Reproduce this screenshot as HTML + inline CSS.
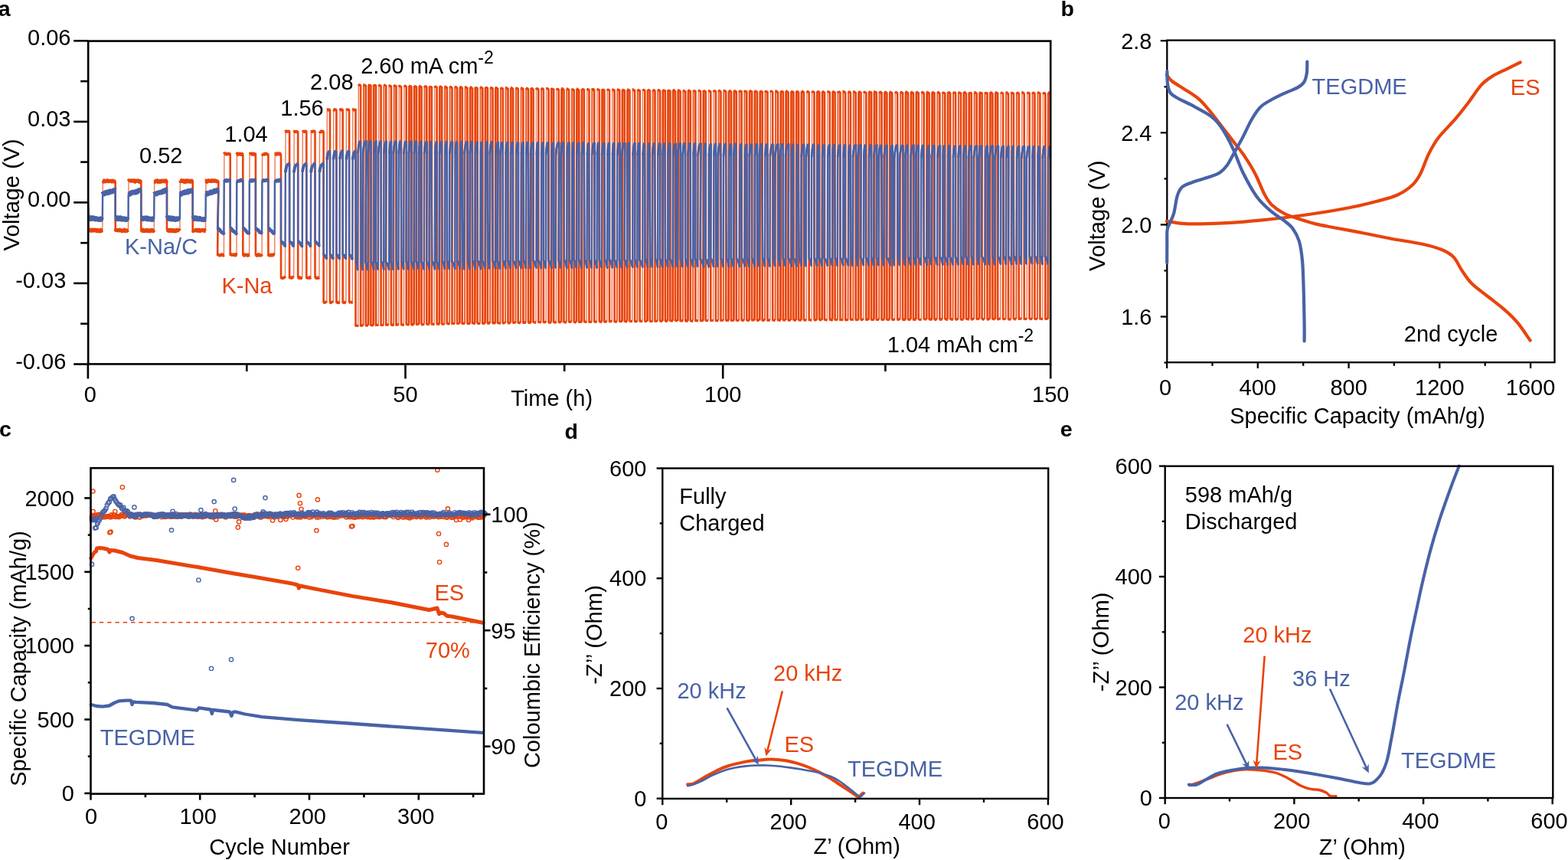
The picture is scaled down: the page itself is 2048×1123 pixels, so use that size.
<!DOCTYPE html>
<html><head><meta charset="utf-8"><title>Figure</title>
<style>html,body{margin:0;padding:0;background:#fff;width:2048px;height:1123px;overflow:hidden}svg{display:block}</style>
</head><body>
<svg width="2048" height="1123" viewBox="0 0 2048 1123" font-family="&quot;Liberation Sans&quot;, Arial, sans-serif">
<rect width="2048" height="1123" fill="#fff"/>
<g clip-path="url(#clipA)">
<path d="M114.9 267.9 L115.7 302.4 L117 300.7 L117.7 300.4 L118.4 301.3 L119.1 300.2 L119.8 301.1 L120.5 300.7 L121.2 300.2 L121.9 301 L122.6 300.2 L123.3 300.9 L124 300.2 L124.7 300.3 L125.4 300.9 L126.1 301.6 L126.8 300.3 L127.5 300.5 L128.2 301.2 L128.9 301.8 L129.6 301.1 L130.3 300.8 L131 301.8 L131.7 300.2 L132.4 301.6 L133.1 300.6 L133.8 300.3 M134 235.9 L134.7 236.3 L135.4 237.2 L136.2 236 L136.9 236.8 L137.6 236.9 L138.3 236.4 L139.1 236.7 L139.8 235.8 L140.5 235.8 L141.2 236.1 L142 236.9 L142.7 236.5 L143.4 236.3 L144.1 236.8 L144.9 236.5 L145.6 236.2 L146.3 237.1 L147 237 L147.8 236.1 L148.5 236.7 L149.2 236.7 L149.9 237.3 L150.7 237 L150.7 301.8 L151.4 300.4 L152.1 300.4 L152.8 300.5 L153.5 300.5 L154.2 301 L154.9 301.1 L155.6 300.6 L156.3 300.1 L157 300.8 L157.7 300.8 L158.4 301.1 L159.1 301.8 L159.8 301.3 L160.5 301 L161.2 301.2 L161.9 301.3 L162.6 300.2 L163.3 301.7 L164 301.5 L164.7 301.7 L165.4 301.5 L166.1 300.8 L166.8 300.8 L167.5 300.3 M167.7 236.8 L168.4 235.8 L169.1 235.8 L169.8 236.1 L170.6 236 L171.3 236.3 L172 235.8 L172.7 235.7 L173.5 236 L174.2 235.9 L174.9 236.4 L175.6 235.8 L176.4 237.3 L177.1 236.8 L177.8 236 L178.5 236.2 L179.3 236.3 L180 236.4 L180.7 235.9 L181.4 237.2 L182.2 237.5 L182.9 236.5 L183.6 236.6 L184.3 235.9 L184.3 301.6 L185 301 L185.7 301.3 L186.4 301.5 L187.1 300.2 L187.8 301.3 L188.5 301.7 L189.2 301.5 L190 301.4 L190.7 300.9 L191.4 300.4 L192.1 301.5 L192.8 300.7 L193.5 301.5 L194.2 301.8 L194.9 300.8 L195.6 300.8 L196.3 301.8 L197 301.4 L197.7 300.4 L198.4 300.3 L199.1 300.4 L199.8 301.7 L200.5 301.5 L201.2 300.4 M201.3 237.2 L202.1 237.5 L202.8 236.9 L203.5 236.3 L204.2 236.7 L205 235.9 L205.7 235.7 L206.4 237.5 L207.1 236.9 L207.9 236.7 L208.6 237.4 L209.3 236.5 L210 237.3 L210.8 237.2 L211.5 236.1 L212.2 236.2 L212.9 236.2 L213.7 236.1 L214.4 236.8 L215.1 236.2 L215.8 236.5 L216.6 235.9 L217.3 237.3 L218 236.3 L218 300.2 L218.7 300.5 L219.4 300.2 L220.1 301.3 L220.8 301.5 L221.5 301.7 L222.2 300.4 L222.9 301.4 L223.6 301.3 L224.3 300.3 L225 301.7 L225.7 301.8 L226.4 300.5 L227.1 301.8 L227.8 300.8 L228.5 301 L229.2 301.9 L229.9 301.6 L230.6 300.4 L231.4 300.9 L232.1 301 L232.8 300.7 L233.5 300.4 L234.2 300.7 L234.9 301.4 M235 235.7 L235.8 236.7 L236.5 236.5 L237.2 235.7 L237.9 236.3 L238.7 236.8 L239.4 236.6 L240.1 235.8 L240.8 237.5 L241.6 237.1 L242.3 237.5 L243 235.9 L243.7 236.2 L244.5 235.8 L245.2 237.1 L245.9 236.2 L246.6 235.9 L247.4 236.5 L248.1 237.3 L248.8 237.2 L249.5 236.2 L250.3 236 L251 237.4 L251.7 236.7 L251.7 300.7 L252.4 301.6 L253.1 301.4 L253.8 301.2 L254.5 300.8 L255.2 300.7 L255.9 300.2 L256.6 300.3 L257.3 300.2 L258 301.4 L258.7 300.5 L259.4 300.4 L260.1 300.2 L260.8 301.6 L261.5 301.7 L262.2 301.3 L262.9 300.6 L263.6 300.5 L264.3 300.6 L265 300.9 L265.7 300.4 L266.4 300.9 L267.1 300.6 L267.8 301.8 L268.5 301.8 M268.7 236.7 L269.4 236.1 L270.2 237.4 L270.9 236.3 L271.6 236.3 L272.3 235.7 L273.1 236.4 L273.8 236.6 L274.5 236.6 L275.2 236.1 L276 236.6 L276.7 235.7 L277.4 236.2 L278.1 235.9 L278.9 236.4 L279.6 235.8 L280.3 235.7 L281 236.3 L281.8 236.1 L282.5 236.8 L283.2 236.7 L283.9 237.1 L284.7 236.9 L285.4 237 L284.1 333 L284.9 332.8 L285.6 333 L286.4 333.3 L287.2 333.4 L287.9 333.2 L288.7 333.2 L289.4 332.3 L290.2 332.4 L290.9 332.6 L291.7 333.4 L292.4 332.7 M292.6 201.2 L293.3 200.3 L294.1 200.4 L294.8 200.7 L295.5 201.4 L296.3 201.4 L297 201.4 L297.8 200.7 L298.5 201.1 L299.2 201 L300 201 L300.7 200.5 L300.7 333 L301.5 332.2 L302.2 332.2 L303 333 L303.7 332.9 L304.5 332.7 L305.2 332.4 L306 332.8 L306.7 332.7 L307.5 333.5 L308.2 332.2 L309 333.4 M309.2 201.6 L309.9 200.5 L310.6 201.8 L311.4 201.4 L312.1 201.7 L312.9 200.7 L313.6 200.9 L314.3 200.9 L315.1 201.9 L315.8 201.2 L316.6 200.9 L317.3 201 L317.3 332.7 L318 332.3 L318.8 333.7 L319.5 332.4 L320.3 333 L321.1 332.8 L321.8 332.7 L322.6 333.4 L323.3 333.8 L324.1 332.6 L324.8 333.3 L325.6 332.7 M325.7 201.2 L326.5 200.9 L327.2 200.5 L328 200.5 L328.7 200.6 L329.4 201.7 L330.2 201.1 L330.9 200.6 L331.6 201.7 L332.4 201.9 L333.1 201 L333.9 200.5 L333.9 332.8 L334.6 332.9 L335.4 333.7 L336.1 333.6 L336.9 333.6 L337.6 332.2 L338.4 332.3 L339.1 333.3 L339.9 333.6 L340.6 333 L341.4 333.1 L342.1 332.2 M342.3 200.9 L343 201.8 L343.8 201.6 L344.5 201.6 L345.2 201.8 L346 200.7 L346.7 200.5 L347.5 200.5 L348.2 201.1 L348.9 201.4 L349.7 201.8 L350.4 201.4 L350.4 333.7 L351.2 333.2 L351.9 333.6 L352.7 333 L353.4 332.6 L354.2 332.6 L354.9 333.7 L355.7 333.3 L356.4 332.7 L357.2 332.2 L357.9 333 L358.7 333.3 M358.9 200.9 L359.6 200.7 L360.3 201.3 L361.1 201.8 L361.8 200.6 L362.5 200.3 L363.3 200.8 L364 200.9 L364.8 201.4 L365.5 200.6 L366.2 201.6 L367 201.5 L367 363.1 L367.8 363.1 L368.6 362.9 L369.4 363.2 L370.2 363.2 L370.9 362.3 L371.7 362.1 L372.5 363.2 M372.7 172.2 L373.5 171.2 L374.2 172.1 L375 171.7 L375.8 171.7 L376.6 171.6 L377.3 171.4 L378.1 171.2 L378.1 363.1 L378.9 361.9 L379.7 362.4 L380.5 363 L381.3 362.9 L382.1 361.9 L382.9 361.9 L383.7 361.9 M383.8 172.5 L384.6 171.5 L385.4 172.2 L386.1 172.4 L386.9 171.7 L387.7 171.6 L388.4 172.5 L389.2 172 L389.2 362.5 L390 362.5 L390.8 363.2 L391.6 362.1 L392.4 363 L393.2 362.9 L394 363 L394.8 362.9 M394.9 172 L395.7 171.6 L396.5 171.6 L397.3 171.7 L398 172.3 L398.8 171.3 L399.6 171.5 L400.3 172.2 L400.3 362.7 L401.1 362.8 L401.9 362.9 L402.7 363 L403.5 362.8 L404.3 362 L405.1 363 L405.9 362.3 M406.1 172 L406.8 171.7 L407.6 172.2 L408.4 171.5 L409.1 171.5 L409.9 171.5 L410.7 171.4 L411.5 172.4 L411.5 362 L412.3 362.1 L413.1 363.2 L413.8 362.7 L414.6 363.2 L415.4 362.4 L416.2 363.1 L417 362.5 M417.2 171.5 L418 172.3 L418.7 172.5 L419.5 171.3 L420.3 172 L421 172 L421.8 171.5 L422.6 171.7 L422.6 394.8 L423.4 395 L424.3 395.1 L425.1 394.4 L425.9 394.5 L426.8 395.2 M426.9 143.3 L427.7 143.1 L428.6 143.1 L429.4 143.9 L430.2 143.2 L431 143.5 L431 394.8 L431.8 395.4 L432.6 394.9 L433.5 394.5 L434.3 394.3 L435.2 395 M435.3 143.5 L436.1 143.9 L436.9 142.9 L437.7 143.5 L438.6 143.2 L439.4 143.4 L439.4 394.9 L440.2 394.4 L441 395.4 L441.9 394.8 L442.7 395.4 L443.6 395.1 M443.7 143.8 L444.5 143 L445.3 143.7 L446.1 143 L446.9 143.3 L447.7 143.8 L447.7 395.2 L448.6 394.4 L449.4 395.3 L450.3 394.5 L451.1 395 L451.9 395 M452.1 143.5 L452.9 143.1 L453.7 143.3 L454.5 143.5 L455.3 143.3 L456.1 143.6 L456.1 394.5 L457 394.8 L457.8 394.4 L458.7 394.8 L459.5 394.9 L460.3 394.4 M460.5 143.5 L461.3 142.9 L462.1 143.7 L462.9 143.7 L463.7 143.4 L464.5 142.8 L464.5 425.6 L465.3 424.8 L466.2 425.5 L467 425.6 L467.8 424.7 M468 110.2 L468.8 110.9 L469.6 110.7 L470.4 111.8 L471.1 111.5 L471.1 425.4 L472 424.7 L472.8 425.3 L473.6 424.6 L474.5 425.1 M474.6 110.6 L475.4 110.7 L476.2 111.6 L477 111.6 L477.8 112 L477.8 425.1 L478.6 424.4 L479.4 425.2 L480.2 424.6 L481.1 425 M481.2 111.1 L482 111.1 L482.8 111.5 L483.6 111.5 L484.4 111.6 L484.4 424.8 L485.2 424.8 L486 424.4 L486.9 424.9 L487.7 424.7 M487.9 110.5 L488.6 111.6 L489.4 111.3 L490.2 111.5 L491 111.8 L491 425 L491.8 424.1 L492.7 424.6 L493.5 424.5 L494.3 424.3 M494.5 110.6 L495.3 111.6 L496.1 111.2 L496.8 112.1 L497.6 112.9 L497.6 424.8 L498.5 424.7 L499.3 424.4 L500.1 424.7 L500.9 424.4 M501.1 110.9 L501.9 111.1 L502.7 111.6 L503.5 111.8 L504.2 112.4 L504.2 424.7 L505.1 423.8 L505.9 424.1 L506.7 424.1 L507.6 424.6 M507.7 111.8 L508.5 111.9 L509.3 111.9 L510.1 112.8 L510.9 112.6 L510.9 423.9 L511.7 424.3 L512.5 423.8 L513.3 424.6 L514.2 423.8 M514.3 111 L515.1 111.5 L515.9 112.6 L516.7 112.4 L517.5 112.6 L517.5 424.5 L518.3 424.5 L519.1 423.7 L520 423.8 L520.8 423.7 M521 111.2 L521.7 112.4 L522.5 112.7 L523.3 112.9 L524.1 113.4 L524.1 424.1 L524.9 423.8 L525.8 423.7 L526.6 424.4 L527.4 423.9 M527.6 112.2 L528.4 112.3 L529.2 112.1 L529.9 112.8 L530.7 113.2 L530.7 423.3 L531.6 423.8 L532.4 423.8 L533.2 424.1 L534 423.5 M534.2 112 L535 112.2 L535.8 113 L536.6 112.8 L537.4 113.8 L537.4 424.1 L538.2 423.3 L539 424.1 L539.9 423.2 L540.7 423.4 M540.9 111.9 L541.6 112.9 L542.4 112.8 L543.2 113.1 L544 113.9 L544 423.8 L544.8 423.6 L545.7 423.2 L546.5 423.5 L547.3 423.9 M547.5 112 L548.3 112.3 L549.1 112.8 L549.9 113.5 L550.6 114 L550.6 423.3 L551.5 423.9 L552.3 423.7 L553.1 423.7 L554 423.4 M554.1 112.1 L554.9 112.9 L555.7 112.7 L556.5 113.2 L557.3 113.7 L557.3 423.2 L558.1 423 L558.9 423.5 L559.8 423.7 L560.6 423.6 M560.8 112.8 L561.5 113.3 L562.3 113.5 L563.1 113.8 L563.9 113.9 L563.9 423.6 L564.7 422.9 L565.6 423.3 L566.4 423.5 L567.2 423.1 M567.4 112.7 L568.2 113.5 L569 113 L569.8 113.8 L570.6 113.8 L570.6 422.8 L571.4 423.2 L572.2 422.9 L573 423.3 L573.9 422.7 M574 113.3 L574.8 113.1 L575.6 113.1 L576.4 113.7 L577.2 114.2 L577.2 422.6 L578 423.2 L578.8 423.3 L579.7 423.1 L580.5 422.9 M580.7 113.1 L581.5 113.1 L582.2 114.2 L583 113.9 L583.8 114.6 L583.8 422.8 L584.7 422.5 L585.5 422.3 L586.3 423 L587.1 422.6 M587.3 112.9 L588.1 113.3 L588.9 113.8 L589.7 114.1 L590.5 114.7 L590.5 422.9 L591.3 422.5 L592.1 422.3 L592.9 422.4 L593.8 422.4 M593.9 113.6 L594.7 113.5 L595.5 113.6 L596.3 114.7 L597.1 115 L597.1 422.7 L597.9 422.4 L598.8 422.3 L599.6 422.2 L600.4 422.6 M600.6 113 L601.4 113.7 L602.2 113.8 L602.9 114.5 L603.7 114.8 L603.7 422.6 L604.6 422.6 L605.4 422 L606.2 422.6 L607.1 422.7 M607.2 114 L608 113.7 L608.8 114.7 L609.6 114.6 L610.4 114.9 L610.4 422.4 L611.2 422.7 L612 422.2 L612.9 422.7 L613.7 422.3 M613.9 113.7 L614.6 113.8 L615.4 114.4 L616.2 115.2 L617 115.2 L617 422.1 L617.8 421.8 L618.7 422 L619.5 422.7 L620.3 422.4 M620.5 114 L621.3 114.4 L622.1 114.9 L622.9 115 L623.6 115.3 L623.6 422.3 L624.5 422 L625.3 422.5 L626.1 422.5 L627 422.2 M627.1 113.7 L627.9 114.1 L628.7 114.6 L629.5 114.8 L630.3 115.3 L630.3 422.2 L631.1 422.5 L631.9 422.5 L632.8 422 L633.6 422 M633.8 113.7 L634.6 114.6 L635.3 114.5 L636.1 114.8 L636.9 115 L636.9 422.2 L637.7 422.3 L638.6 422.2 L639.4 421.5 L640.2 422.1 M640.4 114.4 L641.2 114.5 L642 115.3 L642.8 115 L643.6 116.1 L643.6 421.7 L644.4 421.9 L645.2 421.8 L646 422 L646.9 421.5 M647 114.6 L647.8 114.5 L648.6 115.2 L649.4 115.5 L650.2 115.6 L650.2 421.9 L651 421.6 L651.8 421.7 L652.7 422.2 L653.5 421.6 M653.7 114.6 L654.5 114.9 L655.2 115.5 L656 115.8 L656.8 115.6 L656.8 421.9 L657.7 422.1 L658.5 421.5 L659.3 421.3 L660.1 421.7 M660.3 114.8 L661.1 114.6 L661.9 115.5 L662.7 116 L663.5 115.7 L663.5 421.6 L664.3 422 L665.1 422 L666 421.6 L666.8 421.5 M666.9 114.7 L667.7 114.7 L668.5 115.1 L669.3 115.4 L670.1 116.3 L670.1 421.3 L670.9 421.5 L671.8 421 L672.6 421 L673.4 422 M673.6 115.1 L674.4 115.1 L675.2 115.5 L675.9 115.6 L676.7 116.5 L676.7 421.3 L677.6 421.8 L678.4 421.8 L679.2 420.9 L680.1 421.5 M680.2 114.8 L681 114.9 L681.8 116.1 L682.6 115.7 L683.4 116.4 L683.4 421.7 L684.2 421.6 L685 420.8 L685.9 421.6 L686.7 421.5 M686.9 115.1 L687.6 115.8 L688.4 115.3 L689.2 115.7 L690 116.7 L690 420.8 L690.8 421.4 L691.7 420.7 L692.5 421.4 L693.3 420.9 M693.5 114.6 L694.3 115.9 L695.1 115.5 L695.9 116.6 L696.6 116.9 L696.6 420.7 L697.5 420.8 L698.3 420.7 L699.1 421.3 L700 421.2 M700.1 114.9 L700.9 115.9 L701.7 115.7 L702.5 116.2 L703.3 116.3 L703.3 420.8 L704.1 420.8 L704.9 420.7 L705.8 420.9 L706.6 421.5 M706.8 115.8 L707.6 116.1 L708.3 115.6 L709.1 116.2 L709.9 117.1 L709.9 420.6 L710.7 421 L711.6 420.6 L712.4 420.6 L713.2 421.2 M713.4 115.6 L714.2 115.5 L715 115.7 L715.8 116.1 L716.6 116.9 L716.6 421.2 L717.4 420.7 L718.2 421.2 L719 421.2 L719.9 420.8 M720 115 L720.8 116.3 L721.6 116.2 L722.4 117 L723.2 116.7 L723.2 420.6 L724 421 L724.9 420.6 L725.7 421 L726.5 420.3 M726.7 116 L727.5 116.4 L728.3 116.3 L729 116.7 L729.8 117.1 L729.8 420.8 L730.7 420.7 L731.5 420.9 L732.3 420.3 L733.1 421 M733.3 116 L734.1 115.6 L734.9 116.1 L735.7 116.8 L736.5 117.1 L736.5 420.9 L737.3 420.6 L738.1 420.5 L738.9 421 L739.8 420.9 M739.9 115.7 L740.7 115.9 L741.5 116.4 L742.3 116.8 L743.1 117.7 L743.1 420.1 L743.9 420.4 L744.7 420.5 L745.6 420 L746.4 420.2 M746.6 116.4 L747.3 116.6 L748.1 117.1 L748.9 117.1 L749.7 117.7 L749.7 420.5 L750.5 420.4 L751.3 420.9 L752.2 420.2 L753 420.2 M753.2 116.2 L754 116 L754.7 116.8 L755.5 117.5 L756.3 117.5 L756.3 420.4 L757.1 420.5 L758 420.1 L758.8 420.6 L759.6 420.3 M759.8 116.2 L760.6 116.6 L761.4 116.8 L762.1 117 L762.9 117.3 L762.9 419.9 L763.7 419.8 L764.6 420.6 L765.4 420.2 L766.2 419.8 M766.4 116.1 L767.2 116.5 L768 117.2 L768.8 116.9 L769.5 117.4 L769.5 420.4 L770.4 420.5 L771.2 420.2 L772 420.5 L772.8 420.4 M773 116.7 L773.8 116.3 L774.6 117.4 L775.4 116.9 L776.2 118 L776.2 420.2 L777 420 L777.8 419.9 L778.6 420.4 L779.5 420.5 M779.6 116.4 L780.4 116.7 L781.2 116.8 L782 117.3 L782.8 117.5 L782.8 419.6 L783.6 420.1 L784.4 420 L785.2 420.5 L786.1 420.3 M786.2 116.5 L787 117.3 L787.8 117.2 L788.6 117.6 L789.4 118.1 L789.4 420.4 L790.2 420 L791 419.9 L791.9 420.1 L792.7 420.5 M792.9 116.4 L793.6 117 L794.4 117.6 L795.2 117.3 L796 117.8 L796 419.9 L796.8 419.9 L797.6 419.6 L798.5 419.6 L799.3 420 M799.5 116.8 L800.3 116.9 L801 117.9 L801.8 117.9 L802.6 117.6 L802.6 420 L803.4 419.9 L804.3 420.3 L805.1 419.9 L805.9 419.7 M806.1 116.4 L806.9 116.8 L807.7 117.7 L808.4 117.4 L809.2 117.8 L809.2 419.8 L810 419.6 L810.9 419.7 L811.7 419.7 L812.5 419.3 M812.7 117.2 L813.5 117.3 L814.3 118 L815.1 117.8 L815.8 118.4 L815.8 419.4 L816.7 419.5 L817.5 420.1 L818.3 419.7 L819.1 420 M819.3 116.7 L820.1 116.9 L820.9 117.5 L821.7 117.7 L822.5 118.8 L822.5 419.4 L823.3 419.2 L824.1 419.8 L824.9 419.5 L825.8 419.3 M825.9 117.2 L826.7 116.9 L827.5 117.5 L828.3 118.4 L829.1 118 L829.1 419.8 L829.9 419.3 L830.7 420 L831.5 419.6 L832.4 419.4 M832.5 116.8 L833.3 117.5 L834.1 117.5 L834.9 118.5 L835.7 118.1 L835.7 419.3 L836.5 419.7 L837.3 419.1 L838.2 419.6 L839 419.4 M839.2 117.2 L839.9 117.3 L840.7 117.4 L841.5 118 L842.3 118.3 L842.3 419.3 L843.1 419.6 L843.9 419.6 L844.8 419.2 L845.6 419.8 M845.8 117.1 L846.6 117.7 L847.3 117.6 L848.1 117.9 L848.9 119.1 L848.9 419 L849.7 419.7 L850.6 419.4 L851.4 419.6 L852.2 419.1 M852.4 117.3 L853.2 117.9 L854 117.9 L854.7 117.9 L855.5 119.1 L855.5 419.6 L856.3 418.9 L857.2 419.5 L858 419.2 L858.8 419.5 M859 117.7 L859.8 117.5 L860.6 117.7 L861.4 118.9 L862.1 118.7 L862.1 418.8 L863 419.4 L863.8 419.5 L864.6 419 L865.4 419.3 M865.6 117.9 L866.4 118 L867.2 118.2 L868 118.3 L868.8 118.4 L868.8 419 L869.6 419 L870.4 419.6 L871.2 418.8 L872.1 419.2 M872.2 117.4 L873 118.2 L873.8 118.3 L874.6 118.9 L875.4 118.6 L875.4 419.1 L876.2 418.7 L877 418.9 L877.8 419.1 L878.7 419 M878.8 117.3 L879.6 117.5 L880.4 117.8 L881.2 119.2 L882 119.3 L882 418.8 L882.8 418.8 L883.6 418.7 L884.5 418.6 L885.3 419.3 M885.5 118 L886.2 117.8 L887 118.1 L887.8 118.9 L888.6 119.4 L888.6 419.3 L889.4 418.7 L890.2 418.5 L891.1 419.1 L891.9 419.1 M892.1 118.1 L892.9 118.3 L893.6 118.9 L894.4 119.3 L895.2 119.2 L895.2 418.6 L896 419.2 L896.9 418.4 L897.7 419.3 L898.5 419.3 M898.7 118.1 L899.5 118.1 L900.3 118.3 L901 119.1 L901.8 119.3 L901.8 418.7 L902.6 418.8 L903.5 419.4 L904.3 419.3 L905.1 419.2 M905.3 118.4 L906.1 118.7 L906.9 118.7 L907.6 119.3 L908.4 118.9 L908.4 419 L909.3 418.8 L910.1 418.4 L910.9 419 L911.7 418.7 M911.9 118.1 L912.7 118.2 L913.5 118.7 L914.3 119.1 L915 119.3 L915 418.8 L915.9 418.9 L916.7 418.4 L917.5 418.7 L918.4 418.3 M918.5 118 L919.3 118.8 L920.1 118.8 L920.9 119.3 L921.7 119.7 L921.7 418.6 L922.5 418.2 L923.3 418.8 L924.1 418.4 L925 418.5 M925.1 118.3 L925.9 118.4 L926.7 119.2 L927.5 119.3 L928.3 119.9 L928.3 418.2 L929.1 418.8 L929.9 418.3 L930.8 418.7 L931.6 419 M931.8 117.8 L932.5 118.9 L933.3 119 L934.1 119 L934.9 119.3 L934.9 419 L935.7 418.6 L936.5 418.8 L937.4 418.9 L938.2 419.1 M938.4 117.7 L939.2 118.4 L939.9 118.6 L940.7 119.3 L941.5 120 L941.5 418.7 L942.3 418.1 L943.2 418.4 L944 418.3 L944.8 418.9 M945 118.4 L945.8 118.2 L946.6 118.7 L947.4 119.2 L948.2 119.7 L948.2 418.3 L949.1 418.5 L949.9 418.3 L950.8 418.6 L951.6 418.5 M951.8 118.8 L952.6 119.2 L953.4 118.6 L954.2 119.5 L955 120 L955 418.5 L955.8 418.6 L956.7 418.3 L957.5 418.5 L958.4 418.4 M958.6 118 L959.4 118.6 L960.2 118.9 L961 120 L961.8 119.8 L961.8 418.2 L962.6 418.2 L963.5 418.6 L964.3 418.5 L965.2 418.8 M965.3 118.3 L966.1 119.3 L966.9 119.3 L967.8 119.1 L968.6 119.6 L968.6 418 L969.4 418.1 L970.3 418.6 L971.1 418.1 L972 418.3 M972.1 118.2 L972.9 119 L973.7 119.6 L974.5 119.7 L975.3 119.6 L975.3 418 L976.2 418.1 L977 418.6 L977.9 418.5 L978.7 418.2 M978.9 118.8 L979.7 118.8 L980.5 118.9 L981.3 119.6 L982.1 119.6 L982.1 418.1 L983 417.9 L983.8 417.9 L984.7 417.9 L985.5 418.5 M985.7 118.2 L986.5 119.3 L987.3 119.3 L988.1 119.8 L988.9 120.2 L988.9 418.2 L989.7 418.7 L990.6 417.8 L991.4 417.7 L992.3 418.2 M992.5 118.9 L993.3 119.3 L994.1 119.3 L994.9 120.3 L995.7 119.9 L995.7 418.4 L996.5 418.6 L997.4 417.8 L998.2 417.7 L999.1 418.4 M999.2 118.5 L1000 119.6 L1000.9 119.5 L1001.7 120 L1002.5 120 L1002.5 418.5 L1003.3 418.6 L1004.2 418.2 L1005 417.8 L1005.9 417.9 M1006 118.6 L1006.8 119.1 L1007.6 119.3 L1008.4 119.6 L1009.2 120.5 L1009.2 417.7 L1010.1 418.3 L1010.9 418.2 L1011.8 418 L1012.6 418.2 M1012.8 119.3 L1013.6 118.9 L1014.4 120 L1015.2 119.8 L1016 120.6 L1016 418.2 L1016.9 417.6 L1017.7 417.9 L1018.6 418.4 L1019.4 418.2 M1019.6 119.3 L1020.4 119.8 L1021.2 119.2 L1022 119.7 L1022.8 120.6 L1022.8 417.9 L1023.7 417.7 L1024.5 418.2 L1025.3 417.6 L1026.2 418.2 M1026.4 119 L1027.2 119 L1028 119.5 L1028.8 120 L1029.6 120.8 L1029.6 418.1 L1030.4 418.1 L1031.3 418 L1032.1 418 L1033 418.1 M1033.1 119.5 L1033.9 119.8 L1034.8 120 L1035.6 120 L1036.4 120.3 L1036.4 417.6 L1037.2 417.5 L1038.1 418.2 L1038.9 418.2 L1039.8 418.3 M1039.9 118.6 L1040.7 119.6 L1041.5 119.6 L1042.3 120.3 L1043.1 120.5 L1043.1 417.7 L1044 417.9 L1044.8 418 L1045.7 418 L1046.5 417.7 M1046.7 119.3 L1047.5 119.5 L1048.3 119.6 L1049.1 120.3 L1049.9 120.3 L1049.9 417.5 L1050.8 418.1 L1051.6 417.8 L1052.5 418 L1053.3 418.1 M1053.5 119.6 L1054.3 119.9 L1055.1 119.4 L1055.9 120.1 L1056.7 120.9 L1056.7 418 L1057.6 417.7 L1058.4 417.7 L1059.2 418.1 L1060.1 418 M1060.3 118.9 L1061.1 119.8 L1061.9 119.8 L1062.7 120.3 L1063.5 120.4 L1063.5 417.3 L1064.3 417.9 L1065.2 418.1 L1066 417.4 L1066.9 417.7 M1067 119.6 L1067.8 119.8 L1068.7 119.9 L1069.5 119.9 L1070.3 120.6 L1070.3 417.6 L1071.1 417.9 L1072 417.5 L1072.8 417.3 L1073.7 417.9 M1073.8 119.2 L1074.6 119.7 L1075.4 120 L1076.2 120.8 L1077 121 L1077 417.2 L1077.9 417.8 L1078.7 417.7 L1079.6 417.9 L1080.4 417.9 M1080.6 119 L1081.4 119.5 L1082.2 119.7 L1083 120.8 L1083.8 120.4 L1083.8 417.4 L1084.7 417.6 L1085.5 417.1 L1086.4 418.1 L1087.2 417.4 M1087.4 119.2 L1088.2 119.6 L1089 119.9 L1089.8 120.8 L1090.6 120.9 L1090.6 417.5 L1091.5 417.6 L1092.3 417.7 L1093.1 417.4 L1094 417.9 M1094.2 119.2 L1095 120.3 L1095.8 120.2 L1096.6 120.1 L1097.4 120.7 L1097.4 417.9 L1098.2 417.1 L1099.1 417.5 L1099.9 417.7 L1100.8 417.1 M1100.9 119.9 L1101.8 119.4 L1102.6 120.3 L1103.4 120.3 L1104.2 121.4 L1104.2 417.8 L1105 418 L1105.9 417.4 L1106.7 417.7 L1107.6 417.3 M1107.7 120 L1108.5 120.1 L1109.3 119.9 L1110.1 120.2 L1110.9 121.2 L1110.9 417.4 L1111.8 417 L1112.6 417.3 L1113.5 417.6 L1114.3 417.2 M1114.5 119.7 L1115.3 119.6 L1116.1 120.3 L1116.9 120.9 L1117.7 121 L1117.7 417.4 L1118.6 417.8 L1119.4 417.5 L1120.3 417.5 L1121.1 417 M1121.3 119.3 L1122.1 119.8 L1122.9 120.8 L1123.7 121.1 L1124.5 120.8 L1124.5 417.1 L1125.4 417.7 L1126.2 417.2 L1127.1 417 L1127.9 417.5 M1128.1 119.3 L1128.9 120.1 L1129.7 120.7 L1130.5 120.9 L1131.3 121.1 L1131.3 417.7 L1132.1 417.3 L1133 417 L1133.8 417 L1134.7 417.7 M1134.8 119.4 L1135.7 120.1 L1136.5 120.5 L1137.3 120.4 L1138.1 121.1 L1138.1 417.3 L1138.9 417.6 L1139.8 417.4 L1140.6 417.5 L1141.5 417.1 M1141.6 120 L1142.4 119.8 L1143.2 120.3 L1144 120.4 L1144.8 121.1 L1144.8 417.4 L1145.7 417.5 L1146.5 417.6 L1147.4 417.1 L1148.2 417.6 M1148.4 119.8 L1149.2 120.6 L1150 120 L1150.8 121.3 L1151.6 121.1 L1151.6 417.5 L1152.5 417.2 L1153.3 417.3 L1154.2 417.5 L1155 417.7 M1155.2 120.1 L1156 120.4 L1156.8 120.3 L1157.6 121 L1158.4 121.6 L1158.4 417.5 L1159.3 417.3 L1160.2 417.2 L1161 417.5 L1161.9 417.5 M1162.1 120.3 L1162.9 120.1 L1163.7 121.1 L1164.5 121 L1165.3 121.8 L1165.3 417.4 L1166.2 417.6 L1167.1 417.5 L1167.9 417.1 L1168.8 416.8 M1169 120.1 L1169.8 120.6 L1170.6 120.5 L1171.4 121.1 L1172.2 121.7 L1172.2 417.5 L1173.1 417.3 L1174 417 L1174.8 416.7 L1175.7 416.9 M1175.9 120.2 L1176.7 120.3 L1177.5 120.8 L1178.3 121.3 L1179.1 121 L1179.1 417.1 L1180 417.6 L1180.9 416.8 L1181.7 417.5 L1182.6 416.8 M1182.7 120 L1183.6 119.9 L1184.4 120.4 L1185.2 121.5 L1186 121.4 L1186 417.2 L1186.9 417 L1187.7 417.6 L1188.6 417 L1189.5 417.3 M1189.6 120.2 L1190.5 120.3 L1191.3 120.8 L1192.1 121.3 L1192.9 121.9 L1192.9 417.5 L1193.8 417.5 L1194.6 416.7 L1195.5 417.2 L1196.4 417.1 M1196.5 119.6 L1197.4 120.3 L1198.2 121 L1199 121.3 L1199.8 121.3 L1199.8 416.7 L1200.7 417.1 L1201.5 417.4 L1202.4 417.3 L1203.3 416.9 M1203.4 119.8 L1204.3 120.5 L1205.1 121.2 L1205.9 120.9 L1206.7 121.8 L1206.7 416.6 L1207.6 416.8 L1208.4 416.9 L1209.3 416.9 L1210.2 417.5 M1210.3 119.9 L1211.2 120.2 L1212 121.3 L1212.8 121.2 L1213.6 121.9 L1213.6 416.8 L1214.5 417.1 L1215.3 416.7 L1216.2 417.2 L1217.1 416.5 M1217.2 120.5 L1218 120.6 L1218.9 120.8 L1219.7 121.7 L1220.5 121.4 L1220.5 416.8 L1221.4 417.4 L1222.2 417.2 L1223.1 416.8 L1223.9 416.8 M1224.1 120.5 L1224.9 120.4 L1225.8 120.6 L1226.6 121.7 L1227.4 121.7 L1227.4 417.2 L1228.3 417.3 L1229.1 416.6 L1230 417.1 L1230.8 417.2 M1231 120.3 L1231.8 121 L1232.7 121.4 L1233.5 121.6 L1234.3 122 L1234.3 416.6 L1235.2 416.5 L1236 417.1 L1236.9 417.4 L1237.7 417.2 M1237.9 120.2 L1238.7 120.9 L1239.6 120.6 L1240.4 121.7 L1241.2 121.5 L1241.2 416.7 L1242 416.9 L1242.9 416.6 L1243.8 417.2 L1244.6 416.6 M1244.8 120.7 L1245.6 121 L1246.4 121.1 L1247.3 120.9 L1248.1 122 L1248.1 416.7 L1248.9 417.3 L1249.8 416.4 L1250.7 416.8 L1251.5 416.5 M1251.7 120.3 L1252.5 120.9 L1253.3 121.3 L1254.2 121.4 L1255 121.6 L1255 417.1 L1255.8 417.3 L1256.7 417.2 L1257.6 417 L1258.4 417 M1258.6 120 L1259.4 120.5 L1260.2 120.6 L1261.1 121.8 L1261.9 122 L1261.9 416.4 L1262.7 416.4 L1263.6 416.4 L1264.5 417.1 L1265.3 416.8 M1265.5 120.9 L1266.3 121.2 L1267.1 121.4 L1268 121.5 L1268.8 122.2 L1268.8 417.1 L1269.6 417.1 L1270.5 416.4 L1271.4 416.3 L1272.2 416.5 M1272.4 120.6 L1273.2 120.7 L1274 120.7 L1274.8 121.9 L1275.7 122.2 L1275.7 416.3 L1276.5 416.8 L1277.4 416.4 L1278.3 416.4 L1279.1 416.7 M1279.3 120.6 L1280.1 121 L1280.9 121.4 L1281.7 121.5 L1282.6 121.5 L1282.6 416.3 L1283.4 416.4 L1284.3 417.2 L1285.1 416.4 L1286 416.6 M1286.2 120.8 L1287 121.2 L1287.8 121.4 L1288.6 121.8 L1289.5 121.5 L1289.5 416.3 L1290.3 417.2 L1291.2 416.9 L1292 416.4 L1292.9 417 M1293.1 120.2 L1293.9 120.9 L1294.7 120.9 L1295.5 121.9 L1296.4 122.4 L1296.4 416.6 L1297.2 416.2 L1298.1 416.9 L1298.9 416.2 L1299.8 417 M1300 120.9 L1300.8 120.9 L1301.6 120.9 L1302.4 121.8 L1303.2 121.7 L1303.2 417.1 L1304.1 416.9 L1305 416.1 L1305.8 416.2 L1306.7 416.2 M1306.9 120.8 L1307.7 121.1 L1308.5 121.3 L1309.3 121.6 L1310.1 121.9 L1310.1 416.5 L1311 416.8 L1311.9 416.4 L1312.7 416.4 L1313.6 416.5 M1313.8 120.5 L1314.6 120.6 L1315.4 121.3 L1316.2 122.2 L1317 122.2 L1317 416.9 L1317.9 416.9 L1318.8 417 L1319.6 416.9 L1320.5 416.6 M1320.7 120.3 L1321.5 121.4 L1322.3 121.2 L1323.1 121.9 L1323.9 122 L1323.9 416.3 L1324.8 416.3 L1325.7 417 L1326.5 416.1 L1327.4 416.3 M1327.6 120.9 L1328.4 121.5 L1329.2 121.1 L1330 121.7 L1330.8 122.3 L1330.8 416.7 L1331.7 416.3 L1332.6 416.1 L1333.4 416.1 L1334.3 416.1 M1334.4 120.6 L1335.3 120.7 L1336.1 121.1 L1336.9 121.8 L1337.7 122.6 L1337.7 416.8 L1338.6 416 L1339.4 416.8 L1340.3 416.2 L1341.2 416.9 M1341.3 121.1 L1342.2 121.3 L1343 121.2 L1343.8 121.3 L1344.6 121.9 L1344.6 416.1 L1345.5 416 L1346.3 416.8 L1347.2 416.1 L1348.1 417 M1348.2 120.7 L1349.1 121.4 L1349.9 121.1 L1350.7 122.1 L1351.5 121.9 L1351.5 416.6 L1352.4 416.4 L1353.2 416.8 L1354.1 416 L1355 416.6 M1355.1 121.2 L1356 120.9 L1356.8 121 L1357.6 121.8 L1358.4 121.8 L1358.4 416.5 L1359.3 416 L1360.1 416.2 L1361 416.7 L1361.9 416.5 M1362 121.2 L1362.8 121.7 L1363.7 121.9 L1364.5 121.5 L1365.3 122.7 L1365.3 416.1 L1366.2 416.6 L1367 416.3 L1367.9 416 L1368.8 416.9 M1368.9 120.8 L1369.7 120.9 L1370.6 121.1 L1371.4 122.1 L1372.2 122.3" fill="none" stroke="#E8440C" stroke-width="2.6" stroke-linejoin="round"/><path d="M117 300.7 L117.7 300.4 L118.4 301.3 L119.1 300.2 L119.8 301.1 L120.5 300.7 L121.2 300.2 L121.9 301 L122.6 300.2 L123.3 300.9 L124 300.2 L124.7 300.3 L125.4 300.9 L126.1 301.6 L126.8 300.3 L127.5 300.5 L128.2 301.2 L128.9 301.8 L129.6 301.1 L130.3 300.8 L131 301.8 L131.7 300.2 L132.4 301.6 L133.1 300.6 L133.8 300.3 M134 235.9 L134.7 236.3 L135.4 237.2 L136.2 236 L136.9 236.8 L137.6 236.9 L138.3 236.4 L139.1 236.7 L139.8 235.8 L140.5 235.8 L141.2 236.1 L142 236.9 L142.7 236.5 L143.4 236.3 L144.1 236.8 L144.9 236.5 L145.6 236.2 L146.3 237.1 L147 237 L147.8 236.1 L148.5 236.7 L149.2 236.7 L149.9 237.3 L150.7 237 M150.7 301.8 L151.4 300.4 L152.1 300.4 L152.8 300.5 L153.5 300.5 L154.2 301 L154.9 301.1 L155.6 300.6 L156.3 300.1 L157 300.8 L157.7 300.8 L158.4 301.1 L159.1 301.8 L159.8 301.3 L160.5 301 L161.2 301.2 L161.9 301.3 L162.6 300.2 L163.3 301.7 L164 301.5 L164.7 301.7 L165.4 301.5 L166.1 300.8 L166.8 300.8 L167.5 300.3 M167.7 236.8 L168.4 235.8 L169.1 235.8 L169.8 236.1 L170.6 236 L171.3 236.3 L172 235.8 L172.7 235.7 L173.5 236 L174.2 235.9 L174.9 236.4 L175.6 235.8 L176.4 237.3 L177.1 236.8 L177.8 236 L178.5 236.2 L179.3 236.3 L180 236.4 L180.7 235.9 L181.4 237.2 L182.2 237.5 L182.9 236.5 L183.6 236.6 L184.3 235.9 M184.3 301.6 L185 301 L185.7 301.3 L186.4 301.5 L187.1 300.2 L187.8 301.3 L188.5 301.7 L189.2 301.5 L190 301.4 L190.7 300.9 L191.4 300.4 L192.1 301.5 L192.8 300.7 L193.5 301.5 L194.2 301.8 L194.9 300.8 L195.6 300.8 L196.3 301.8 L197 301.4 L197.7 300.4 L198.4 300.3 L199.1 300.4 L199.8 301.7 L200.5 301.5 L201.2 300.4 M201.3 237.2 L202.1 237.5 L202.8 236.9 L203.5 236.3 L204.2 236.7 L205 235.9 L205.7 235.7 L206.4 237.5 L207.1 236.9 L207.9 236.7 L208.6 237.4 L209.3 236.5 L210 237.3 L210.8 237.2 L211.5 236.1 L212.2 236.2 L212.9 236.2 L213.7 236.1 L214.4 236.8 L215.1 236.2 L215.8 236.5 L216.6 235.9 L217.3 237.3 L218 236.3 M218 300.2 L218.7 300.5 L219.4 300.2 L220.1 301.3 L220.8 301.5 L221.5 301.7 L222.2 300.4 L222.9 301.4 L223.6 301.3 L224.3 300.3 L225 301.7 L225.7 301.8 L226.4 300.5 L227.1 301.8 L227.8 300.8 L228.5 301 L229.2 301.9 L229.9 301.6 L230.6 300.4 L231.4 300.9 L232.1 301 L232.8 300.7 L233.5 300.4 L234.2 300.7 L234.9 301.4 M235 235.7 L235.8 236.7 L236.5 236.5 L237.2 235.7 L237.9 236.3 L238.7 236.8 L239.4 236.6 L240.1 235.8 L240.8 237.5 L241.6 237.1 L242.3 237.5 L243 235.9 L243.7 236.2 L244.5 235.8 L245.2 237.1 L245.9 236.2 L246.6 235.9 L247.4 236.5 L248.1 237.3 L248.8 237.2 L249.5 236.2 L250.3 236 L251 237.4 L251.7 236.7 M251.7 300.7 L252.4 301.6 L253.1 301.4 L253.8 301.2 L254.5 300.8 L255.2 300.7 L255.9 300.2 L256.6 300.3 L257.3 300.2 L258 301.4 L258.7 300.5 L259.4 300.4 L260.1 300.2 L260.8 301.6 L261.5 301.7 L262.2 301.3 L262.9 300.6 L263.6 300.5 L264.3 300.6 L265 300.9 L265.7 300.4 L266.4 300.9 L267.1 300.6 L267.8 301.8 L268.5 301.8 M268.7 236.7 L269.4 236.1 L270.2 237.4 L270.9 236.3 L271.6 236.3 L272.3 235.7 L273.1 236.4 L273.8 236.6 L274.5 236.6 L275.2 236.1 L276 236.6 L276.7 235.7 L277.4 236.2 L278.1 235.9 L278.9 236.4 L279.6 235.8 L280.3 235.7 L281 236.3 L281.8 236.1 L282.5 236.8 L283.2 236.7 L283.9 237.1 L284.7 236.9 L285.4 237" fill="none" stroke="#E8440C" stroke-width="5.0" stroke-linejoin="round"/><path d="M284.1 333 L284.9 332.8 L285.6 333 L286.4 333.3 L287.2 333.4 L287.9 333.2 L288.7 333.2 L289.4 332.3 L290.2 332.4 L290.9 332.6 L291.7 333.4 L292.4 332.7 M292.6 201.2 L293.3 200.3 L294.1 200.4 L294.8 200.7 L295.5 201.4 L296.3 201.4 L297 201.4 L297.8 200.7 L298.5 201.1 L299.2 201 L300 201 L300.7 200.5 M300.7 333 L301.5 332.2 L302.2 332.2 L303 333 L303.7 332.9 L304.5 332.7 L305.2 332.4 L306 332.8 L306.7 332.7 L307.5 333.5 L308.2 332.2 L309 333.4 M309.2 201.6 L309.9 200.5 L310.6 201.8 L311.4 201.4 L312.1 201.7 L312.9 200.7 L313.6 200.9 L314.3 200.9 L315.1 201.9 L315.8 201.2 L316.6 200.9 L317.3 201 M317.3 332.7 L318 332.3 L318.8 333.7 L319.5 332.4 L320.3 333 L321.1 332.8 L321.8 332.7 L322.6 333.4 L323.3 333.8 L324.1 332.6 L324.8 333.3 L325.6 332.7 M325.7 201.2 L326.5 200.9 L327.2 200.5 L328 200.5 L328.7 200.6 L329.4 201.7 L330.2 201.1 L330.9 200.6 L331.6 201.7 L332.4 201.9 L333.1 201 L333.9 200.5 M333.9 332.8 L334.6 332.9 L335.4 333.7 L336.1 333.6 L336.9 333.6 L337.6 332.2 L338.4 332.3 L339.1 333.3 L339.9 333.6 L340.6 333 L341.4 333.1 L342.1 332.2 M342.3 200.9 L343 201.8 L343.8 201.6 L344.5 201.6 L345.2 201.8 L346 200.7 L346.7 200.5 L347.5 200.5 L348.2 201.1 L348.9 201.4 L349.7 201.8 L350.4 201.4 M350.4 333.7 L351.2 333.2 L351.9 333.6 L352.7 333 L353.4 332.6 L354.2 332.6 L354.9 333.7 L355.7 333.3 L356.4 332.7 L357.2 332.2 L357.9 333 L358.7 333.3 M358.9 200.9 L359.6 200.7 L360.3 201.3 L361.1 201.8 L361.8 200.6 L362.5 200.3 L363.3 200.8 L364 200.9 L364.8 201.4 L365.5 200.6 L366.2 201.6 L367 201.5" fill="none" stroke="#E8440C" stroke-width="4.2" stroke-linejoin="round"/><path d="M367 363.1 L367.8 363.1 L368.6 362.9 L369.4 363.2 L370.2 363.2 L370.9 362.3 L371.7 362.1 L372.5 363.2 M372.7 172.2 L373.5 171.2 L374.2 172.1 L375 171.7 L375.8 171.7 L376.6 171.6 L377.3 171.4 L378.1 171.2 M378.1 363.1 L378.9 361.9 L379.7 362.4 L380.5 363 L381.3 362.9 L382.1 361.9 L382.9 361.9 L383.7 361.9 M383.8 172.5 L384.6 171.5 L385.4 172.2 L386.1 172.4 L386.9 171.7 L387.7 171.6 L388.4 172.5 L389.2 172 M389.2 362.5 L390 362.5 L390.8 363.2 L391.6 362.1 L392.4 363 L393.2 362.9 L394 363 L394.8 362.9 M394.9 172 L395.7 171.6 L396.5 171.6 L397.3 171.7 L398 172.3 L398.8 171.3 L399.6 171.5 L400.3 172.2 M400.3 362.7 L401.1 362.8 L401.9 362.9 L402.7 363 L403.5 362.8 L404.3 362 L405.1 363 L405.9 362.3 M406.1 172 L406.8 171.7 L407.6 172.2 L408.4 171.5 L409.1 171.5 L409.9 171.5 L410.7 171.4 L411.5 172.4 M411.5 362 L412.3 362.1 L413.1 363.2 L413.8 362.7 L414.6 363.2 L415.4 362.4 L416.2 363.1 L417 362.5 M417.2 171.5 L418 172.3 L418.7 172.5 L419.5 171.3 L420.3 172 L421 172 L421.8 171.5 L422.6 171.7" fill="none" stroke="#E8440C" stroke-width="3.8" stroke-linejoin="round"/><path d="M422.6 394.8 L423.4 395 L424.3 395.1 L425.1 394.4 L425.9 394.5 L426.8 395.2 M426.9 143.3 L427.7 143.1 L428.6 143.1 L429.4 143.9 L430.2 143.2 L431 143.5 M431 394.8 L431.8 395.4 L432.6 394.9 L433.5 394.5 L434.3 394.3 L435.2 395 M435.3 143.5 L436.1 143.9 L436.9 142.9 L437.7 143.5 L438.6 143.2 L439.4 143.4 M439.4 394.9 L440.2 394.4 L441 395.4 L441.9 394.8 L442.7 395.4 L443.6 395.1 M443.7 143.8 L444.5 143 L445.3 143.7 L446.1 143 L446.9 143.3 L447.7 143.8 M447.7 395.2 L448.6 394.4 L449.4 395.3 L450.3 394.5 L451.1 395 L451.9 395 M452.1 143.5 L452.9 143.1 L453.7 143.3 L454.5 143.5 L455.3 143.3 L456.1 143.6 M456.1 394.5 L457 394.8 L457.8 394.4 L458.7 394.8 L459.5 394.9 L460.3 394.4 M460.5 143.5 L461.3 142.9 L462.1 143.7 L462.9 143.7 L463.7 143.4 L464.5 142.8" fill="none" stroke="#E8440C" stroke-width="3.6" stroke-linejoin="round"/><path d="M464.5 425.6 L465.3 424.8 L466.2 425.5 L467 425.6 L467.8 424.7 M468 110.2 L468.8 110.9 L469.6 110.7 L470.4 111.8 L471.1 111.5 M471.1 425.4 L472 424.7 L472.8 425.3 L473.6 424.6 L474.5 425.1 M474.6 110.6 L475.4 110.7 L476.2 111.6 L477 111.6 L477.8 112 M477.8 425.1 L478.6 424.4 L479.4 425.2 L480.2 424.6 L481.1 425 M481.2 111.1 L482 111.1 L482.8 111.5 L483.6 111.5 L484.4 111.6 M484.4 424.8 L485.2 424.8 L486 424.4 L486.9 424.9 L487.7 424.7 M487.9 110.5 L488.6 111.6 L489.4 111.3 L490.2 111.5 L491 111.8 M491 425 L491.8 424.1 L492.7 424.6 L493.5 424.5 L494.3 424.3 M494.5 110.6 L495.3 111.6 L496.1 111.2 L496.8 112.1 L497.6 112.9 M497.6 424.8 L498.5 424.7 L499.3 424.4 L500.1 424.7 L500.9 424.4 M501.1 110.9 L501.9 111.1 L502.7 111.6 L503.5 111.8 L504.2 112.4 M504.2 424.7 L505.1 423.8 L505.9 424.1 L506.7 424.1 L507.6 424.6 M507.7 111.8 L508.5 111.9 L509.3 111.9 L510.1 112.8 L510.9 112.6 M510.9 423.9 L511.7 424.3 L512.5 423.8 L513.3 424.6 L514.2 423.8 M514.3 111 L515.1 111.5 L515.9 112.6 L516.7 112.4 L517.5 112.6 M517.5 424.5 L518.3 424.5 L519.1 423.7 L520 423.8 L520.8 423.7 M521 111.2 L521.7 112.4 L522.5 112.7 L523.3 112.9 L524.1 113.4 M524.1 424.1 L524.9 423.8 L525.8 423.7 L526.6 424.4 L527.4 423.9 M527.6 112.2 L528.4 112.3 L529.2 112.1 L529.9 112.8 L530.7 113.2 M530.7 423.3 L531.6 423.8 L532.4 423.8 L533.2 424.1 L534 423.5 M534.2 112 L535 112.2 L535.8 113 L536.6 112.8 L537.4 113.8 M537.4 424.1 L538.2 423.3 L539 424.1 L539.9 423.2 L540.7 423.4 M540.9 111.9 L541.6 112.9 L542.4 112.8 L543.2 113.1 L544 113.9 M544 423.8 L544.8 423.6 L545.7 423.2 L546.5 423.5 L547.3 423.9 M547.5 112 L548.3 112.3 L549.1 112.8 L549.9 113.5 L550.6 114 M550.6 423.3 L551.5 423.9 L552.3 423.7 L553.1 423.7 L554 423.4 M554.1 112.1 L554.9 112.9 L555.7 112.7 L556.5 113.2 L557.3 113.7 M557.3 423.2 L558.1 423 L558.9 423.5 L559.8 423.7 L560.6 423.6 M560.8 112.8 L561.5 113.3 L562.3 113.5 L563.1 113.8 L563.9 113.9 M563.9 423.6 L564.7 422.9 L565.6 423.3 L566.4 423.5 L567.2 423.1 M567.4 112.7 L568.2 113.5 L569 113 L569.8 113.8 L570.6 113.8 M570.6 422.8 L571.4 423.2 L572.2 422.9 L573 423.3 L573.9 422.7 M574 113.3 L574.8 113.1 L575.6 113.1 L576.4 113.7 L577.2 114.2 M577.2 422.6 L578 423.2 L578.8 423.3 L579.7 423.1 L580.5 422.9 M580.7 113.1 L581.5 113.1 L582.2 114.2 L583 113.9 L583.8 114.6 M583.8 422.8 L584.7 422.5 L585.5 422.3 L586.3 423 L587.1 422.6 M587.3 112.9 L588.1 113.3 L588.9 113.8 L589.7 114.1 L590.5 114.7 M590.5 422.9 L591.3 422.5 L592.1 422.3 L592.9 422.4 L593.8 422.4 M593.9 113.6 L594.7 113.5 L595.5 113.6 L596.3 114.7 L597.1 115 M597.1 422.7 L597.9 422.4 L598.8 422.3 L599.6 422.2 L600.4 422.6 M600.6 113 L601.4 113.7 L602.2 113.8 L602.9 114.5 L603.7 114.8 M603.7 422.6 L604.6 422.6 L605.4 422 L606.2 422.6 L607.1 422.7 M607.2 114 L608 113.7 L608.8 114.7 L609.6 114.6 L610.4 114.9 M610.4 422.4 L611.2 422.7 L612 422.2 L612.9 422.7 L613.7 422.3 M613.9 113.7 L614.6 113.8 L615.4 114.4 L616.2 115.2 L617 115.2 M617 422.1 L617.8 421.8 L618.7 422 L619.5 422.7 L620.3 422.4 M620.5 114 L621.3 114.4 L622.1 114.9 L622.9 115 L623.6 115.3 M623.6 422.3 L624.5 422 L625.3 422.5 L626.1 422.5 L627 422.2 M627.1 113.7 L627.9 114.1 L628.7 114.6 L629.5 114.8 L630.3 115.3 M630.3 422.2 L631.1 422.5 L631.9 422.5 L632.8 422 L633.6 422 M633.8 113.7 L634.6 114.6 L635.3 114.5 L636.1 114.8 L636.9 115 M636.9 422.2 L637.7 422.3 L638.6 422.2 L639.4 421.5 L640.2 422.1 M640.4 114.4 L641.2 114.5 L642 115.3 L642.8 115 L643.6 116.1 M643.6 421.7 L644.4 421.9 L645.2 421.8 L646 422 L646.9 421.5 M647 114.6 L647.8 114.5 L648.6 115.2 L649.4 115.5 L650.2 115.6 M650.2 421.9 L651 421.6 L651.8 421.7 L652.7 422.2 L653.5 421.6 M653.7 114.6 L654.5 114.9 L655.2 115.5 L656 115.8 L656.8 115.6 M656.8 421.9 L657.7 422.1 L658.5 421.5 L659.3 421.3 L660.1 421.7 M660.3 114.8 L661.1 114.6 L661.9 115.5 L662.7 116 L663.5 115.7 M663.5 421.6 L664.3 422 L665.1 422 L666 421.6 L666.8 421.5 M666.9 114.7 L667.7 114.7 L668.5 115.1 L669.3 115.4 L670.1 116.3 M670.1 421.3 L670.9 421.5 L671.8 421 L672.6 421 L673.4 422 M673.6 115.1 L674.4 115.1 L675.2 115.5 L675.9 115.6 L676.7 116.5 M676.7 421.3 L677.6 421.8 L678.4 421.8 L679.2 420.9 L680.1 421.5 M680.2 114.8 L681 114.9 L681.8 116.1 L682.6 115.7 L683.4 116.4 M683.4 421.7 L684.2 421.6 L685 420.8 L685.9 421.6 L686.7 421.5 M686.9 115.1 L687.6 115.8 L688.4 115.3 L689.2 115.7 L690 116.7 M690 420.8 L690.8 421.4 L691.7 420.7 L692.5 421.4 L693.3 420.9 M693.5 114.6 L694.3 115.9 L695.1 115.5 L695.9 116.6 L696.6 116.9 M696.6 420.7 L697.5 420.8 L698.3 420.7 L699.1 421.3 L700 421.2 M700.1 114.9 L700.9 115.9 L701.7 115.7 L702.5 116.2 L703.3 116.3 M703.3 420.8 L704.1 420.8 L704.9 420.7 L705.8 420.9 L706.6 421.5 M706.8 115.8 L707.6 116.1 L708.3 115.6 L709.1 116.2 L709.9 117.1 M709.9 420.6 L710.7 421 L711.6 420.6 L712.4 420.6 L713.2 421.2 M713.4 115.6 L714.2 115.5 L715 115.7 L715.8 116.1 L716.6 116.9 M716.6 421.2 L717.4 420.7 L718.2 421.2 L719 421.2 L719.9 420.8 M720 115 L720.8 116.3 L721.6 116.2 L722.4 117 L723.2 116.7 M723.2 420.6 L724 421 L724.9 420.6 L725.7 421 L726.5 420.3 M726.7 116 L727.5 116.4 L728.3 116.3 L729 116.7 L729.8 117.1 M729.8 420.8 L730.7 420.7 L731.5 420.9 L732.3 420.3 L733.1 421 M733.3 116 L734.1 115.6 L734.9 116.1 L735.7 116.8 L736.5 117.1 M736.5 420.9 L737.3 420.6 L738.1 420.5 L738.9 421 L739.8 420.9 M739.9 115.7 L740.7 115.9 L741.5 116.4 L742.3 116.8 L743.1 117.7 M743.1 420.1 L743.9 420.4 L744.7 420.5 L745.6 420 L746.4 420.2 M746.6 116.4 L747.3 116.6 L748.1 117.1 L748.9 117.1 L749.7 117.7 M749.7 420.5 L750.5 420.4 L751.3 420.9 L752.2 420.2 L753 420.2 M753.2 116.2 L754 116 L754.7 116.8 L755.5 117.5 L756.3 117.5 M756.3 420.4 L757.1 420.5 L758 420.1 L758.8 420.6 L759.6 420.3 M759.8 116.2 L760.6 116.6 L761.4 116.8 L762.1 117 L762.9 117.3 M762.9 419.9 L763.7 419.8 L764.6 420.6 L765.4 420.2 L766.2 419.8 M766.4 116.1 L767.2 116.5 L768 117.2 L768.8 116.9 L769.5 117.4 M769.5 420.4 L770.4 420.5 L771.2 420.2 L772 420.5 L772.8 420.4 M773 116.7 L773.8 116.3 L774.6 117.4 L775.4 116.9 L776.2 118 M776.2 420.2 L777 420 L777.8 419.9 L778.6 420.4 L779.5 420.5 M779.6 116.4 L780.4 116.7 L781.2 116.8 L782 117.3 L782.8 117.5 M782.8 419.6 L783.6 420.1 L784.4 420 L785.2 420.5 L786.1 420.3 M786.2 116.5 L787 117.3 L787.8 117.2 L788.6 117.6 L789.4 118.1 M789.4 420.4 L790.2 420 L791 419.9 L791.9 420.1 L792.7 420.5 M792.9 116.4 L793.6 117 L794.4 117.6 L795.2 117.3 L796 117.8 M796 419.9 L796.8 419.9 L797.6 419.6 L798.5 419.6 L799.3 420 M799.5 116.8 L800.3 116.9 L801 117.9 L801.8 117.9 L802.6 117.6 M802.6 420 L803.4 419.9 L804.3 420.3 L805.1 419.9 L805.9 419.7 M806.1 116.4 L806.9 116.8 L807.7 117.7 L808.4 117.4 L809.2 117.8 M809.2 419.8 L810 419.6 L810.9 419.7 L811.7 419.7 L812.5 419.3 M812.7 117.2 L813.5 117.3 L814.3 118 L815.1 117.8 L815.8 118.4 M815.8 419.4 L816.7 419.5 L817.5 420.1 L818.3 419.7 L819.1 420 M819.3 116.7 L820.1 116.9 L820.9 117.5 L821.7 117.7 L822.5 118.8 M822.5 419.4 L823.3 419.2 L824.1 419.8 L824.9 419.5 L825.8 419.3 M825.9 117.2 L826.7 116.9 L827.5 117.5 L828.3 118.4 L829.1 118 M829.1 419.8 L829.9 419.3 L830.7 420 L831.5 419.6 L832.4 419.4 M832.5 116.8 L833.3 117.5 L834.1 117.5 L834.9 118.5 L835.7 118.1 M835.7 419.3 L836.5 419.7 L837.3 419.1 L838.2 419.6 L839 419.4 M839.2 117.2 L839.9 117.3 L840.7 117.4 L841.5 118 L842.3 118.3 M842.3 419.3 L843.1 419.6 L843.9 419.6 L844.8 419.2 L845.6 419.8 M845.8 117.1 L846.6 117.7 L847.3 117.6 L848.1 117.9 L848.9 119.1 M848.9 419 L849.7 419.7 L850.6 419.4 L851.4 419.6 L852.2 419.1 M852.4 117.3 L853.2 117.9 L854 117.9 L854.7 117.9 L855.5 119.1 M855.5 419.6 L856.3 418.9 L857.2 419.5 L858 419.2 L858.8 419.5 M859 117.7 L859.8 117.5 L860.6 117.7 L861.4 118.9 L862.1 118.7 M862.1 418.8 L863 419.4 L863.8 419.5 L864.6 419 L865.4 419.3 M865.6 117.9 L866.4 118 L867.2 118.2 L868 118.3 L868.8 118.4 M868.8 419 L869.6 419 L870.4 419.6 L871.2 418.8 L872.1 419.2 M872.2 117.4 L873 118.2 L873.8 118.3 L874.6 118.9 L875.4 118.6 M875.4 419.1 L876.2 418.7 L877 418.9 L877.8 419.1 L878.7 419 M878.8 117.3 L879.6 117.5 L880.4 117.8 L881.2 119.2 L882 119.3 M882 418.8 L882.8 418.8 L883.6 418.7 L884.5 418.6 L885.3 419.3 M885.5 118 L886.2 117.8 L887 118.1 L887.8 118.9 L888.6 119.4 M888.6 419.3 L889.4 418.7 L890.2 418.5 L891.1 419.1 L891.9 419.1 M892.1 118.1 L892.9 118.3 L893.6 118.9 L894.4 119.3 L895.2 119.2 M895.2 418.6 L896 419.2 L896.9 418.4 L897.7 419.3 L898.5 419.3 M898.7 118.1 L899.5 118.1 L900.3 118.3 L901 119.1 L901.8 119.3 M901.8 418.7 L902.6 418.8 L903.5 419.4 L904.3 419.3 L905.1 419.2 M905.3 118.4 L906.1 118.7 L906.9 118.7 L907.6 119.3 L908.4 118.9 M908.4 419 L909.3 418.8 L910.1 418.4 L910.9 419 L911.7 418.7 M911.9 118.1 L912.7 118.2 L913.5 118.7 L914.3 119.1 L915 119.3 M915 418.8 L915.9 418.9 L916.7 418.4 L917.5 418.7 L918.4 418.3 M918.5 118 L919.3 118.8 L920.1 118.8 L920.9 119.3 L921.7 119.7 M921.7 418.6 L922.5 418.2 L923.3 418.8 L924.1 418.4 L925 418.5 M925.1 118.3 L925.9 118.4 L926.7 119.2 L927.5 119.3 L928.3 119.9 M928.3 418.2 L929.1 418.8 L929.9 418.3 L930.8 418.7 L931.6 419 M931.8 117.8 L932.5 118.9 L933.3 119 L934.1 119 L934.9 119.3 M934.9 419 L935.7 418.6 L936.5 418.8 L937.4 418.9 L938.2 419.1 M938.4 117.7 L939.2 118.4 L939.9 118.6 L940.7 119.3 L941.5 120 M941.5 418.7 L942.3 418.1 L943.2 418.4 L944 418.3 L944.8 418.9 M945 118.4 L945.8 118.2 L946.6 118.7 L947.4 119.2 L948.2 119.7 M948.2 418.3 L949.1 418.5 L949.9 418.3 L950.8 418.6 L951.6 418.5 M951.8 118.8 L952.6 119.2 L953.4 118.6 L954.2 119.5 L955 120 M955 418.5 L955.8 418.6 L956.7 418.3 L957.5 418.5 L958.4 418.4 M958.6 118 L959.4 118.6 L960.2 118.9 L961 120 L961.8 119.8 M961.8 418.2 L962.6 418.2 L963.5 418.6 L964.3 418.5 L965.2 418.8 M965.3 118.3 L966.1 119.3 L966.9 119.3 L967.8 119.1 L968.6 119.6 M968.6 418 L969.4 418.1 L970.3 418.6 L971.1 418.1 L972 418.3 M972.1 118.2 L972.9 119 L973.7 119.6 L974.5 119.7 L975.3 119.6 M975.3 418 L976.2 418.1 L977 418.6 L977.9 418.5 L978.7 418.2 M978.9 118.8 L979.7 118.8 L980.5 118.9 L981.3 119.6 L982.1 119.6 M982.1 418.1 L983 417.9 L983.8 417.9 L984.7 417.9 L985.5 418.5 M985.7 118.2 L986.5 119.3 L987.3 119.3 L988.1 119.8 L988.9 120.2 M988.9 418.2 L989.7 418.7 L990.6 417.8 L991.4 417.7 L992.3 418.2 M992.5 118.9 L993.3 119.3 L994.1 119.3 L994.9 120.3 L995.7 119.9 M995.7 418.4 L996.5 418.6 L997.4 417.8 L998.2 417.7 L999.1 418.4 M999.2 118.5 L1000 119.6 L1000.9 119.5 L1001.7 120 L1002.5 120 M1002.5 418.5 L1003.3 418.6 L1004.2 418.2 L1005 417.8 L1005.9 417.9 M1006 118.6 L1006.8 119.1 L1007.6 119.3 L1008.4 119.6 L1009.2 120.5 M1009.2 417.7 L1010.1 418.3 L1010.9 418.2 L1011.8 418 L1012.6 418.2 M1012.8 119.3 L1013.6 118.9 L1014.4 120 L1015.2 119.8 L1016 120.6 M1016 418.2 L1016.9 417.6 L1017.7 417.9 L1018.6 418.4 L1019.4 418.2 M1019.6 119.3 L1020.4 119.8 L1021.2 119.2 L1022 119.7 L1022.8 120.6 M1022.8 417.9 L1023.7 417.7 L1024.5 418.2 L1025.3 417.6 L1026.2 418.2 M1026.4 119 L1027.2 119 L1028 119.5 L1028.8 120 L1029.6 120.8 M1029.6 418.1 L1030.4 418.1 L1031.3 418 L1032.1 418 L1033 418.1 M1033.1 119.5 L1033.9 119.8 L1034.8 120 L1035.6 120 L1036.4 120.3 M1036.4 417.6 L1037.2 417.5 L1038.1 418.2 L1038.9 418.2 L1039.8 418.3 M1039.9 118.6 L1040.7 119.6 L1041.5 119.6 L1042.3 120.3 L1043.1 120.5 M1043.1 417.7 L1044 417.9 L1044.8 418 L1045.7 418 L1046.5 417.7 M1046.7 119.3 L1047.5 119.5 L1048.3 119.6 L1049.1 120.3 L1049.9 120.3 M1049.9 417.5 L1050.8 418.1 L1051.6 417.8 L1052.5 418 L1053.3 418.1 M1053.5 119.6 L1054.3 119.9 L1055.1 119.4 L1055.9 120.1 L1056.7 120.9 M1056.7 418 L1057.6 417.7 L1058.4 417.7 L1059.2 418.1 L1060.1 418 M1060.3 118.9 L1061.1 119.8 L1061.9 119.8 L1062.7 120.3 L1063.5 120.4 M1063.5 417.3 L1064.3 417.9 L1065.2 418.1 L1066 417.4 L1066.9 417.7 M1067 119.6 L1067.8 119.8 L1068.7 119.9 L1069.5 119.9 L1070.3 120.6 M1070.3 417.6 L1071.1 417.9 L1072 417.5 L1072.8 417.3 L1073.7 417.9 M1073.8 119.2 L1074.6 119.7 L1075.4 120 L1076.2 120.8 L1077 121 M1077 417.2 L1077.9 417.8 L1078.7 417.7 L1079.6 417.9 L1080.4 417.9 M1080.6 119 L1081.4 119.5 L1082.2 119.7 L1083 120.8 L1083.8 120.4 M1083.8 417.4 L1084.7 417.6 L1085.5 417.1 L1086.4 418.1 L1087.2 417.4 M1087.4 119.2 L1088.2 119.6 L1089 119.9 L1089.8 120.8 L1090.6 120.9 M1090.6 417.5 L1091.5 417.6 L1092.3 417.7 L1093.1 417.4 L1094 417.9 M1094.2 119.2 L1095 120.3 L1095.8 120.2 L1096.6 120.1 L1097.4 120.7 M1097.4 417.9 L1098.2 417.1 L1099.1 417.5 L1099.9 417.7 L1100.8 417.1 M1100.9 119.9 L1101.8 119.4 L1102.6 120.3 L1103.4 120.3 L1104.2 121.4 M1104.2 417.8 L1105 418 L1105.9 417.4 L1106.7 417.7 L1107.6 417.3 M1107.7 120 L1108.5 120.1 L1109.3 119.9 L1110.1 120.2 L1110.9 121.2 M1110.9 417.4 L1111.8 417 L1112.6 417.3 L1113.5 417.6 L1114.3 417.2 M1114.5 119.7 L1115.3 119.6 L1116.1 120.3 L1116.9 120.9 L1117.7 121 M1117.7 417.4 L1118.6 417.8 L1119.4 417.5 L1120.3 417.5 L1121.1 417 M1121.3 119.3 L1122.1 119.8 L1122.9 120.8 L1123.7 121.1 L1124.5 120.8 M1124.5 417.1 L1125.4 417.7 L1126.2 417.2 L1127.1 417 L1127.9 417.5 M1128.1 119.3 L1128.9 120.1 L1129.7 120.7 L1130.5 120.9 L1131.3 121.1 M1131.3 417.7 L1132.1 417.3 L1133 417 L1133.8 417 L1134.7 417.7 M1134.8 119.4 L1135.7 120.1 L1136.5 120.5 L1137.3 120.4 L1138.1 121.1 M1138.1 417.3 L1138.9 417.6 L1139.8 417.4 L1140.6 417.5 L1141.5 417.1 M1141.6 120 L1142.4 119.8 L1143.2 120.3 L1144 120.4 L1144.8 121.1 M1144.8 417.4 L1145.7 417.5 L1146.5 417.6 L1147.4 417.1 L1148.2 417.6 M1148.4 119.8 L1149.2 120.6 L1150 120 L1150.8 121.3 L1151.6 121.1 M1151.6 417.5 L1152.5 417.2 L1153.3 417.3 L1154.2 417.5 L1155 417.7 M1155.2 120.1 L1156 120.4 L1156.8 120.3 L1157.6 121 L1158.4 121.6 M1158.4 417.5 L1159.3 417.3 L1160.2 417.2 L1161 417.5 L1161.9 417.5 M1162.1 120.3 L1162.9 120.1 L1163.7 121.1 L1164.5 121 L1165.3 121.8 M1165.3 417.4 L1166.2 417.6 L1167.1 417.5 L1167.9 417.1 L1168.8 416.8 M1169 120.1 L1169.8 120.6 L1170.6 120.5 L1171.4 121.1 L1172.2 121.7 M1172.2 417.5 L1173.1 417.3 L1174 417 L1174.8 416.7 L1175.7 416.9 M1175.9 120.2 L1176.7 120.3 L1177.5 120.8 L1178.3 121.3 L1179.1 121 M1179.1 417.1 L1180 417.6 L1180.9 416.8 L1181.7 417.5 L1182.6 416.8 M1182.7 120 L1183.6 119.9 L1184.4 120.4 L1185.2 121.5 L1186 121.4 M1186 417.2 L1186.9 417 L1187.7 417.6 L1188.6 417 L1189.5 417.3 M1189.6 120.2 L1190.5 120.3 L1191.3 120.8 L1192.1 121.3 L1192.9 121.9 M1192.9 417.5 L1193.8 417.5 L1194.6 416.7 L1195.5 417.2 L1196.4 417.1 M1196.5 119.6 L1197.4 120.3 L1198.2 121 L1199 121.3 L1199.8 121.3 M1199.8 416.7 L1200.7 417.1 L1201.5 417.4 L1202.4 417.3 L1203.3 416.9 M1203.4 119.8 L1204.3 120.5 L1205.1 121.2 L1205.9 120.9 L1206.7 121.8 M1206.7 416.6 L1207.6 416.8 L1208.4 416.9 L1209.3 416.9 L1210.2 417.5 M1210.3 119.9 L1211.2 120.2 L1212 121.3 L1212.8 121.2 L1213.6 121.9 M1213.6 416.8 L1214.5 417.1 L1215.3 416.7 L1216.2 417.2 L1217.1 416.5 M1217.2 120.5 L1218 120.6 L1218.9 120.8 L1219.7 121.7 L1220.5 121.4 M1220.5 416.8 L1221.4 417.4 L1222.2 417.2 L1223.1 416.8 L1223.9 416.8 M1224.1 120.5 L1224.9 120.4 L1225.8 120.6 L1226.6 121.7 L1227.4 121.7 M1227.4 417.2 L1228.3 417.3 L1229.1 416.6 L1230 417.1 L1230.8 417.2 M1231 120.3 L1231.8 121 L1232.7 121.4 L1233.5 121.6 L1234.3 122 M1234.3 416.6 L1235.2 416.5 L1236 417.1 L1236.9 417.4 L1237.7 417.2 M1237.9 120.2 L1238.7 120.9 L1239.6 120.6 L1240.4 121.7 L1241.2 121.5 M1241.2 416.7 L1242 416.9 L1242.9 416.6 L1243.8 417.2 L1244.6 416.6 M1244.8 120.7 L1245.6 121 L1246.4 121.1 L1247.3 120.9 L1248.1 122 M1248.1 416.7 L1248.9 417.3 L1249.8 416.4 L1250.7 416.8 L1251.5 416.5 M1251.7 120.3 L1252.5 120.9 L1253.3 121.3 L1254.2 121.4 L1255 121.6 M1255 417.1 L1255.8 417.3 L1256.7 417.2 L1257.6 417 L1258.4 417 M1258.6 120 L1259.4 120.5 L1260.2 120.6 L1261.1 121.8 L1261.9 122 M1261.9 416.4 L1262.7 416.4 L1263.6 416.4 L1264.5 417.1 L1265.3 416.8 M1265.5 120.9 L1266.3 121.2 L1267.1 121.4 L1268 121.5 L1268.8 122.2 M1268.8 417.1 L1269.6 417.1 L1270.5 416.4 L1271.4 416.3 L1272.2 416.5 M1272.4 120.6 L1273.2 120.7 L1274 120.7 L1274.8 121.9 L1275.7 122.2 M1275.7 416.3 L1276.5 416.8 L1277.4 416.4 L1278.3 416.4 L1279.1 416.7 M1279.3 120.6 L1280.1 121 L1280.9 121.4 L1281.7 121.5 L1282.6 121.5 M1282.6 416.3 L1283.4 416.4 L1284.3 417.2 L1285.1 416.4 L1286 416.6 M1286.2 120.8 L1287 121.2 L1287.8 121.4 L1288.6 121.8 L1289.5 121.5 M1289.5 416.3 L1290.3 417.2 L1291.2 416.9 L1292 416.4 L1292.9 417 M1293.1 120.2 L1293.9 120.9 L1294.7 120.9 L1295.5 121.9 L1296.4 122.4 M1296.4 416.6 L1297.2 416.2 L1298.1 416.9 L1298.9 416.2 L1299.8 417 M1300 120.9 L1300.8 120.9 L1301.6 120.9 L1302.4 121.8 L1303.2 121.7 M1303.2 417.1 L1304.1 416.9 L1305 416.1 L1305.8 416.2 L1306.7 416.2 M1306.9 120.8 L1307.7 121.1 L1308.5 121.3 L1309.3 121.6 L1310.1 121.9 M1310.1 416.5 L1311 416.8 L1311.9 416.4 L1312.7 416.4 L1313.6 416.5 M1313.8 120.5 L1314.6 120.6 L1315.4 121.3 L1316.2 122.2 L1317 122.2 M1317 416.9 L1317.9 416.9 L1318.8 417 L1319.6 416.9 L1320.5 416.6 M1320.7 120.3 L1321.5 121.4 L1322.3 121.2 L1323.1 121.9 L1323.9 122 M1323.9 416.3 L1324.8 416.3 L1325.7 417 L1326.5 416.1 L1327.4 416.3 M1327.6 120.9 L1328.4 121.5 L1329.2 121.1 L1330 121.7 L1330.8 122.3 M1330.8 416.7 L1331.7 416.3 L1332.6 416.1 L1333.4 416.1 L1334.3 416.1 M1334.4 120.6 L1335.3 120.7 L1336.1 121.1 L1336.9 121.8 L1337.7 122.6 M1337.7 416.8 L1338.6 416 L1339.4 416.8 L1340.3 416.2 L1341.2 416.9 M1341.3 121.1 L1342.2 121.3 L1343 121.2 L1343.8 121.3 L1344.6 121.9 M1344.6 416.1 L1345.5 416 L1346.3 416.8 L1347.2 416.1 L1348.1 417 M1348.2 120.7 L1349.1 121.4 L1349.9 121.1 L1350.7 122.1 L1351.5 121.9 M1351.5 416.6 L1352.4 416.4 L1353.2 416.8 L1354.1 416 L1355 416.6 M1355.1 121.2 L1356 120.9 L1356.8 121 L1357.6 121.8 L1358.4 121.8 M1358.4 416.5 L1359.3 416 L1360.1 416.2 L1361 416.7 L1361.9 416.5 M1362 121.2 L1362.8 121.7 L1363.7 121.9 L1364.5 121.5 L1365.3 122.7 M1365.3 416.1 L1366.2 416.6 L1367 416.3 L1367.9 416 L1368.8 416.9 M1368.9 120.8 L1369.7 120.9 L1370.6 121.1 L1371.4 122.1 L1372.2 122.3" fill="none" stroke="#E8440C" stroke-width="3.0" stroke-linejoin="round"/>
<path d="M133.8 301 L134.3 236.6 M167.5 301 L168 236.6 M201.2 301 L201.7 236.6 M234.9 301 L235.4 236.6 M268.5 301 L269 236.6 M292.4 333 L292.9 201.1 M309 333 L309.5 201.1 M325.6 333 L326.1 201.1 M342.1 333 L342.6 201.1 M358.7 333 L359.2 201.1 M372.5 362.6 L373 171.9 M383.7 362.6 L384.2 171.9 M394.8 362.6 L395.3 171.9 M405.9 362.6 L406.4 171.9 M417 362.6 L417.5 171.9 M426.8 394.9 L427.3 143.4 M435.2 394.9 L435.7 143.4 M443.6 394.9 L444.1 143.4 M451.9 394.9 L452.4 143.4 M460.3 394.9 L460.8 143.4 M467.8 425.2 L468.3 110.3 M494.3 424.6 L494.8 111 M507.6 424.3 L508.1 111.3 M520.8 424.1 L521.3 111.7 M527.4 423.9 L527.9 111.8 M567.2 423.2 L567.7 112.7 M700 421.1 L700.5 115.2 M713.2 420.9 L713.7 115.4 M726.5 420.8 L727 115.6 M766.2 420.3 L766.7 116.2 M779.5 420.1 L780 116.4 M792.7 420 L793.2 116.6 M799.3 419.9 L799.8 116.7 M825.8 419.6 L826.3 117 M839 419.5 L839.5 117.2 M911.7 418.8 L912.2 118 M925 418.7 L925.5 118.1 M931.6 418.7 L932.1 118.2 M1005.9 418.1 L1006.4 118.8 M1053.3 417.8 L1053.8 119.2 M1060.1 417.8 L1060.6 119.2 M1080.4 417.7 L1080.9 119.4 M1127.9 417.4 L1128.4 119.7 M1168.8 417.2 L1169.3 119.9 M1203.3 417 L1203.8 120.1 M1306.7 416.6 L1307.2 120.6 M1334.3 416.5 L1334.8 120.7 M1341.2 416.5 L1341.7 120.8 M1361.9 416.4 L1362.4 120.8" fill="none" stroke="#E8440C" stroke-width="1.4" stroke-opacity="0.7"/><path d="M474.5 425 L475 110.5 M500.9 424.5 L501.4 111.2 M514.2 424.2 L514.7 111.5 M554 423.4 L554.5 112.4 M580.5 422.9 L581 113 M587.1 422.8 L587.6 113.1 M593.8 422.7 L594.3 113.3 M607.1 422.5 L607.6 113.5 M627 422.2 L627.5 113.9 M640.2 422 L640.7 114.2 M653.5 421.8 L654 114.4 M660.1 421.7 L660.6 114.5 M673.4 421.5 L673.9 114.8 M680.1 421.4 L680.6 114.9 M686.7 421.3 L687.2 115 M706.6 421 L707.1 115.3 M739.8 420.6 L740.3 115.8 M746.4 420.5 L746.9 115.9 M772.8 420.2 L773.3 116.3 M805.9 419.8 L806.4 116.8 M832.4 419.6 L832.9 117.1 M852.2 419.4 L852.7 117.3 M858.8 419.3 L859.3 117.4 M891.9 419 L892.4 117.8 M905.1 418.9 L905.6 117.9 M938.2 418.6 L938.7 118.2 M944.8 418.6 L945.3 118.3 M965.2 418.4 L965.7 118.5 M972 418.4 L972.5 118.5 M999.1 418.2 L999.6 118.8 M1012.6 418.1 L1013.1 118.9 M1094 417.6 L1094.5 119.5 M1100.8 417.5 L1101.3 119.5 M1107.6 417.5 L1108.1 119.6 M1114.3 417.5 L1114.8 119.6 M1148.2 417.3 L1148.7 119.8 M1175.7 417.2 L1176.2 120 M1223.9 416.9 L1224.4 120.2 M1230.8 416.9 L1231.3 120.3 M1244.6 416.9 L1245.1 120.3 M1251.5 416.8 L1252 120.4 M1272.2 416.8 L1272.7 120.5 M1286 416.7 L1286.5 120.5 M1313.6 416.6 L1314.1 120.6 M1320.5 416.6 L1321 120.7 M1327.4 416.6 L1327.9 120.7 M1348.1 416.5 L1348.6 120.8 M1355 416.5 L1355.5 120.8" fill="none" stroke="#E8440C" stroke-width="2.1" stroke-opacity="0.85"/><path d="M481.1 424.9 L481.6 110.7 M487.7 424.7 L488.2 110.8 M534 423.8 L534.5 112 M540.7 423.7 L541.2 112.1 M547.3 423.5 L547.8 112.3 M560.6 423.3 L561.1 112.6 M573.9 423.1 L574.4 112.9 M600.4 422.6 L600.9 113.4 M613.7 422.4 L614.2 113.7 M620.3 422.3 L620.8 113.8 M633.6 422.1 L634.1 114.1 M646.9 421.9 L647.4 114.3 M666.8 421.6 L667.3 114.7 M693.3 421.2 L693.8 115.1 M719.9 420.8 L720.4 115.5 M733.1 420.7 L733.6 115.7 M753 420.4 L753.5 116 M759.6 420.4 L760.1 116.1 M786.1 420.1 L786.6 116.5 M812.5 419.8 L813 116.8 M819.1 419.7 L819.6 116.9 M845.6 419.4 L846.1 117.2 M865.4 419.2 L865.9 117.5 M872.1 419.2 L872.6 117.5 M878.7 419.1 L879.2 117.6 M885.3 419.1 L885.8 117.7 M898.5 418.9 L899 117.8 M918.4 418.8 L918.9 118 M951.6 418.5 L952.1 118.4 M958.4 418.5 L958.9 118.4 M978.7 418.3 L979.2 118.6 M985.5 418.3 L986 118.7 M992.3 418.2 L992.8 118.7 M1019.4 418 L1019.9 118.9 M1026.2 418 L1026.7 119 M1033 417.9 L1033.5 119 M1039.8 417.9 L1040.3 119.1 M1046.5 417.9 L1047 119.1 M1066.9 417.7 L1067.4 119.3 M1073.7 417.7 L1074.2 119.3 M1087.2 417.6 L1087.7 119.4 M1121.1 417.4 L1121.6 119.7 M1134.7 417.4 L1135.2 119.7 M1141.5 417.3 L1142 119.8 M1155 417.3 L1155.5 119.9 M1161.9 417.2 L1162.4 119.9 M1182.6 417.1 L1183.1 120 M1189.5 417.1 L1190 120.1 M1196.4 417.1 L1196.9 120.1 M1210.2 417 L1210.7 120.2 M1217.1 417 L1217.6 120.2 M1237.7 416.9 L1238.2 120.3 M1258.4 416.8 L1258.9 120.4 M1265.3 416.8 L1265.8 120.4 M1279.1 416.7 L1279.6 120.5 M1292.9 416.7 L1293.4 120.6 M1299.8 416.7 L1300.3 120.6 M1368.8 416.4 L1369.3 120.9" fill="none" stroke="#E8440C" stroke-width="2.8" stroke-opacity="1.0"/>
<path d="M114.9 263.7 L115.9 283.7 L117 284.5 L117.7 285.7 L118.4 284.3 L119.1 284.9 L119.8 285.5 L120.5 284.6 L121.2 285.2 L121.9 284.6 L122.6 285.7 L123.3 285.9 L124 285.7 L124.7 286.2 L125.4 285.4 L126.1 286.1 L126.8 286 L127.5 286 L128.2 285.9 L128.9 286.6 L129.6 286.8 L130.3 286.2 L131 286.5 L131.7 285.6 L132.4 286.7 L133.1 286.7 L133.8 287.4 L134.1 254 L134.8 252.9 L135.5 252.9 L136.2 253.1 L136.9 251.8 L137.7 252.3 L138.4 251.6 L139.1 251.3 L139.8 250.9 L140.6 251.9 L141.3 250.6 L142 250.6 L142.7 250.6 L143.4 251.1 L144.2 249.6 L144.9 250 L145.6 249.9 L146.3 250.2 L147 249.9 L147.8 249.7 L148.5 248.5 L149.2 248.5 L149.9 248.2 L150.7 248.8 L150.7 284.2 L151.4 284.6 L152.1 284.6 L152.8 285.6 L153.5 284.5 L154.2 284.4 L154.9 286 L155.6 285.4 L156.3 284.8 L157 285.5 L157.7 284.8 L158.4 285.7 L159.1 286.5 L159.8 286.3 L160.5 286.1 L161.2 285.5 L161.9 285.8 L162.6 285.5 L163.3 286.6 L164 286.2 L164.7 286.7 L165.4 286.1 L166.1 286 L166.8 287 L167.5 287.3 L167.7 254.1 L168.5 253.8 L169.2 253.6 L169.9 253.2 L170.6 252.1 L171.4 252.4 L172.1 251.9 L172.8 251.1 L173.5 250.9 L174.2 251.1 L175 250.8 L175.7 251.3 L176.4 251.5 L177.1 250.4 L177.8 251 L178.6 250.8 L179.3 250.6 L180 249.4 L180.7 248.9 L181.5 248.7 L182.2 248.4 L182.9 248.2 L183.6 248.6 L184.3 248.9 L184.3 284.7 L185 285 L185.7 285.6 L186.4 284.9 L187.1 285.8 L187.8 285.2 L188.5 285.3 L189.2 285.4 L190 284.6 L190.7 285.4 L191.4 285 L192.1 284.8 L192.8 286.2 L193.5 285.2 L194.2 285.8 L194.9 286.3 L195.6 286.1 L196.3 285.8 L197 286.2 L197.7 286.3 L198.4 286.7 L199.1 285.7 L199.8 286.5 L200.5 286.1 L201.2 286.2 L201.4 253.9 L202.1 253.3 L202.9 253.1 L203.6 253.2 L204.3 253.2 L205 252.3 L205.8 252.3 L206.5 251.9 L207.2 251.7 L207.9 251.7 L208.6 251.1 L209.4 251 L210.1 250.7 L210.8 251.2 L211.5 250.6 L212.2 250.7 L213 250.5 L213.7 249.2 L214.4 249.5 L215.1 249.9 L215.9 249.5 L216.6 248.1 L217.3 247.8 L218 248.1 L218 285.1 L218.7 284.2 L219.4 284.2 L220.1 285.3 L220.8 285 L221.5 284.5 L222.2 286 L222.9 285.5 L223.6 285.9 L224.3 284.8 L225 286.1 L225.7 284.9 L226.4 286.3 L227.1 285.7 L227.8 285.6 L228.5 286 L229.2 286.7 L229.9 285.7 L230.6 285.5 L231.4 286.2 L232.1 285.8 L232.8 285.7 L233.5 285.9 L234.2 285.8 L234.9 286.1 L235.1 253.2 L235.8 252.9 L236.6 253.5 L237.3 252.5 L238 252.6 L238.7 251.8 L239.4 251.9 L240.2 251.1 L240.9 251.3 L241.6 250.6 L242.3 251.6 L243 251.1 L243.8 250.2 L244.5 250.5 L245.2 251 L245.9 249.4 L246.7 250.3 L247.4 249.5 L248.1 249.4 L248.8 249.7 L249.5 248.7 L250.3 248.7 L251 248.8 L251.7 249 L251.7 285.4 L252.4 284.7 L253.1 284.7 L253.8 285.8 L254.5 284.5 L255.2 285.5 L255.9 285.5 L256.6 284.6 L257.3 285.9 L258 286.1 L258.7 285.7 L259.4 286 L260.1 286.2 L260.8 285.2 L261.5 285.9 L262.2 285.9 L262.9 286.5 L263.6 286.5 L264.3 286.7 L265 286.3 L265.7 286.9 L266.4 286.6 L267.1 286.7 L267.8 286.1 L268.5 285.8 L268.8 252.9 L269.5 253 L270.2 252.4 L271 253.3 L271.7 252.7 L272.4 252.6 L273.1 252.3 L273.8 252.2 L274.6 251.6 L275.3 250.6 L276 251.7 L276.7 251.4 L277.4 250.7 L278.2 250.6 L278.9 250.5 L279.6 249.3 L280.3 250.2 L281.1 249.2 L281.8 248.7 L282.5 248.8 L283.2 249.3 L283.9 248.2 L284.7 248.8 L285.4 249 L284.1 298.4 L284.9 298.1 L285.6 299.9 L286.4 300.6 L287.2 299.9 L287.9 301.3 L288.7 302.5 L289.4 303.4 L290.2 303.4 L290.9 303.8 L291.7 304.4 L292.4 306.2 L292.7 235.8 L293.4 236.3 L294.1 235.5 L294.9 236 L295.6 236.5 L296.3 235.2 L297.1 236.1 L297.8 235.6 L298.5 236 L299.3 235.7 L300 234.9 L300.7 235.8 L300.7 297.5 L301.5 297.9 L302.2 298.7 L303 300.4 L303.7 300.3 L304.5 302 L305.2 301.7 L306 302.4 L306.7 303.5 L307.5 303.7 L308.2 304.7 L309 306.2 L309.3 236.8 L310 236.6 L310.7 236.3 L311.4 236.6 L312.2 236.5 L312.9 235.8 L313.6 236 L314.4 234.9 L315.1 235.8 L315.8 235.3 L316.6 235.7 L317.3 235.4 L317.3 297.4 L318 297.9 L318.8 299 L319.5 299.3 L320.3 300.3 L321.1 301 L321.8 302.1 L322.6 303.3 L323.3 303.8 L324.1 304 L324.8 304.7 L325.6 305.6 L325.8 236.1 L326.6 235.9 L327.3 235.4 L328 235.6 L328.7 236.5 L329.5 235.2 L330.2 235.7 L330.9 235.8 L331.7 236 L332.4 235 L333.1 235 L333.9 234.8 L333.9 298 L334.6 298.9 L335.4 299.2 L336.1 300 L336.9 300 L337.6 301.7 L338.4 301.7 L339.1 303.4 L339.9 303.7 L340.6 303.9 L341.4 304.3 L342.1 305.2 L342.4 236.5 L343.1 236.4 L343.8 235.5 L344.6 235.3 L345.3 235.9 L346 235.9 L346.8 235.5 L347.5 235.2 L348.2 235.6 L349 234.7 L349.7 235 L350.4 235.1 L350.4 297.8 L351.2 298.1 L351.9 299.9 L352.7 299.7 L353.4 301.1 L354.2 301 L354.9 301.6 L355.7 303.1 L356.4 303.2 L357.2 304.8 L357.9 304.9 L358.7 305.1 L358.9 235.9 L359.7 236 L360.4 236.3 L361.1 236.6 L361.9 235.4 L362.6 235.6 L363.3 235.3 L364.1 236.3 L364.8 235 L365.5 234.7 L366.2 234.7 L367 235 L367 315.8 L367.8 316 L368.6 317.1 L369.4 316.7 L370.2 318.5 L370.9 318.6 L371.7 320.1 L372.5 322.1 L372.8 225.1 L373.5 220.7 L374.3 217.4 L375.1 216 L375.8 214.8 L376.6 214.9 L377.3 213.7 L378.1 213.9 L378.1 315.8 L378.9 316.5 L379.7 316.3 L380.5 316.9 L381.3 317.3 L382.1 319.3 L382.9 320.8 L383.7 321.9 L383.9 225.2 L384.7 220.1 L385.4 217.6 L386.2 216 L386.9 215.5 L387.7 214.9 L388.5 214 L389.2 213.8 L389.2 315.8 L390 315.7 L390.8 316 L391.6 317.2 L392.4 317.7 L393.2 319.6 L394 320.7 L394.8 322.4 L395 224.4 L395.8 220.2 L396.5 217.4 L397.3 216.1 L398.1 215.2 L398.8 214.3 L399.6 213.8 L400.3 214 L400.3 316.2 L401.1 316 L401.9 316.4 L402.7 317.8 L403.5 318 L404.3 318.6 L405.1 320.6 L405.9 321.9 L406.1 225.3 L406.9 220.2 L407.7 217.9 L408.4 216.5 L409.2 215.4 L409.9 214.9 L410.7 213.5 L411.5 213.8 L411.5 315.7 L412.3 315.9 L413.1 316.3 L413.8 317.3 L414.6 318.1 L415.4 318.6 L416.2 319.6 L417 321.5 L417.3 224.9 L418 220.3 L418.8 217.7 L419.5 215.7 L420.3 215.3 L421.1 214.4 L421.8 213.6 L422.6 213.6 L422.6 332.8 L423.4 333.1 L424.3 334.2 L425.1 335.4 L425.9 336.2 L426.8 338 L427 208.4 L427.8 202.6 L428.6 199.3 L429.4 198.7 L430.2 197.6 L431 197.9 L431 332.6 L431.8 333 L432.6 333.9 L433.5 335.4 L434.3 336 L435.2 338.3 L435.4 208.4 L436.2 203.5 L437 199.5 L437.8 197.8 L438.6 198.1 L439.4 198.1 L439.4 333.4 L440.2 332.9 L441 333.5 L441.9 334.8 L442.7 336.4 L443.6 338.2 L443.8 207.7 L444.6 202.7 L445.4 200.1 L446.2 198.7 L447 197.1 L447.7 197.6 L447.7 332.9 L448.6 333.1 L449.4 333.3 L450.3 335 L451.1 336.4 L451.9 338 L452.2 208.4 L453 203.3 L453.8 199.8 L454.6 197.9 L455.3 197.6 L456.1 197.1 L456.1 333 L457 333.1 L457.8 334.3 L458.7 334.5 L459.5 336.8 L460.3 338.8 L460.6 208.4 L461.4 203.3 L462.2 199.5 L462.9 198.8 L463.7 197.6 L464.5 198.1 L465 342.9 L465.8 343.3 L466.5 346.7 L467.2 352.4 L467.5 199.9 L468.2 191.9 L469 187.3 L469.7 184.9 L470.4 184.7 L471.1 184.4 L471.8 342.6 L472.8 344.8 L473.8 352.6 L474 199.9 L474.8 193.8 L475.6 189 L476.3 186.1 L477.1 185.1 L477.8 184.3 L478.6 184 L477 342.3 L477.7 342.8 L478.4 344.3 L479.1 345.6 L479.8 348.4 L480.5 352.4 L480.7 199.7 L481.5 192 L482.3 187.6 L483 185 L483.8 184.3 L484.6 184 L484.6 342.2 L485.4 342.5 L486.1 343.5 L486.8 346 L487.6 348.7 L488.3 352 L488.6 200.3 L489.3 191 L490 186.7 L490.7 184.8 L491.5 184.1 L490.4 342.3 L491.3 343 L492.1 345 L493 347.5 L493.8 351.9 L494.1 200 L494.8 192.1 L495.6 188.2 L496.3 185.7 L497.1 184.7 L497.8 184 L498 342.4 L498.8 342.6 L499.6 344.7 L500.5 347.7 L501.3 352.3 L501.5 200.3 L502.3 190.9 L503.2 186.6 L504 185.1 L504.8 184.2 L503.8 342.3 L504.5 342.6 L505.3 343.7 L506 344.6 L506.8 346.8 L507.5 349.2 L508.2 352.3 L508.5 200.3 L509.3 189.4 L510.2 185.2 L511.1 184.3 L510.1 342.2 L510.9 342.9 L511.8 344.8 L512.6 347.2 L513.4 352 L513.7 200.3 L514.5 192.9 L515.3 188.3 L516.1 185.9 L517 184.3 L517.8 184.9 L517.7 341.7 L518.6 343.4 L519.5 346.2 L520.4 351.7 L520.7 200.4 L521.6 188.9 L522.5 185 L523.4 184.4 L524.6 342 L525.4 342.8 L526.3 346.7 L527.2 351.5 L527.4 200.8 L528.1 192.5 L528.9 187.6 L529.6 185.4 L530.3 185 L531.1 185.1 L530.4 341.9 L531.2 342.2 L532 344.5 L532.8 347.1 L533.6 352 L533.8 200.7 L534.6 193.1 L535.4 188.2 L536.1 185.6 L536.9 184.7 L537.7 184.6 L536.9 342.1 L537.7 342.5 L538.4 343.6 L539.1 345.3 L539.9 348 L540.6 351.4 L540.9 200.9 L541.7 191.6 L542.5 187 L543.3 184.7 L544.1 184.7 L543.4 341.7 L544.3 342.4 L545.1 344 L545.9 347.2 L546.8 351.4 L547 201.1 L547.8 191.7 L548.6 186.4 L549.4 185.5 L550.2 184.5 L549.9 341.9 L550.7 342.1 L551.4 343.4 L552.2 345.3 L553 347.7 L553.8 351.7 L554 200.6 L554.8 193.2 L555.5 188.7 L556.3 185.8 L557 185.1 L557.8 185.1 L557 341.6 L557.7 342.3 L558.5 343.5 L559.3 345.4 L560 347.8 L560.8 351.5 L561.1 200.7 L561.8 189.7 L562.5 185.4 L563.2 185.1 L564.4 341.3 L565.1 342.1 L565.8 343.3 L566.5 345.4 L567.2 348 L568 351.6 L568.2 201.1 L569 189.7 L569.8 185.5 L570.6 185.4 L569.7 341.8 L570.5 341.8 L571.3 342.9 L572.1 344.9 L572.9 348.1 L573.7 351.8 L574 200.9 L574.8 191.4 L575.5 187.3 L576.3 185.2 L577.1 184.8 L577.7 341.3 L578.5 342.2 L579.4 343.7 L580.2 347.4 L581 351.2 L581.3 201.2 L582.1 189.6 L582.9 185.6 L583.8 184.9 L584.1 341.8 L584.8 341.7 L585.5 344.2 L586.2 347.4 L586.9 351.6 L587.2 200.6 L588 193.5 L588.8 188.7 L589.6 185.7 L590.4 184.8 L591.2 185.5 L589.9 341.7 L590.7 341.8 L591.4 342.9 L592.2 344.1 L592.9 346.1 L593.7 348 L594.4 351.4 L594.7 201 L595.5 190.1 L596.4 185.7 L597.3 185.5 L597.2 341.7 L597.9 341.7 L598.7 343 L599.5 345 L600.2 348 L601 351.1 L601.3 201 L602.1 187.6 L602.9 184.8 L604.4 341.4 L605.3 343.6 L606.3 351.5 L606.5 201 L607.2 194.4 L607.9 190 L608.6 187.5 L609.3 185.6 L610 185.3 L610.7 185.2 L610.9 341.1 L611.7 342.4 L612.6 345.7 L613.4 351.3 L613.7 200.8 L614.4 192.2 L615.2 187.7 L615.9 185.6 L616.7 184.9 L617.2 341.3 L618.1 341.5 L618.9 343.8 L619.8 346.7 L620.7 351.3 L620.9 200.9 L621.6 191.8 L622.4 187 L623.1 185.9 L623.8 185.8 L623.9 341.2 L624.6 341.1 L625.4 342.4 L626.2 344.9 L626.9 347.5 L627.7 351.4 L627.9 201.2 L628.7 187 L629.5 185.3 L629.5 341.5 L630.2 341 L630.9 342.5 L631.7 343.2 L632.4 345 L633.2 348.1 L633.9 350.7 L634.2 201.5 L634.9 189.9 L635.6 185.7 L636.3 185.7 L637.3 341.1 L638 342.4 L638.7 345 L639.4 350.7 L639.7 201.6 L640.4 191.9 L641.2 187.8 L642 185.8 L642.7 185.1 L643.4 341.2 L644.2 341.4 L645 342.3 L645.8 344.1 L646.5 347.7 L647.3 351 L647.6 201.7 L648.4 192.1 L649.3 187.7 L650.1 186.3 L650.9 185.9 L649.4 341 L650.1 341.6 L650.9 342.8 L651.6 344 L652.4 347.5 L653.1 351 L653.4 201.8 L654.2 192.4 L655 187.4 L655.9 186.2 L656.7 185.9 L657 340.6 L657.9 341.2 L658.7 343.5 L659.6 346.6 L660.4 350.7 L660.7 201.2 L661.6 190.7 L662.5 186.5 L663.4 185.5 L663.2 340.8 L664 340.9 L664.7 341.9 L665.4 344.8 L666.2 347 L666.9 350.3 L667.1 201.7 L668.1 190.7 L669 186 L669.9 185.8 L670 341 L670.8 341.5 L671.6 342.1 L672.5 343.9 L673.3 346.8 L674.2 350.3 L674.4 201.3 L675.3 190.1 L676.3 186.4 L677.2 186.1 L677 340.6 L677.7 341 L678.5 341.9 L679.3 344.6 L680 347.4 L680.8 350.3 L681.1 201.3 L681.9 190.3 L682.8 186.3 L683.7 186.2 L684.1 340.7 L684.8 341.5 L685.5 342.7 L686.3 346 L687 350.2 L687.2 201.4 L688 190.6 L688.9 186.2 L689.7 185.7 L690.7 340.2 L691.7 343.4 L692.7 350.7 L693 201.9 L693.7 194 L694.4 189.2 L695.1 187.3 L695.8 186.1 L696.6 186.1 L696.3 340.2 L697 340.8 L697.7 341.4 L698.4 343.3 L699.1 344.5 L699.8 347.8 L700.5 349.9 L700.8 202.2 L701.5 190.9 L702.3 186.3 L703 186 L702.5 340.9 L703.3 340.3 L704 341.8 L704.8 342.8 L705.5 344.5 L706.2 346.8 L707 350.6 L707.2 201.9 L708 190.5 L708.8 186.6 L709.6 186.4 L709.9 340.5 L710.6 341.2 L711.4 343.1 L712.1 346 L712.9 350 L713.1 201.6 L713.8 193 L714.6 188 L715.3 186.6 L716.1 185.7 L716 340 L716.8 340.5 L717.5 341.5 L718.2 342.3 L719 344.7 L719.7 347.1 L720.4 350.2 L720.7 201.7 L721.4 191.1 L722.2 187 L723 186.5 L723.3 340 L724.1 341.1 L724.9 344.3 L725.7 349.9 L726 202.3 L726.7 195 L727.5 190.5 L728.3 188.4 L729.1 186.5 L729.8 185.9 L730.6 186.3 L729.5 339.9 L730.2 340.9 L731 343 L731.8 345.4 L732.5 350.1 L732.8 202.3 L733.5 194.1 L734.2 190 L734.9 187.7 L735.6 186.3 L736.3 186.2 L737 340.5 L737.8 340.4 L738.7 342.6 L739.6 346.1 L740.5 350.4 L740.7 201.9 L741.4 192.9 L742.2 188.4 L742.9 186.5 L743.6 186.4 L743.7 340.2 L744.5 340.5 L745.4 342.7 L746.2 345.4 L747 350 L747.3 202.6 L748.1 188.5 L748.9 186.2 L749.3 339.7 L750 340.1 L750.8 341.3 L751.5 343.4 L752.2 346.3 L752.9 349.7 L753.2 202 L754 192.7 L754.8 188.5 L755.6 187 L756.4 186.5 L755.8 340.1 L756.6 339.9 L757.4 341.4 L758.1 343.8 L758.9 346 L759.6 349.9 L759.9 202.3 L760.6 193 L761.3 188.9 L762 186.5 L762.7 186.7 L763.7 339.8 L764.4 340.4 L765.2 342.5 L765.9 345.6 L766.6 350.1 L766.9 202.7 L767.9 188.5 L769 186.7 L769.7 339.9 L770.5 340.4 L771.3 342.6 L772.1 345.7 L772.8 349.8 L773.1 202.3 L773.9 194.6 L774.6 190 L775.4 187.8 L776.2 186.5 L776.9 186.5 L776.3 340.2 L777.1 340.3 L777.9 342.6 L778.8 345.7 L779.6 350.1 L779.8 202.2 L780.6 191.3 L781.3 187.6 L782.1 186.2 L782.6 339.6 L783.4 340.8 L784.2 342.4 L785 345.3 L785.8 349.2 L786.1 202.4 L786.9 193.3 L787.8 188.7 L788.7 187 L789.5 187 L790.2 339.3 L790.9 340.7 L791.7 342.3 L792.5 345.5 L793.2 350 L793.5 202.9 L794.3 191.4 L795.2 187 L796 186.6 L795.8 339.8 L796.6 339.6 L797.4 341 L798.2 343.5 L799 346 L799.8 349.6 L800 202.4 L800.8 191.5 L801.5 187.4 L802.3 186.6 L802.1 339.7 L802.8 340.2 L803.6 340.8 L804.4 342.7 L805.2 346.1 L806 349.3 L806.2 202.9 L806.9 194.8 L807.6 190 L808.3 187.7 L809 186.6 L809.8 187.2 L808.8 339.8 L809.5 340 L810.3 342.3 L811 345.3 L811.8 349.2 L812 202.8 L812.8 196.5 L813.5 191.6 L814.3 189.3 L815 187.3 L815.8 186.9 L816.6 187.1 L815.5 339.5 L816.2 339.8 L817 341 L817.7 342.6 L818.5 345.4 L819.2 349.6 L819.5 202.6 L820.3 191.4 L821 187.3 L821.8 186.8 L822.4 339.1 L823.1 339.7 L823.9 341.2 L824.7 342.8 L825.5 346.1 L826.3 349 L826.6 203.2 L827.3 193.7 L828.1 188.7 L828.8 187.2 L829.6 186.7 L829.1 339.6 L829.9 339.9 L830.8 342 L831.6 344.9 L832.4 349 L832.7 202.8 L833.6 191.4 L834.4 187.4 L835.3 187.4 L835.1 339.2 L835.8 339.9 L836.5 340.6 L837.2 342.1 L837.9 344 L838.6 345.8 L839.3 348.9 L839.6 202.5 L840.4 192 L841.2 187.8 L841.9 187 L842.7 338.8 L843.5 339.5 L844.3 341.4 L845.1 344.6 L846 349 L846.2 202.6 L847.2 189 L848.1 187.3 L849.4 339.5 L850.2 340.4 L851 343.1 L851.9 348.8 L852.1 202.7 L853 192.2 L853.9 187.5 L854.8 187.6 L856.2 339.4 L857 339.8 L857.7 341.5 L858.4 344.3 L859.1 349.1 L859.4 203 L860.2 194 L861 189.6 L861.7 187.2 L862.5 187.5 L861.9 338.9 L862.7 339.3 L863.6 341.7 L864.4 344.8 L865.3 348.7 L865.5 202.9 L866.4 192 L867.4 187.9 L868.3 187.7 L869 339.2 L869.8 339.9 L870.6 341.1 L871.4 344.4 L872.2 348.7 L872.5 202.9 L873.2 193.7 L873.9 189.2 L874.6 187.3 L875.3 187.6 L874.7 339 L875.4 338.9 L876.1 340 L876.9 341.3 L877.6 343 L878.3 345.8 L879 348.4 L879.3 203.6 L880.2 194.2 L881 189.5 L881.9 188.1 L882.8 187.6 L882.7 339.2 L883.7 341.6 L884.7 348.6 L885 203 L885.8 195.9 L886.6 190.7 L887.4 188.4 L888.2 187.6 L889.1 187.4 L888.6 338.9 L889.5 339.5 L890.4 343.4 L891.3 348.4 L891.6 203.3 L892.4 194.6 L893.2 189.1 L894.1 187.4 L894.9 187.5 L895.1 338.9 L895.9 339.7 L896.7 341.6 L897.5 344 L898.2 348.4 L898.5 203.4 L899.3 194.3 L900.1 189.4 L900.9 187.6 L901.7 187.2 L902.1 338.8 L902.9 339.7 L903.7 341.2 L904.5 344.4 L905.3 348.4 L905.6 203.3 L906.4 192.7 L907.3 187.8 L908.1 187.3 L907.8 338.7 L908.7 338.9 L909.5 341.4 L910.4 344 L911.2 348.1 L911.5 203.5 L912.2 196.6 L912.9 192.4 L913.6 189.7 L914.3 188 L915 187.8 L915.7 187.3 L914.4 338.2 L915.2 339.2 L916 339.6 L916.8 340.8 L917.6 343.4 L918.4 345.5 L919.2 348.7 L919.4 203.2 L920.3 192.7 L921.2 187.9 L922 187.5 L921.8 338.2 L922.5 339.2 L923.3 340 L924.1 342.3 L924.9 345 L925.7 348.7 L925.9 203.3 L926.7 194.4 L927.4 190 L928.1 188.4 L928.9 188 L928.2 338.1 L929 338.4 L929.8 339.7 L930.6 342.3 L931.4 344.5 L932.1 348.4 L932.4 203.5 L933.3 192.7 L934.1 188.3 L935 187.5 L935.4 338.7 L936.4 341.1 L937.4 348.2 L937.7 203.7 L938.5 194.3 L939.3 190.2 L940.2 188 L941 188.2 L941.6 337.9 L942.4 339.1 L943.1 340.7 L943.9 343.5 L944.6 348.2 L944.9 204.2 L945.7 194.2 L946.4 189.6 L947.2 188.3 L948 187.7 L948.9 338.4 L949.7 338.8 L950.5 340.6 L951.3 344.1 L952.1 348.5 L952.3 204.2 L953.1 194.8 L953.8 189.8 L954.5 188.5 L955.2 188.2 L954.8 338.1 L955.6 338.5 L956.4 340.3 L957.2 344.1 L958 348.1 L958.2 203.8 L959 194.8 L959.8 189.8 L960.5 188 L961.3 187.7 L961.9 338.4 L962.7 338.5 L963.5 340.1 L964.4 341.4 L965.2 344.5 L966 348.4 L966.3 203.7 L967.3 189.9 L968.3 187.7 L969 337.8 L969.7 338.8 L970.5 340.1 L971.2 341.5 L972 344.1 L972.7 347.7 L973 204 L973.8 193.2 L974.7 188.9 L975.5 188.5 L975.6 338.2 L976.3 338.5 L977 340.5 L977.7 343.2 L978.4 348.3 L978.7 204.1 L979.6 195.3 L980.4 189.8 L981.3 188.6 L982.1 188.4 L982.2 337.9 L982.9 338.6 L983.6 339.4 L984.4 341.8 L985.1 344.6 L985.8 348.1 L986 203.9 L986.8 195.2 L987.6 190.7 L988.3 188.5 L989.1 188.1 L989.3 337.6 L990.1 338.7 L990.8 342.4 L991.6 347.9 L991.8 203.9 L992.6 195.4 L993.4 190.2 L994.1 188.2 L994.9 188 L996.2 338.3 L996.9 338.2 L997.6 340.6 L998.3 343.1 L999 347.9 L999.3 204.1 L1000 195.4 L1000.7 189.9 L1001.4 188.7 L1002.2 188.3 L1002.7 337.6 L1003.4 338.5 L1004.1 340 L1004.8 343.7 L1005.5 348 L1005.8 204 L1006.5 197.8 L1007.2 193.4 L1007.9 190.2 L1008.6 188.8 L1009.4 188.5 L1010.1 188.8 L1009.9 338.2 L1010.6 338.7 L1011.3 341.7 L1012.1 347.3 L1012.3 204.7 L1013.1 197.2 L1013.8 193.5 L1014.5 190.1 L1015.2 189.3 L1015.9 188.2 L1016.6 188.2 L1016.3 337.5 L1017.1 338.8 L1017.9 341.8 L1018.6 347.2 L1018.9 204.8 L1019.7 196.5 L1020.5 192.3 L1021.2 189.2 L1022 188.6 L1022.8 188.2 L1022.5 338 L1023.3 338.5 L1024.1 339.9 L1024.9 342.9 L1025.7 347.3 L1026 204 L1026.7 197.3 L1027.4 193.3 L1028.2 190.5 L1028.9 189.2 L1029.6 188.5 L1030.4 188.1 L1029.4 337.5 L1030.2 337.8 L1030.9 338.4 L1031.6 340.5 L1032.3 341.6 L1033.1 344.6 L1033.8 347.9 L1034 204.2 L1034.7 193.4 L1035.5 189.1 L1036.2 188.4 L1036.1 337.8 L1036.8 338.2 L1037.6 338.7 L1038.3 340.1 L1039.1 342.4 L1039.8 344.2 L1040.6 347.5 L1040.8 204.7 L1041.6 190.5 L1042.3 188.9 L1043.8 337.5 L1044.7 338.6 L1045.6 341.6 L1046.5 347 L1046.7 204.9 L1047.5 196.9 L1048.2 192.2 L1048.9 189.8 L1049.6 189.1 L1050.3 188.5 L1050.5 337.2 L1051.2 338.2 L1051.9 341.7 L1052.7 347.6 L1052.9 204.6 L1053.7 195.4 L1054.5 190.4 L1055.3 188.9 L1056.1 189.2 L1056.5 337 L1057.3 337.7 L1058.2 339.9 L1059 342.5 L1059.8 347 L1060.1 204.9 L1060.9 195.3 L1061.7 190.6 L1062.5 188.8 L1063.3 189.1 L1063.3 337.3 L1064.1 337.9 L1064.8 339.2 L1065.6 340.8 L1066.4 343.5 L1067.2 347.3 L1067.5 205.1 L1068.3 193.3 L1069.1 189.9 L1069.9 189.1 L1069.5 337.2 L1070.2 337.9 L1070.9 338.3 L1071.6 339.7 L1072.4 342 L1073.1 344.1 L1073.8 347.1 L1074.1 204.8 L1074.8 195.9 L1075.5 191.1 L1076.3 189.4 L1077 188.8 L1076.3 336.8 L1077.1 337.7 L1077.9 338.5 L1078.6 339.7 L1079.4 341.2 L1080.1 344.2 L1080.9 347 L1081.1 204.9 L1081.8 196.1 L1082.5 191.2 L1083.2 189.6 L1083.9 188.7 L1083.8 337 L1084.7 338.1 L1085.5 339.9 L1086.3 343 L1087.1 346.8 L1087.3 204.6 L1088.2 193.3 L1089 189.7 L1089.8 188.9 L1090.7 337 L1091.5 337.5 L1092.3 339.8 L1093 342.5 L1093.8 347.2 L1094.1 205.2 L1094.9 195.9 L1095.8 191 L1096.6 189.7 L1097.5 189 L1097.5 337.2 L1098.2 337.6 L1099 338.4 L1099.8 340.3 L1100.5 343.7 L1101.3 346.6 L1101.5 205.3 L1102.4 193.6 L1103.3 189.4 L1104.2 188.8 L1103.4 336.8 L1104.2 337.3 L1105 337.9 L1105.8 339.5 L1106.5 341.1 L1107.3 344.2 L1108.1 346.7 L1108.4 205.3 L1109.1 193.6 L1109.9 190 L1110.6 189.6 L1111.3 336.6 L1112.1 338.4 L1112.9 341.8 L1113.7 347.2 L1113.9 205.1 L1114.7 198.2 L1115.4 193.8 L1116.1 191.4 L1116.8 189.8 L1117.6 189.7 L1118.3 188.9 L1118.4 337.3 L1119.4 339.2 L1120.3 347.1 L1120.6 205.3 L1121.4 197 L1122.2 192.6 L1123 190.3 L1123.9 189.2 L1124.7 189.5 L1123.7 337 L1124.4 336.8 L1125.1 338 L1125.8 339.2 L1126.5 341.1 L1127.2 343.8 L1127.9 346.4 L1128.2 204.9 L1129 194.4 L1129.8 189.8 L1130.6 189.7 L1130.7 336.6 L1131.5 336.9 L1132.3 338.3 L1133.1 340 L1133.9 342.7 L1134.7 346.4 L1135 205.6 L1135.8 196.1 L1136.5 191.7 L1137.3 189.2 L1138.1 189.8 L1138.1 336.3 L1138.9 337.4 L1139.6 338.9 L1140.4 342.3 L1141.1 346.8 L1141.4 205.5 L1142.2 197.2 L1143 192.6 L1143.9 190.6 L1144.7 190 L1145.5 189 L1144.7 336.9 L1145.4 337.4 L1146.1 338.8 L1146.8 342.1 L1147.5 346.2 L1147.8 205.1 L1148.6 195.9 L1149.5 191.3 L1150.3 190.2 L1151.2 190 L1152.1 336.5 L1152.9 337.4 L1153.6 341.4 L1154.3 346.6 L1154.6 205.6 L1155.3 198.4 L1156 194.5 L1156.7 191.9 L1157.4 190.5 L1158.1 189.9 L1158.8 189.9 L1157.8 336.3 L1158.5 337 L1159.2 337.1 L1159.9 338.1 L1160.6 339.7 L1161.3 341.3 L1162 343.8 L1162.7 346.8 L1163 205.6 L1163.7 196.5 L1164.4 191.5 L1165.1 190.1 L1165.8 189.9 L1165.8 336 L1166.9 338.6 L1167.9 346.6 L1168.2 205.4 L1169 197.9 L1169.8 193 L1170.6 190.5 L1171.4 189.5 L1172.2 189.5 L1172.6 336.1 L1173.3 337.3 L1174.1 341.2 L1174.9 346.1 L1175.1 205.3 L1175.9 199.2 L1176.7 194.5 L1177.4 192 L1178.2 190.2 L1178.9 189.8 L1179.7 190.1 L1179.7 336 L1180.5 337.5 L1181.3 341.1 L1182.1 346.2 L1182.4 205.5 L1183.2 196.8 L1184.1 192.1 L1184.9 190.2 L1185.8 189.4 L1186 335.9 L1186.8 337.2 L1187.6 338.9 L1188.4 341.9 L1189.2 346.1 L1189.5 205.9 L1190.2 199.3 L1190.9 194.7 L1191.6 192 L1192.3 190 L1193 189.7 L1193.7 189.5 L1193.4 336.2 L1194.3 337.8 L1195.1 340.8 L1196 346.4 L1196.3 205.9 L1197 197.9 L1197.7 193.7 L1198.4 191.1 L1199.2 190.2 L1199.9 189.7 L1199.2 336 L1200 336.5 L1200.7 338.2 L1201.5 340.2 L1202.2 342.2 L1202.9 345.9 L1203.2 206.2 L1204.1 194.3 L1205 190.3 L1205.9 189.9 L1206.9 335.8 L1207.7 336.8 L1208.4 337.7 L1209.2 339.7 L1209.9 342.6 L1210.6 346.2 L1210.9 205.6 L1211.7 194.5 L1212.5 190.9 L1213.3 190 L1213.2 336.3 L1214 336.9 L1214.7 338.5 L1215.5 341.9 L1216.3 345.6 L1216.6 205.7 L1217.4 198.3 L1218.2 193.9 L1219 191.2 L1219.8 190.3 L1220.6 190.3 L1220.5 335.7 L1221.3 336.3 L1222 337.2 L1222.8 339.5 L1223.5 342.3 L1224.2 346.2 L1224.5 206.1 L1225.2 198.3 L1225.9 193.4 L1226.7 191.2 L1227.4 190 L1228.1 190.4 L1227.7 336.1 L1228.4 336.5 L1229.2 337.6 L1230 339.3 L1230.7 341.9 L1231.5 345.9 L1231.8 206.3 L1232.7 191.9 L1233.7 189.9 L1233.4 335.7 L1234.2 335.8 L1234.9 337 L1235.7 338.4 L1236.5 340.6 L1237.2 342.3 L1238 346.1 L1238.2 205.7 L1239 194.6 L1239.8 190.9 L1240.6 190 L1240.4 335.5 L1241.1 336.2 L1241.8 337.1 L1242.5 338.4 L1243.2 340.1 L1243.9 342.7 L1244.6 345.8 L1244.9 205.8 L1245.7 197.2 L1246.4 192.7 L1247.2 190.8 L1248 190.7 L1247.5 335.5 L1248.3 336.4 L1249.1 337.4 L1249.8 339.3 L1250.6 341.8 L1251.4 345.8 L1251.6 205.8 L1252.4 196.8 L1253.1 192.3 L1253.9 190.7 L1254.6 190.7 L1255.2 335.4 L1255.9 336.5 L1256.6 338.6 L1257.3 341.1 L1258 345.2 L1258.3 205.9 L1259.1 196.9 L1260 192.7 L1260.8 190.9 L1261.6 190.3 L1261.2 335.7 L1262.1 336 L1262.9 337.9 L1263.8 340.8 L1264.6 345.9 L1264.9 206.4 L1265.7 198.9 L1266.5 194.2 L1267.3 191.3 L1268.1 190.7 L1268.9 190.3 L1268.7 335.7 L1269.6 336.3 L1270.5 339.8 L1271.4 345.6 L1271.7 206.6 L1272.5 199.6 L1273.2 195.3 L1274 192.2 L1274.8 190.8 L1275.6 190.9 L1276.3 190.3 L1276.1 335.5 L1276.8 336.8 L1277.6 340.1 L1278.3 345.2 L1278.6 206.5 L1279.4 198.8 L1280.2 193.9 L1280.9 191.2 L1281.7 191 L1282.5 190.6 L1281.9 335.1 L1282.6 335.3 L1283.3 336.1 L1284 337.7 L1284.7 338.5 L1285.4 340.7 L1286.1 343.1 L1286.8 345.5 L1287.1 206.8 L1287.8 197 L1288.5 192.2 L1289.3 190.4 L1290 190.8 L1290.2 335.5 L1291.1 338.2 L1292 345.3 L1292.3 206.5 L1293.1 199.8 L1293.9 195.6 L1294.6 192.2 L1295.4 190.8 L1296.2 190.7 L1297 190.4 L1296.2 335.4 L1297 335.9 L1297.7 337.5 L1298.4 341.1 L1299.1 345.6 L1299.4 206.8 L1300.2 199.5 L1300.9 195.2 L1301.7 192.5 L1302.5 191.5 L1303.3 190.4 L1304.1 190.7 L1303.4 335.5 L1304.1 336 L1304.8 337.3 L1305.5 339.2 L1306.2 341.8 L1307 344.8 L1307.2 206.7 L1307.9 199.1 L1308.7 194.1 L1309.4 192.1 L1310.1 190.5 L1310.9 191.1 L1310.9 335.7 L1311.7 336.1 L1312.5 337.5 L1313.3 340.6 L1314 345 L1314.3 206.2 L1315.1 197.2 L1316 193.1 L1316.8 191.4 L1317.6 190.6 L1317.1 335.2 L1317.9 335.7 L1318.8 336.8 L1319.6 339.2 L1320.5 341.4 L1321.3 345.4 L1321.5 206.8 L1322.4 193.2 L1323.3 190.4 L1324.3 334.9 L1325 335.3 L1325.7 336.3 L1326.4 338.9 L1327.1 341.2 L1327.8 344.8 L1328.1 207.1 L1328.9 197.7 L1329.7 192.9 L1330.5 191.2 L1331.3 190.9 L1331.2 334.8 L1332.1 335.8 L1333 339.3 L1333.9 344.9 L1334.1 206.9 L1335 199 L1335.8 194.5 L1336.6 191.6 L1337.4 191.4 L1338.2 190.8 L1338.4 335.1 L1339.1 336.3 L1339.9 339.1 L1340.6 344.6 L1340.8 206.4 L1341.7 199.5 L1342.5 194.3 L1343.3 192.1 L1344.1 191.2 L1344.9 190.7 L1344.4 334.8 L1345.1 335.6 L1345.9 336.4 L1346.6 338.4 L1347.4 341.5 L1348.1 344.6 L1348.4 206.6 L1349.2 195.5 L1350 191.5 L1350.8 190.9 L1351.4 334.6 L1352.2 335.3 L1353 336.2 L1353.8 338.2 L1354.6 341.2 L1355.3 344.4 L1355.6 206.5 L1356.3 195.6 L1357 191.6 L1357.7 191.5 L1358.5 335.2 L1359.2 335.2 L1359.9 337 L1360.7 340.2 L1361.4 345.1 L1361.7 206.9 L1362.4 198 L1363.2 192.7 L1364 191.3 L1364.7 191 L1364.5 334.9 L1365.2 334.9 L1365.9 335.9 L1366.6 337.4 L1367.3 339.3 L1368 341.3 L1368.7 344.9 L1369 207.4 L1369.8 198.1 L1370.6 193.5 L1371.4 191.3 L1372.2 191.5" fill="none" stroke="#4862A6" stroke-width="2.4" stroke-linejoin="round"/><path d="M117 284.5 L117.7 285.7 L118.4 284.3 L119.1 284.9 L119.8 285.5 L120.5 284.6 L121.2 285.2 L121.9 284.6 L122.6 285.7 L123.3 285.9 L124 285.7 L124.7 286.2 L125.4 285.4 L126.1 286.1 L126.8 286 L127.5 286 L128.2 285.9 L128.9 286.6 L129.6 286.8 L130.3 286.2 L131 286.5 L131.7 285.6 L132.4 286.7 L133.1 286.7 L133.8 287.4 M134.1 254 L134.8 252.9 L135.5 252.9 L136.2 253.1 L136.9 251.8 L137.7 252.3 L138.4 251.6 L139.1 251.3 L139.8 250.9 L140.6 251.9 L141.3 250.6 L142 250.6 L142.7 250.6 L143.4 251.1 L144.2 249.6 L144.9 250 L145.6 249.9 L146.3 250.2 L147 249.9 L147.8 249.7 L148.5 248.5 L149.2 248.5 L149.9 248.2 L150.7 248.8 M150.7 284.2 L151.4 284.6 L152.1 284.6 L152.8 285.6 L153.5 284.5 L154.2 284.4 L154.9 286 L155.6 285.4 L156.3 284.8 L157 285.5 L157.7 284.8 L158.4 285.7 L159.1 286.5 L159.8 286.3 L160.5 286.1 L161.2 285.5 L161.9 285.8 L162.6 285.5 L163.3 286.6 L164 286.2 L164.7 286.7 L165.4 286.1 L166.1 286 L166.8 287 L167.5 287.3 M167.7 254.1 L168.5 253.8 L169.2 253.6 L169.9 253.2 L170.6 252.1 L171.4 252.4 L172.1 251.9 L172.8 251.1 L173.5 250.9 L174.2 251.1 L175 250.8 L175.7 251.3 L176.4 251.5 L177.1 250.4 L177.8 251 L178.6 250.8 L179.3 250.6 L180 249.4 L180.7 248.9 L181.5 248.7 L182.2 248.4 L182.9 248.2 L183.6 248.6 L184.3 248.9 M184.3 284.7 L185 285 L185.7 285.6 L186.4 284.9 L187.1 285.8 L187.8 285.2 L188.5 285.3 L189.2 285.4 L190 284.6 L190.7 285.4 L191.4 285 L192.1 284.8 L192.8 286.2 L193.5 285.2 L194.2 285.8 L194.9 286.3 L195.6 286.1 L196.3 285.8 L197 286.2 L197.7 286.3 L198.4 286.7 L199.1 285.7 L199.8 286.5 L200.5 286.1 L201.2 286.2 M201.4 253.9 L202.1 253.3 L202.9 253.1 L203.6 253.2 L204.3 253.2 L205 252.3 L205.8 252.3 L206.5 251.9 L207.2 251.7 L207.9 251.7 L208.6 251.1 L209.4 251 L210.1 250.7 L210.8 251.2 L211.5 250.6 L212.2 250.7 L213 250.5 L213.7 249.2 L214.4 249.5 L215.1 249.9 L215.9 249.5 L216.6 248.1 L217.3 247.8 L218 248.1 M218 285.1 L218.7 284.2 L219.4 284.2 L220.1 285.3 L220.8 285 L221.5 284.5 L222.2 286 L222.9 285.5 L223.6 285.9 L224.3 284.8 L225 286.1 L225.7 284.9 L226.4 286.3 L227.1 285.7 L227.8 285.6 L228.5 286 L229.2 286.7 L229.9 285.7 L230.6 285.5 L231.4 286.2 L232.1 285.8 L232.8 285.7 L233.5 285.9 L234.2 285.8 L234.9 286.1 M235.1 253.2 L235.8 252.9 L236.6 253.5 L237.3 252.5 L238 252.6 L238.7 251.8 L239.4 251.9 L240.2 251.1 L240.9 251.3 L241.6 250.6 L242.3 251.6 L243 251.1 L243.8 250.2 L244.5 250.5 L245.2 251 L245.9 249.4 L246.7 250.3 L247.4 249.5 L248.1 249.4 L248.8 249.7 L249.5 248.7 L250.3 248.7 L251 248.8 L251.7 249 M251.7 285.4 L252.4 284.7 L253.1 284.7 L253.8 285.8 L254.5 284.5 L255.2 285.5 L255.9 285.5 L256.6 284.6 L257.3 285.9 L258 286.1 L258.7 285.7 L259.4 286 L260.1 286.2 L260.8 285.2 L261.5 285.9 L262.2 285.9 L262.9 286.5 L263.6 286.5 L264.3 286.7 L265 286.3 L265.7 286.9 L266.4 286.6 L267.1 286.7 L267.8 286.1 L268.5 285.8 M268.8 252.9 L269.5 253 L270.2 252.4 L271 253.3 L271.7 252.7 L272.4 252.6 L273.1 252.3 L273.8 252.2 L274.6 251.6 L275.3 250.6 L276 251.7 L276.7 251.4 L277.4 250.7 L278.2 250.6 L278.9 250.5 L279.6 249.3 L280.3 250.2 L281.1 249.2 L281.8 248.7 L282.5 248.8 L283.2 249.3 L283.9 248.2 L284.7 248.8 L285.4 249" fill="none" stroke="#4862A6" stroke-width="6.5" stroke-linejoin="round"/><path d="M284.1 298.4 L284.9 298.1 L285.6 299.9 L286.4 300.6 L287.2 299.9 L287.9 301.3 L288.7 302.5 L289.4 303.4 L290.2 303.4 L290.9 303.8 L291.7 304.4 L292.4 306.2 M292.7 235.8 L293.4 236.3 L294.1 235.5 L294.9 236 L295.6 236.5 L296.3 235.2 L297.1 236.1 L297.8 235.6 L298.5 236 L299.3 235.7 L300 234.9 L300.7 235.8 M300.7 297.5 L301.5 297.9 L302.2 298.7 L303 300.4 L303.7 300.3 L304.5 302 L305.2 301.7 L306 302.4 L306.7 303.5 L307.5 303.7 L308.2 304.7 L309 306.2 M309.3 236.8 L310 236.6 L310.7 236.3 L311.4 236.6 L312.2 236.5 L312.9 235.8 L313.6 236 L314.4 234.9 L315.1 235.8 L315.8 235.3 L316.6 235.7 L317.3 235.4 M317.3 297.4 L318 297.9 L318.8 299 L319.5 299.3 L320.3 300.3 L321.1 301 L321.8 302.1 L322.6 303.3 L323.3 303.8 L324.1 304 L324.8 304.7 L325.6 305.6 M325.8 236.1 L326.6 235.9 L327.3 235.4 L328 235.6 L328.7 236.5 L329.5 235.2 L330.2 235.7 L330.9 235.8 L331.7 236 L332.4 235 L333.1 235 L333.9 234.8 M333.9 298 L334.6 298.9 L335.4 299.2 L336.1 300 L336.9 300 L337.6 301.7 L338.4 301.7 L339.1 303.4 L339.9 303.7 L340.6 303.9 L341.4 304.3 L342.1 305.2 M342.4 236.5 L343.1 236.4 L343.8 235.5 L344.6 235.3 L345.3 235.9 L346 235.9 L346.8 235.5 L347.5 235.2 L348.2 235.6 L349 234.7 L349.7 235 L350.4 235.1 M350.4 297.8 L351.2 298.1 L351.9 299.9 L352.7 299.7 L353.4 301.1 L354.2 301 L354.9 301.6 L355.7 303.1 L356.4 303.2 L357.2 304.8 L357.9 304.9 L358.7 305.1 M358.9 235.9 L359.7 236 L360.4 236.3 L361.1 236.6 L361.9 235.4 L362.6 235.6 L363.3 235.3 L364.1 236.3 L364.8 235 L365.5 234.7 L366.2 234.7 L367 235" fill="none" stroke="#4862A6" stroke-width="4.5" stroke-linejoin="round"/><path d="M367 315.8 L367.8 316 L368.6 317.1 L369.4 316.7 L370.2 318.5 L370.9 318.6 L371.7 320.1 L372.5 322.1 M372.8 225.1 L373.5 220.7 L374.3 217.4 L375.1 216 L375.8 214.8 L376.6 214.9 L377.3 213.7 L378.1 213.9 M378.1 315.8 L378.9 316.5 L379.7 316.3 L380.5 316.9 L381.3 317.3 L382.1 319.3 L382.9 320.8 L383.7 321.9 M383.9 225.2 L384.7 220.1 L385.4 217.6 L386.2 216 L386.9 215.5 L387.7 214.9 L388.5 214 L389.2 213.8 M389.2 315.8 L390 315.7 L390.8 316 L391.6 317.2 L392.4 317.7 L393.2 319.6 L394 320.7 L394.8 322.4 M395 224.4 L395.8 220.2 L396.5 217.4 L397.3 216.1 L398.1 215.2 L398.8 214.3 L399.6 213.8 L400.3 214 M400.3 316.2 L401.1 316 L401.9 316.4 L402.7 317.8 L403.5 318 L404.3 318.6 L405.1 320.6 L405.9 321.9 M406.1 225.3 L406.9 220.2 L407.7 217.9 L408.4 216.5 L409.2 215.4 L409.9 214.9 L410.7 213.5 L411.5 213.8 M411.5 315.7 L412.3 315.9 L413.1 316.3 L413.8 317.3 L414.6 318.1 L415.4 318.6 L416.2 319.6 L417 321.5 M417.3 224.9 L418 220.3 L418.8 217.7 L419.5 215.7 L420.3 215.3 L421.1 214.4 L421.8 213.6 L422.6 213.6" fill="none" stroke="#4862A6" stroke-width="4.0" stroke-linejoin="round"/><path d="M422.6 332.8 L423.4 333.1 L424.3 334.2 L425.1 335.4 L425.9 336.2 L426.8 338 M427 208.4 L427.8 202.6 L428.6 199.3 L429.4 198.7 L430.2 197.6 L431 197.9 M431 332.6 L431.8 333 L432.6 333.9 L433.5 335.4 L434.3 336 L435.2 338.3 M435.4 208.4 L436.2 203.5 L437 199.5 L437.8 197.8 L438.6 198.1 L439.4 198.1 M439.4 333.4 L440.2 332.9 L441 333.5 L441.9 334.8 L442.7 336.4 L443.6 338.2 M443.8 207.7 L444.6 202.7 L445.4 200.1 L446.2 198.7 L447 197.1 L447.7 197.6 M447.7 332.9 L448.6 333.1 L449.4 333.3 L450.3 335 L451.1 336.4 L451.9 338 M452.2 208.4 L453 203.3 L453.8 199.8 L454.6 197.9 L455.3 197.6 L456.1 197.1 M456.1 333 L457 333.1 L457.8 334.3 L458.7 334.5 L459.5 336.8 L460.3 338.8 M460.6 208.4 L461.4 203.3 L462.2 199.5 L462.9 198.8 L463.7 197.6 L464.5 198.1" fill="none" stroke="#4862A6" stroke-width="3.8" stroke-linejoin="round"/><path d="M465 342.9 L465.8 343.3 L466.5 346.7 L467.2 352.4 M467.5 199.9 L468.2 191.9 L469 187.3 L469.7 184.9 L470.4 184.7 L471.1 184.4 M471.8 342.6 L472.8 344.8 L473.8 352.6 M474 199.9 L474.8 193.8 L475.6 189 L476.3 186.1 L477.1 185.1 L477.8 184.3 L478.6 184 M477 342.3 L477.7 342.8 L478.4 344.3 L479.1 345.6 L479.8 348.4 L480.5 352.4 M480.7 199.7 L481.5 192 L482.3 187.6 L483 185 L483.8 184.3 L484.6 184 M484.6 342.2 L485.4 342.5 L486.1 343.5 L486.8 346 L487.6 348.7 L488.3 352 M488.6 200.3 L489.3 191 L490 186.7 L490.7 184.8 L491.5 184.1 M490.4 342.3 L491.3 343 L492.1 345 L493 347.5 L493.8 351.9 M494.1 200 L494.8 192.1 L495.6 188.2 L496.3 185.7 L497.1 184.7 L497.8 184 M498 342.4 L498.8 342.6 L499.6 344.7 L500.5 347.7 L501.3 352.3 M501.5 200.3 L502.3 190.9 L503.2 186.6 L504 185.1 L504.8 184.2 M503.8 342.3 L504.5 342.6 L505.3 343.7 L506 344.6 L506.8 346.8 L507.5 349.2 L508.2 352.3 M508.5 200.3 L509.3 189.4 L510.2 185.2 L511.1 184.3 M510.1 342.2 L510.9 342.9 L511.8 344.8 L512.6 347.2 L513.4 352 M513.7 200.3 L514.5 192.9 L515.3 188.3 L516.1 185.9 L517 184.3 L517.8 184.9 M517.7 341.7 L518.6 343.4 L519.5 346.2 L520.4 351.7 M520.7 200.4 L521.6 188.9 L522.5 185 L523.4 184.4 M524.6 342 L525.4 342.8 L526.3 346.7 L527.2 351.5 M527.4 200.8 L528.1 192.5 L528.9 187.6 L529.6 185.4 L530.3 185 L531.1 185.1 M530.4 341.9 L531.2 342.2 L532 344.5 L532.8 347.1 L533.6 352 M533.8 200.7 L534.6 193.1 L535.4 188.2 L536.1 185.6 L536.9 184.7 L537.7 184.6 M536.9 342.1 L537.7 342.5 L538.4 343.6 L539.1 345.3 L539.9 348 L540.6 351.4 M540.9 200.9 L541.7 191.6 L542.5 187 L543.3 184.7 L544.1 184.7 M543.4 341.7 L544.3 342.4 L545.1 344 L545.9 347.2 L546.8 351.4 M547 201.1 L547.8 191.7 L548.6 186.4 L549.4 185.5 L550.2 184.5 M549.9 341.9 L550.7 342.1 L551.4 343.4 L552.2 345.3 L553 347.7 L553.8 351.7 M554 200.6 L554.8 193.2 L555.5 188.7 L556.3 185.8 L557 185.1 L557.8 185.1 M557 341.6 L557.7 342.3 L558.5 343.5 L559.3 345.4 L560 347.8 L560.8 351.5 M561.1 200.7 L561.8 189.7 L562.5 185.4 L563.2 185.1 M564.4 341.3 L565.1 342.1 L565.8 343.3 L566.5 345.4 L567.2 348 L568 351.6 M568.2 201.1 L569 189.7 L569.8 185.5 L570.6 185.4 M569.7 341.8 L570.5 341.8 L571.3 342.9 L572.1 344.9 L572.9 348.1 L573.7 351.8 M574 200.9 L574.8 191.4 L575.5 187.3 L576.3 185.2 L577.1 184.8 M577.7 341.3 L578.5 342.2 L579.4 343.7 L580.2 347.4 L581 351.2 M581.3 201.2 L582.1 189.6 L582.9 185.6 L583.8 184.9 M584.1 341.8 L584.8 341.7 L585.5 344.2 L586.2 347.4 L586.9 351.6 M587.2 200.6 L588 193.5 L588.8 188.7 L589.6 185.7 L590.4 184.8 L591.2 185.5 M589.9 341.7 L590.7 341.8 L591.4 342.9 L592.2 344.1 L592.9 346.1 L593.7 348 L594.4 351.4 M594.7 201 L595.5 190.1 L596.4 185.7 L597.3 185.5 M597.2 341.7 L597.9 341.7 L598.7 343 L599.5 345 L600.2 348 L601 351.1 M601.3 201 L602.1 187.6 L602.9 184.8 M604.4 341.4 L605.3 343.6 L606.3 351.5 M606.5 201 L607.2 194.4 L607.9 190 L608.6 187.5 L609.3 185.6 L610 185.3 L610.7 185.2 M610.9 341.1 L611.7 342.4 L612.6 345.7 L613.4 351.3 M613.7 200.8 L614.4 192.2 L615.2 187.7 L615.9 185.6 L616.7 184.9 M617.2 341.3 L618.1 341.5 L618.9 343.8 L619.8 346.7 L620.7 351.3 M620.9 200.9 L621.6 191.8 L622.4 187 L623.1 185.9 L623.8 185.8 M623.9 341.2 L624.6 341.1 L625.4 342.4 L626.2 344.9 L626.9 347.5 L627.7 351.4 M627.9 201.2 L628.7 187 L629.5 185.3 M629.5 341.5 L630.2 341 L630.9 342.5 L631.7 343.2 L632.4 345 L633.2 348.1 L633.9 350.7 M634.2 201.5 L634.9 189.9 L635.6 185.7 L636.3 185.7 M637.3 341.1 L638 342.4 L638.7 345 L639.4 350.7 M639.7 201.6 L640.4 191.9 L641.2 187.8 L642 185.8 L642.7 185.1 M643.4 341.2 L644.2 341.4 L645 342.3 L645.8 344.1 L646.5 347.7 L647.3 351 M647.6 201.7 L648.4 192.1 L649.3 187.7 L650.1 186.3 L650.9 185.9 M649.4 341 L650.1 341.6 L650.9 342.8 L651.6 344 L652.4 347.5 L653.1 351 M653.4 201.8 L654.2 192.4 L655 187.4 L655.9 186.2 L656.7 185.9 M657 340.6 L657.9 341.2 L658.7 343.5 L659.6 346.6 L660.4 350.7 M660.7 201.2 L661.6 190.7 L662.5 186.5 L663.4 185.5 M663.2 340.8 L664 340.9 L664.7 341.9 L665.4 344.8 L666.2 347 L666.9 350.3 M667.1 201.7 L668.1 190.7 L669 186 L669.9 185.8 M670 341 L670.8 341.5 L671.6 342.1 L672.5 343.9 L673.3 346.8 L674.2 350.3 M674.4 201.3 L675.3 190.1 L676.3 186.4 L677.2 186.1 M677 340.6 L677.7 341 L678.5 341.9 L679.3 344.6 L680 347.4 L680.8 350.3 M681.1 201.3 L681.9 190.3 L682.8 186.3 L683.7 186.2 M684.1 340.7 L684.8 341.5 L685.5 342.7 L686.3 346 L687 350.2 M687.2 201.4 L688 190.6 L688.9 186.2 L689.7 185.7 M690.7 340.2 L691.7 343.4 L692.7 350.7 M693 201.9 L693.7 194 L694.4 189.2 L695.1 187.3 L695.8 186.1 L696.6 186.1 M696.3 340.2 L697 340.8 L697.7 341.4 L698.4 343.3 L699.1 344.5 L699.8 347.8 L700.5 349.9 M700.8 202.2 L701.5 190.9 L702.3 186.3 L703 186 M702.5 340.9 L703.3 340.3 L704 341.8 L704.8 342.8 L705.5 344.5 L706.2 346.8 L707 350.6 M707.2 201.9 L708 190.5 L708.8 186.6 L709.6 186.4 M709.9 340.5 L710.6 341.2 L711.4 343.1 L712.1 346 L712.9 350 M713.1 201.6 L713.8 193 L714.6 188 L715.3 186.6 L716.1 185.7 M716 340 L716.8 340.5 L717.5 341.5 L718.2 342.3 L719 344.7 L719.7 347.1 L720.4 350.2 M720.7 201.7 L721.4 191.1 L722.2 187 L723 186.5 M723.3 340 L724.1 341.1 L724.9 344.3 L725.7 349.9 M726 202.3 L726.7 195 L727.5 190.5 L728.3 188.4 L729.1 186.5 L729.8 185.9 L730.6 186.3 M729.5 339.9 L730.2 340.9 L731 343 L731.8 345.4 L732.5 350.1 M732.8 202.3 L733.5 194.1 L734.2 190 L734.9 187.7 L735.6 186.3 L736.3 186.2 M737 340.5 L737.8 340.4 L738.7 342.6 L739.6 346.1 L740.5 350.4 M740.7 201.9 L741.4 192.9 L742.2 188.4 L742.9 186.5 L743.6 186.4 M743.7 340.2 L744.5 340.5 L745.4 342.7 L746.2 345.4 L747 350 M747.3 202.6 L748.1 188.5 L748.9 186.2 M749.3 339.7 L750 340.1 L750.8 341.3 L751.5 343.4 L752.2 346.3 L752.9 349.7 M753.2 202 L754 192.7 L754.8 188.5 L755.6 187 L756.4 186.5 M755.8 340.1 L756.6 339.9 L757.4 341.4 L758.1 343.8 L758.9 346 L759.6 349.9 M759.9 202.3 L760.6 193 L761.3 188.9 L762 186.5 L762.7 186.7 M763.7 339.8 L764.4 340.4 L765.2 342.5 L765.9 345.6 L766.6 350.1 M766.9 202.7 L767.9 188.5 L769 186.7 M769.7 339.9 L770.5 340.4 L771.3 342.6 L772.1 345.7 L772.8 349.8 M773.1 202.3 L773.9 194.6 L774.6 190 L775.4 187.8 L776.2 186.5 L776.9 186.5 M776.3 340.2 L777.1 340.3 L777.9 342.6 L778.8 345.7 L779.6 350.1 M779.8 202.2 L780.6 191.3 L781.3 187.6 L782.1 186.2 M782.6 339.6 L783.4 340.8 L784.2 342.4 L785 345.3 L785.8 349.2 M786.1 202.4 L786.9 193.3 L787.8 188.7 L788.7 187 L789.5 187 M790.2 339.3 L790.9 340.7 L791.7 342.3 L792.5 345.5 L793.2 350 M793.5 202.9 L794.3 191.4 L795.2 187 L796 186.6 M795.8 339.8 L796.6 339.6 L797.4 341 L798.2 343.5 L799 346 L799.8 349.6 M800 202.4 L800.8 191.5 L801.5 187.4 L802.3 186.6 M802.1 339.7 L802.8 340.2 L803.6 340.8 L804.4 342.7 L805.2 346.1 L806 349.3 M806.2 202.9 L806.9 194.8 L807.6 190 L808.3 187.7 L809 186.6 L809.8 187.2 M808.8 339.8 L809.5 340 L810.3 342.3 L811 345.3 L811.8 349.2 M812 202.8 L812.8 196.5 L813.5 191.6 L814.3 189.3 L815 187.3 L815.8 186.9 L816.6 187.1 M815.5 339.5 L816.2 339.8 L817 341 L817.7 342.6 L818.5 345.4 L819.2 349.6 M819.5 202.6 L820.3 191.4 L821 187.3 L821.8 186.8 M822.4 339.1 L823.1 339.7 L823.9 341.2 L824.7 342.8 L825.5 346.1 L826.3 349 M826.6 203.2 L827.3 193.7 L828.1 188.7 L828.8 187.2 L829.6 186.7 M829.1 339.6 L829.9 339.9 L830.8 342 L831.6 344.9 L832.4 349 M832.7 202.8 L833.6 191.4 L834.4 187.4 L835.3 187.4 M835.1 339.2 L835.8 339.9 L836.5 340.6 L837.2 342.1 L837.9 344 L838.6 345.8 L839.3 348.9 M839.6 202.5 L840.4 192 L841.2 187.8 L841.9 187 M842.7 338.8 L843.5 339.5 L844.3 341.4 L845.1 344.6 L846 349 M846.2 202.6 L847.2 189 L848.1 187.3 M849.4 339.5 L850.2 340.4 L851 343.1 L851.9 348.8 M852.1 202.7 L853 192.2 L853.9 187.5 L854.8 187.6 M856.2 339.4 L857 339.8 L857.7 341.5 L858.4 344.3 L859.1 349.1 M859.4 203 L860.2 194 L861 189.6 L861.7 187.2 L862.5 187.5 M861.9 338.9 L862.7 339.3 L863.6 341.7 L864.4 344.8 L865.3 348.7 M865.5 202.9 L866.4 192 L867.4 187.9 L868.3 187.7 M869 339.2 L869.8 339.9 L870.6 341.1 L871.4 344.4 L872.2 348.7 M872.5 202.9 L873.2 193.7 L873.9 189.2 L874.6 187.3 L875.3 187.6 M874.7 339 L875.4 338.9 L876.1 340 L876.9 341.3 L877.6 343 L878.3 345.8 L879 348.4 M879.3 203.6 L880.2 194.2 L881 189.5 L881.9 188.1 L882.8 187.6 M882.7 339.2 L883.7 341.6 L884.7 348.6 M885 203 L885.8 195.9 L886.6 190.7 L887.4 188.4 L888.2 187.6 L889.1 187.4 M888.6 338.9 L889.5 339.5 L890.4 343.4 L891.3 348.4 M891.6 203.3 L892.4 194.6 L893.2 189.1 L894.1 187.4 L894.9 187.5 M895.1 338.9 L895.9 339.7 L896.7 341.6 L897.5 344 L898.2 348.4 M898.5 203.4 L899.3 194.3 L900.1 189.4 L900.9 187.6 L901.7 187.2 M902.1 338.8 L902.9 339.7 L903.7 341.2 L904.5 344.4 L905.3 348.4 M905.6 203.3 L906.4 192.7 L907.3 187.8 L908.1 187.3 M907.8 338.7 L908.7 338.9 L909.5 341.4 L910.4 344 L911.2 348.1 M911.5 203.5 L912.2 196.6 L912.9 192.4 L913.6 189.7 L914.3 188 L915 187.8 L915.7 187.3 M914.4 338.2 L915.2 339.2 L916 339.6 L916.8 340.8 L917.6 343.4 L918.4 345.5 L919.2 348.7 M919.4 203.2 L920.3 192.7 L921.2 187.9 L922 187.5 M921.8 338.2 L922.5 339.2 L923.3 340 L924.1 342.3 L924.9 345 L925.7 348.7 M925.9 203.3 L926.7 194.4 L927.4 190 L928.1 188.4 L928.9 188 M928.2 338.1 L929 338.4 L929.8 339.7 L930.6 342.3 L931.4 344.5 L932.1 348.4 M932.4 203.5 L933.3 192.7 L934.1 188.3 L935 187.5 M935.4 338.7 L936.4 341.1 L937.4 348.2 M937.7 203.7 L938.5 194.3 L939.3 190.2 L940.2 188 L941 188.2 M941.6 337.9 L942.4 339.1 L943.1 340.7 L943.9 343.5 L944.6 348.2 M944.9 204.2 L945.7 194.2 L946.4 189.6 L947.2 188.3 L948 187.7 M948.9 338.4 L949.7 338.8 L950.5 340.6 L951.3 344.1 L952.1 348.5 M952.3 204.2 L953.1 194.8 L953.8 189.8 L954.5 188.5 L955.2 188.2 M954.8 338.1 L955.6 338.5 L956.4 340.3 L957.2 344.1 L958 348.1 M958.2 203.8 L959 194.8 L959.8 189.8 L960.5 188 L961.3 187.7 M961.9 338.4 L962.7 338.5 L963.5 340.1 L964.4 341.4 L965.2 344.5 L966 348.4 M966.3 203.7 L967.3 189.9 L968.3 187.7 M969 337.8 L969.7 338.8 L970.5 340.1 L971.2 341.5 L972 344.1 L972.7 347.7 M973 204 L973.8 193.2 L974.7 188.9 L975.5 188.5 M975.6 338.2 L976.3 338.5 L977 340.5 L977.7 343.2 L978.4 348.3 M978.7 204.1 L979.6 195.3 L980.4 189.8 L981.3 188.6 L982.1 188.4 M982.2 337.9 L982.9 338.6 L983.6 339.4 L984.4 341.8 L985.1 344.6 L985.8 348.1 M986 203.9 L986.8 195.2 L987.6 190.7 L988.3 188.5 L989.1 188.1 M989.3 337.6 L990.1 338.7 L990.8 342.4 L991.6 347.9 M991.8 203.9 L992.6 195.4 L993.4 190.2 L994.1 188.2 L994.9 188 M996.2 338.3 L996.9 338.2 L997.6 340.6 L998.3 343.1 L999 347.9 M999.3 204.1 L1000 195.4 L1000.7 189.9 L1001.4 188.7 L1002.2 188.3 M1002.7 337.6 L1003.4 338.5 L1004.1 340 L1004.8 343.7 L1005.5 348 M1005.8 204 L1006.5 197.8 L1007.2 193.4 L1007.9 190.2 L1008.6 188.8 L1009.4 188.5 L1010.1 188.8 M1009.9 338.2 L1010.6 338.7 L1011.3 341.7 L1012.1 347.3 M1012.3 204.7 L1013.1 197.2 L1013.8 193.5 L1014.5 190.1 L1015.2 189.3 L1015.9 188.2 L1016.6 188.2 M1016.3 337.5 L1017.1 338.8 L1017.9 341.8 L1018.6 347.2 M1018.9 204.8 L1019.7 196.5 L1020.5 192.3 L1021.2 189.2 L1022 188.6 L1022.8 188.2 M1022.5 338 L1023.3 338.5 L1024.1 339.9 L1024.9 342.9 L1025.7 347.3 M1026 204 L1026.7 197.3 L1027.4 193.3 L1028.2 190.5 L1028.9 189.2 L1029.6 188.5 L1030.4 188.1 M1029.4 337.5 L1030.2 337.8 L1030.9 338.4 L1031.6 340.5 L1032.3 341.6 L1033.1 344.6 L1033.8 347.9 M1034 204.2 L1034.7 193.4 L1035.5 189.1 L1036.2 188.4 M1036.1 337.8 L1036.8 338.2 L1037.6 338.7 L1038.3 340.1 L1039.1 342.4 L1039.8 344.2 L1040.6 347.5 M1040.8 204.7 L1041.6 190.5 L1042.3 188.9 M1043.8 337.5 L1044.7 338.6 L1045.6 341.6 L1046.5 347 M1046.7 204.9 L1047.5 196.9 L1048.2 192.2 L1048.9 189.8 L1049.6 189.1 L1050.3 188.5 M1050.5 337.2 L1051.2 338.2 L1051.9 341.7 L1052.7 347.6 M1052.9 204.6 L1053.7 195.4 L1054.5 190.4 L1055.3 188.9 L1056.1 189.2 M1056.5 337 L1057.3 337.7 L1058.2 339.9 L1059 342.5 L1059.8 347 M1060.1 204.9 L1060.9 195.3 L1061.7 190.6 L1062.5 188.8 L1063.3 189.1 M1063.3 337.3 L1064.1 337.9 L1064.8 339.2 L1065.6 340.8 L1066.4 343.5 L1067.2 347.3 M1067.5 205.1 L1068.3 193.3 L1069.1 189.9 L1069.9 189.1 M1069.5 337.2 L1070.2 337.9 L1070.9 338.3 L1071.6 339.7 L1072.4 342 L1073.1 344.1 L1073.8 347.1 M1074.1 204.8 L1074.8 195.9 L1075.5 191.1 L1076.3 189.4 L1077 188.8 M1076.3 336.8 L1077.1 337.7 L1077.9 338.5 L1078.6 339.7 L1079.4 341.2 L1080.1 344.2 L1080.9 347 M1081.1 204.9 L1081.8 196.1 L1082.5 191.2 L1083.2 189.6 L1083.9 188.7 M1083.8 337 L1084.7 338.1 L1085.5 339.9 L1086.3 343 L1087.1 346.8 M1087.3 204.6 L1088.2 193.3 L1089 189.7 L1089.8 188.9 M1090.7 337 L1091.5 337.5 L1092.3 339.8 L1093 342.5 L1093.8 347.2 M1094.1 205.2 L1094.9 195.9 L1095.8 191 L1096.6 189.7 L1097.5 189 M1097.5 337.2 L1098.2 337.6 L1099 338.4 L1099.8 340.3 L1100.5 343.7 L1101.3 346.6 M1101.5 205.3 L1102.4 193.6 L1103.3 189.4 L1104.2 188.8 M1103.4 336.8 L1104.2 337.3 L1105 337.9 L1105.8 339.5 L1106.5 341.1 L1107.3 344.2 L1108.1 346.7 M1108.4 205.3 L1109.1 193.6 L1109.9 190 L1110.6 189.6 M1111.3 336.6 L1112.1 338.4 L1112.9 341.8 L1113.7 347.2 M1113.9 205.1 L1114.7 198.2 L1115.4 193.8 L1116.1 191.4 L1116.8 189.8 L1117.6 189.7 L1118.3 188.9 M1118.4 337.3 L1119.4 339.2 L1120.3 347.1 M1120.6 205.3 L1121.4 197 L1122.2 192.6 L1123 190.3 L1123.9 189.2 L1124.7 189.5 M1123.7 337 L1124.4 336.8 L1125.1 338 L1125.8 339.2 L1126.5 341.1 L1127.2 343.8 L1127.9 346.4 M1128.2 204.9 L1129 194.4 L1129.8 189.8 L1130.6 189.7 M1130.7 336.6 L1131.5 336.9 L1132.3 338.3 L1133.1 340 L1133.9 342.7 L1134.7 346.4 M1135 205.6 L1135.8 196.1 L1136.5 191.7 L1137.3 189.2 L1138.1 189.8 M1138.1 336.3 L1138.9 337.4 L1139.6 338.9 L1140.4 342.3 L1141.1 346.8 M1141.4 205.5 L1142.2 197.2 L1143 192.6 L1143.9 190.6 L1144.7 190 L1145.5 189 M1144.7 336.9 L1145.4 337.4 L1146.1 338.8 L1146.8 342.1 L1147.5 346.2 M1147.8 205.1 L1148.6 195.9 L1149.5 191.3 L1150.3 190.2 L1151.2 190 M1152.1 336.5 L1152.9 337.4 L1153.6 341.4 L1154.3 346.6 M1154.6 205.6 L1155.3 198.4 L1156 194.5 L1156.7 191.9 L1157.4 190.5 L1158.1 189.9 L1158.8 189.9 M1157.8 336.3 L1158.5 337 L1159.2 337.1 L1159.9 338.1 L1160.6 339.7 L1161.3 341.3 L1162 343.8 L1162.7 346.8 M1163 205.6 L1163.7 196.5 L1164.4 191.5 L1165.1 190.1 L1165.8 189.9 M1165.8 336 L1166.9 338.6 L1167.9 346.6 M1168.2 205.4 L1169 197.9 L1169.8 193 L1170.6 190.5 L1171.4 189.5 L1172.2 189.5 M1172.6 336.1 L1173.3 337.3 L1174.1 341.2 L1174.9 346.1 M1175.1 205.3 L1175.9 199.2 L1176.7 194.5 L1177.4 192 L1178.2 190.2 L1178.9 189.8 L1179.7 190.1 M1179.7 336 L1180.5 337.5 L1181.3 341.1 L1182.1 346.2 M1182.4 205.5 L1183.2 196.8 L1184.1 192.1 L1184.9 190.2 L1185.8 189.4 M1186 335.9 L1186.8 337.2 L1187.6 338.9 L1188.4 341.9 L1189.2 346.1 M1189.5 205.9 L1190.2 199.3 L1190.9 194.7 L1191.6 192 L1192.3 190 L1193 189.7 L1193.7 189.5 M1193.4 336.2 L1194.3 337.8 L1195.1 340.8 L1196 346.4 M1196.3 205.9 L1197 197.9 L1197.7 193.7 L1198.4 191.1 L1199.2 190.2 L1199.9 189.7 M1199.2 336 L1200 336.5 L1200.7 338.2 L1201.5 340.2 L1202.2 342.2 L1202.9 345.9 M1203.2 206.2 L1204.1 194.3 L1205 190.3 L1205.9 189.9 M1206.9 335.8 L1207.7 336.8 L1208.4 337.7 L1209.2 339.7 L1209.9 342.6 L1210.6 346.2 M1210.9 205.6 L1211.7 194.5 L1212.5 190.9 L1213.3 190 M1213.2 336.3 L1214 336.9 L1214.7 338.5 L1215.5 341.9 L1216.3 345.6 M1216.6 205.7 L1217.4 198.3 L1218.2 193.9 L1219 191.2 L1219.8 190.3 L1220.6 190.3 M1220.5 335.7 L1221.3 336.3 L1222 337.2 L1222.8 339.5 L1223.5 342.3 L1224.2 346.2 M1224.5 206.1 L1225.2 198.3 L1225.9 193.4 L1226.7 191.2 L1227.4 190 L1228.1 190.4 M1227.7 336.1 L1228.4 336.5 L1229.2 337.6 L1230 339.3 L1230.7 341.9 L1231.5 345.9 M1231.8 206.3 L1232.7 191.9 L1233.7 189.9 M1233.4 335.7 L1234.2 335.8 L1234.9 337 L1235.7 338.4 L1236.5 340.6 L1237.2 342.3 L1238 346.1 M1238.2 205.7 L1239 194.6 L1239.8 190.9 L1240.6 190 M1240.4 335.5 L1241.1 336.2 L1241.8 337.1 L1242.5 338.4 L1243.2 340.1 L1243.9 342.7 L1244.6 345.8 M1244.9 205.8 L1245.7 197.2 L1246.4 192.7 L1247.2 190.8 L1248 190.7 M1247.5 335.5 L1248.3 336.4 L1249.1 337.4 L1249.8 339.3 L1250.6 341.8 L1251.4 345.8 M1251.6 205.8 L1252.4 196.8 L1253.1 192.3 L1253.9 190.7 L1254.6 190.7 M1255.2 335.4 L1255.9 336.5 L1256.6 338.6 L1257.3 341.1 L1258 345.2 M1258.3 205.9 L1259.1 196.9 L1260 192.7 L1260.8 190.9 L1261.6 190.3 M1261.2 335.7 L1262.1 336 L1262.9 337.9 L1263.8 340.8 L1264.6 345.9 M1264.9 206.4 L1265.7 198.9 L1266.5 194.2 L1267.3 191.3 L1268.1 190.7 L1268.9 190.3 M1268.7 335.7 L1269.6 336.3 L1270.5 339.8 L1271.4 345.6 M1271.7 206.6 L1272.5 199.6 L1273.2 195.3 L1274 192.2 L1274.8 190.8 L1275.6 190.9 L1276.3 190.3 M1276.1 335.5 L1276.8 336.8 L1277.6 340.1 L1278.3 345.2 M1278.6 206.5 L1279.4 198.8 L1280.2 193.9 L1280.9 191.2 L1281.7 191 L1282.5 190.6 M1281.9 335.1 L1282.6 335.3 L1283.3 336.1 L1284 337.7 L1284.7 338.5 L1285.4 340.7 L1286.1 343.1 L1286.8 345.5 M1287.1 206.8 L1287.8 197 L1288.5 192.2 L1289.3 190.4 L1290 190.8 M1290.2 335.5 L1291.1 338.2 L1292 345.3 M1292.3 206.5 L1293.1 199.8 L1293.9 195.6 L1294.6 192.2 L1295.4 190.8 L1296.2 190.7 L1297 190.4 M1296.2 335.4 L1297 335.9 L1297.7 337.5 L1298.4 341.1 L1299.1 345.6 M1299.4 206.8 L1300.2 199.5 L1300.9 195.2 L1301.7 192.5 L1302.5 191.5 L1303.3 190.4 L1304.1 190.7 M1303.4 335.5 L1304.1 336 L1304.8 337.3 L1305.5 339.2 L1306.2 341.8 L1307 344.8 M1307.2 206.7 L1307.9 199.1 L1308.7 194.1 L1309.4 192.1 L1310.1 190.5 L1310.9 191.1 M1310.9 335.7 L1311.7 336.1 L1312.5 337.5 L1313.3 340.6 L1314 345 M1314.3 206.2 L1315.1 197.2 L1316 193.1 L1316.8 191.4 L1317.6 190.6 M1317.1 335.2 L1317.9 335.7 L1318.8 336.8 L1319.6 339.2 L1320.5 341.4 L1321.3 345.4 M1321.5 206.8 L1322.4 193.2 L1323.3 190.4 M1324.3 334.9 L1325 335.3 L1325.7 336.3 L1326.4 338.9 L1327.1 341.2 L1327.8 344.8 M1328.1 207.1 L1328.9 197.7 L1329.7 192.9 L1330.5 191.2 L1331.3 190.9 M1331.2 334.8 L1332.1 335.8 L1333 339.3 L1333.9 344.9 M1334.1 206.9 L1335 199 L1335.8 194.5 L1336.6 191.6 L1337.4 191.4 L1338.2 190.8 M1338.4 335.1 L1339.1 336.3 L1339.9 339.1 L1340.6 344.6 M1340.8 206.4 L1341.7 199.5 L1342.5 194.3 L1343.3 192.1 L1344.1 191.2 L1344.9 190.7 M1344.4 334.8 L1345.1 335.6 L1345.9 336.4 L1346.6 338.4 L1347.4 341.5 L1348.1 344.6 M1348.4 206.6 L1349.2 195.5 L1350 191.5 L1350.8 190.9 M1351.4 334.6 L1352.2 335.3 L1353 336.2 L1353.8 338.2 L1354.6 341.2 L1355.3 344.4 M1355.6 206.5 L1356.3 195.6 L1357 191.6 L1357.7 191.5 M1358.5 335.2 L1359.2 335.2 L1359.9 337 L1360.7 340.2 L1361.4 345.1 M1361.7 206.9 L1362.4 198 L1363.2 192.7 L1364 191.3 L1364.7 191 M1364.5 334.9 L1365.2 334.9 L1365.9 335.9 L1366.6 337.4 L1367.3 339.3 L1368 341.3 L1368.7 344.9 M1369 207.4 L1369.8 198.1 L1370.6 193.5 L1371.4 191.3 L1372.2 191.5" fill="none" stroke="#4862A6" stroke-width="2.8" stroke-linejoin="round"/>
</g>
<defs><clipPath id="clipA"><rect x="116" y="40" width="1256" height="434"/></clipPath></defs>
<rect x="115.2" y="53.6" width="1257" height="421.8" fill="none" stroke="#000" stroke-width="2.6"/>
<line x1="96.2" y1="53.3" x2="115.2" y2="53.3" stroke="#000" stroke-width="2.6"/>
<text x="92.5" y="59.3" font-size="29" text-anchor="end">0.06</text>
<line x1="96.2" y1="158.9" x2="115.2" y2="158.9" stroke="#000" stroke-width="2.6"/>
<text x="92.5" y="164.9" font-size="29" text-anchor="end">0.03</text>
<line x1="96.2" y1="264.4" x2="115.2" y2="264.4" stroke="#000" stroke-width="2.6"/>
<text x="92.5" y="270.4" font-size="29" text-anchor="end">0.00</text>
<line x1="96.2" y1="369.9" x2="115.2" y2="369.9" stroke="#000" stroke-width="2.6"/>
<text x="86.3" y="375.9" font-size="29" text-anchor="end">-0.03</text>
<line x1="96.2" y1="475.5" x2="115.2" y2="475.5" stroke="#000" stroke-width="2.6"/>
<text x="86.3" y="481.5" font-size="29" text-anchor="end">-0.06</text>
<line x1="105.2" y1="106.1" x2="115.2" y2="106.1" stroke="#000" stroke-width="2.6"/>
<line x1="105.2" y1="211.6" x2="115.2" y2="211.6" stroke="#000" stroke-width="2.6"/>
<line x1="105.2" y1="317.2" x2="115.2" y2="317.2" stroke="#000" stroke-width="2.6"/>
<line x1="105.2" y1="422.7" x2="115.2" y2="422.7" stroke="#000" stroke-width="2.6"/>
<line x1="114.9" y1="475.4" x2="114.9" y2="494.5" stroke="#000" stroke-width="2.6"/>
<text x="117.7" y="525.3" font-size="29" text-anchor="middle">0</text>
<line x1="322.3" y1="475.4" x2="322.3" y2="485" stroke="#000" stroke-width="2.6"/>
<line x1="529.5" y1="475.4" x2="529.5" y2="494.5" stroke="#000" stroke-width="2.6"/>
<text x="529.5" y="525.3" font-size="29" text-anchor="middle">50</text>
<line x1="737.2" y1="475.4" x2="737.2" y2="485" stroke="#000" stroke-width="2.6"/>
<line x1="944.2" y1="475.4" x2="944.2" y2="494.5" stroke="#000" stroke-width="2.6"/>
<text x="944.2" y="525.3" font-size="29" text-anchor="middle">100</text>
<line x1="1156.4" y1="475.4" x2="1156.4" y2="485" stroke="#000" stroke-width="2.6"/>
<line x1="1372.2" y1="475.4" x2="1372.2" y2="494.5" stroke="#000" stroke-width="2.6"/>
<text x="1372.2" y="525.3" font-size="29" text-anchor="middle">150</text>
<text x="667.2" y="529.8" font-size="29">Time (h)</text>
<text x="25" y="254.5" font-size="29.5" text-anchor="middle" transform="rotate(-90 25 254.5)">Voltage (V)</text>
<text x="-2.3" y="21" font-size="28.5" font-weight="bold">a</text>
<text x="182" y="213.2" font-size="29">0.52</text>
<text x="293.3" y="185.3" font-size="29">1.04</text>
<text x="366.3" y="151" font-size="29">1.56</text>
<text x="405.1" y="117.2" font-size="29">2.08</text>
<text x="471.2" y="95.5" font-size="29">2.60 mA cm<tspan font-size="23" dy="-12.8">-2</tspan></text>
<text x="1158.8" y="459.5" font-size="29">1.04 mAh cm<tspan font-size="23" dy="-13.9">-2</tspan></text>
<text x="163" y="331.9" font-size="29" fill="#4862A6">K-Na/C</text>
<text x="289.4" y="382.8" font-size="29" fill="#E8440C">K-Na</text>
<rect x="1524.3" y="52.6" width="506.2" height="420.6" fill="none" stroke="#000" stroke-width="2.3"/>
<line x1="1515.8" y1="53.2" x2="1524.3" y2="53.2" stroke="#000" stroke-width="2.3"/>
<text x="1504.5" y="63.5" font-size="29" text-anchor="end">2.8</text>
<line x1="1515.8" y1="173.3" x2="1524.3" y2="173.3" stroke="#000" stroke-width="2.3"/>
<text x="1504.5" y="183.6" font-size="29" text-anchor="end">2.4</text>
<line x1="1515.8" y1="293.4" x2="1524.3" y2="293.4" stroke="#000" stroke-width="2.3"/>
<text x="1504.5" y="303.7" font-size="29" text-anchor="end">2.0</text>
<line x1="1515.8" y1="413.5" x2="1524.3" y2="413.5" stroke="#000" stroke-width="2.3"/>
<text x="1504.5" y="423.8" font-size="29" text-anchor="end">1.6</text>
<line x1="1520.5" y1="113.3" x2="1524.3" y2="113.3" stroke="#000" stroke-width="2.3"/>
<line x1="1520.5" y1="233.4" x2="1524.3" y2="233.4" stroke="#000" stroke-width="2.3"/>
<line x1="1520.5" y1="353.4" x2="1524.3" y2="353.4" stroke="#000" stroke-width="2.3"/>
<line x1="1520.5" y1="473.5" x2="1524.3" y2="473.5" stroke="#000" stroke-width="2.3"/>
<line x1="1524.1" y1="473.2" x2="1524.1" y2="481" stroke="#000" stroke-width="2.3"/>
<text x="1522.1" y="515.6" font-size="29" text-anchor="middle">0</text>
<line x1="1642.8" y1="473.2" x2="1642.8" y2="481" stroke="#000" stroke-width="2.3"/>
<text x="1642.8" y="515.6" font-size="29" text-anchor="middle">400</text>
<line x1="1761.6" y1="473.2" x2="1761.6" y2="481" stroke="#000" stroke-width="2.3"/>
<text x="1761.6" y="515.6" font-size="29" text-anchor="middle">800</text>
<line x1="1880.3" y1="473.2" x2="1880.3" y2="481" stroke="#000" stroke-width="2.3"/>
<text x="1880.3" y="515.6" font-size="29" text-anchor="middle">1200</text>
<line x1="1999.1" y1="473.2" x2="1999.1" y2="481" stroke="#000" stroke-width="2.3"/>
<text x="1999.1" y="515.6" font-size="29" text-anchor="middle">1600</text>
<line x1="1583.5" y1="473.2" x2="1583.5" y2="477.8" stroke="#000" stroke-width="2.3"/>
<line x1="1702.2" y1="473.2" x2="1702.2" y2="477.8" stroke="#000" stroke-width="2.3"/>
<line x1="1820.9" y1="473.2" x2="1820.9" y2="477.8" stroke="#000" stroke-width="2.3"/>
<line x1="1939.7" y1="473.2" x2="1939.7" y2="477.8" stroke="#000" stroke-width="2.3"/>
<text x="1443.5" y="281.7" font-size="29.2" text-anchor="middle" transform="rotate(-90 1443.5 281.7)">Voltage (V)</text>
<text x="1606.2" y="552.5" font-size="29">Specific Capacity (mAh/g)</text>
<text x="1385.5" y="20.8" font-size="28.5" font-weight="bold">b</text>
<path d="M1523.9 288.9 C1527.4 289.4 1537.4 291.3 1544.7 291.9 C1552 292.5 1558.2 292.5 1567.9 292.4 C1577.6 292.3 1589.1 292 1602.6 291.2 C1616.1 290.4 1633.5 288.8 1648.9 287.3 C1664.3 285.8 1679.8 284.1 1695.2 282 C1710.6 279.9 1728.7 277.1 1741.5 275 C1754.3 272.9 1762.6 271.3 1771.9 269.3 C1781.2 267.3 1788.7 265.6 1797.6 263.1 C1806.5 260.6 1817.6 258.1 1825.4 254.5 C1833.2 250.9 1839.6 246.3 1844.6 241.7 C1849.6 237.1 1851.7 233.5 1855.3 226.7 C1858.9 219.9 1862.1 208.9 1866 201.1 C1869.9 193.3 1873.1 187.2 1878.8 179.7 C1884.5 172.2 1893.8 163.7 1900.2 156.2 C1906.6 148.7 1911.6 142.3 1917.3 134.8 C1923 127.3 1929.1 117.2 1934.4 111.3 C1939.7 105.4 1943.6 103.1 1949.3 99.5 C1955 95.9 1962.5 92.9 1968.6 89.9 C1974.7 86.9 1982.8 82.8 1985.7 81.4" fill="none" stroke="#E8440C" stroke-width="4.2" stroke-linejoin="round" stroke-linecap="round"/>
<path d="M1523.9 97.9 C1525.1 99.2 1527 102.9 1530.8 106 C1534.6 109.1 1541.2 112.6 1547 116.4 C1552.8 120.2 1560.2 124.5 1565.6 129.1 C1571 133.7 1574.5 138.2 1579.5 144.2 C1584.5 150.2 1590.3 158.1 1595.7 165 C1601.1 171.9 1606.9 179.3 1611.9 185.9 C1616.9 192.5 1621.2 197.5 1625.8 204.4 C1630.4 211.3 1635.5 219.4 1639.7 227.5 C1643.9 235.6 1647.7 246.4 1651.2 253 C1654.7 259.6 1656.2 262.6 1660.5 266.9 C1664.8 271.1 1670.9 275.4 1676.7 278.5 C1682.5 281.6 1688.2 283.1 1695.2 285.4 C1702.2 287.7 1710.7 290.5 1718.4 292.4 C1726.1 294.3 1732.6 295.3 1741.5 297 C1750.4 298.7 1759.7 300.2 1771.9 302.6 C1784.1 305 1800.6 308.5 1814.9 311.2 C1829.2 313.9 1846.3 316.3 1857.8 318.8 C1869.2 321.3 1876.8 323.5 1883.6 326.3 C1890.4 329.1 1894.4 331.4 1898.7 335.9 C1903 340.4 1905.5 347.4 1909.4 353.1 C1913.3 358.8 1916.6 364.6 1922.3 370.3 C1928 376 1936.6 381.8 1943.8 387.5 C1951 393.2 1958.8 399 1965.3 404.7 C1971.8 410.4 1977 415.3 1982.5 421.9 C1988 428.5 1995.9 440.7 1998.6 444.5" fill="none" stroke="#E8440C" stroke-width="4.2" stroke-linejoin="round" stroke-linecap="round"/>
<path d="M1524.4 93 C1524.5 95.8 1524.3 104.8 1525 109.5 C1525.7 114.2 1526.4 117.9 1528.5 121 C1530.6 124.1 1533.2 125.3 1537.8 128 C1542.4 130.7 1549.8 133.7 1556.3 137.2 C1562.8 140.7 1571.7 145.3 1577.1 148.8 C1582.5 152.3 1584.8 153.8 1588.7 158.1 C1592.6 162.3 1596.4 167.8 1600.3 174.3 C1604.2 180.9 1608.1 188.9 1611.9 197.4 C1615.8 205.9 1618.4 215.2 1623.4 225.2 C1628.4 235.2 1635.8 249.1 1642 257.6 C1648.2 266.1 1654.7 271.2 1660.5 276.2 C1666.3 281.2 1672.1 284 1676.7 287.7 C1681.3 291.4 1685 293.7 1688.3 298.2 C1691.6 302.7 1694.6 307.5 1696.7 314.5 C1698.8 321.5 1700 329.5 1701 340.2 C1702 350.9 1702.3 365.3 1702.7 378.9 C1703.1 392.5 1703.4 410.8 1703.6 421.9 C1703.8 433 1703.6 441.6 1703.6 445.5" fill="none" stroke="#4862A6" stroke-width="4.2" stroke-linejoin="round" stroke-linecap="round"/>
<path d="M1524.2 343 C1524.2 339.2 1524.2 327.1 1524.3 320 C1524.3 312.9 1524 305.1 1524.5 300.5 C1525 295.9 1526 296.1 1527.4 292.4 C1528.9 288.7 1531.5 284.7 1533.2 278.5 C1534.9 272.3 1535.9 261.1 1537.8 255.3 C1539.7 249.5 1540.8 246.8 1544.7 243.7 C1548.6 240.6 1555.1 238.9 1560.9 236.8 C1566.7 234.7 1574.1 232.9 1579.5 231 C1584.9 229.1 1589.6 227.7 1593.4 225.2 C1597.2 222.7 1599.5 220.2 1602.6 216 C1605.7 211.8 1608.4 206 1611.9 199.8 C1615.4 193.6 1619.6 186.2 1623.4 178.9 C1627.2 171.6 1631.1 162.4 1635 155.8 C1638.9 149.2 1642.3 143.8 1646.6 139.6 C1650.8 135.3 1655.5 133.2 1660.5 130.3 C1665.5 127.4 1670.9 124.9 1676.7 122.2 C1682.5 119.5 1690.8 116.6 1695.2 114.1 C1699.6 111.6 1701.4 110.2 1703.3 107.1 C1705.2 104 1706.1 100 1706.8 95.6 C1707.5 91.2 1707.2 83 1707.3 80.5" fill="none" stroke="#4862A6" stroke-width="4.2" stroke-linejoin="round" stroke-linecap="round" stroke-linecap="butt"/>
<text x="1713.6" y="123.1" font-size="29" fill="#4862A6">TEGDME</text>
<text x="1972.8" y="124.1" font-size="29" fill="#E8440C">ES</text>
<text x="1833.8" y="446" font-size="29">2nd cycle</text>
<text x="-1" y="569.5" font-size="28.5" font-weight="bold">c</text>
<line x1="119.5" y1="812.7" x2="631" y2="812.7" stroke="#E8440C" stroke-width="1.6" stroke-dasharray="5.5 4.8"/>
<path d="M118.8 729 L121 725 L123.5 721 L125.5 720 L126.5 716 L130 715.5 L135 716 L141 717.5 L143 721 L144.5 718.5 L150 719 L160 721.5 L170 726 L180 728.5 L204 731.5 L261 741 L306 749 L333 753.5 L380 761.7 L389 764 L390.3 768 L392 765 L413.6 769.4 L460 778.4 L510 786.5 L560.7 796.5 L571 794 L573.6 801.7 L576 800 L580 801 L583.9 804.3 L590 805 L631 813.3" fill="none" stroke="#E8440C" stroke-width="5" stroke-linejoin="round" stroke-linecap="round"/>
<path d="M118.8 920 L126 922 L134.1 922.6 L142.7 921.5 L150 917.5 L155.7 915.3 L165 914.6 L170.9 914.6 L172.6 920 L174 916.5 L177.4 916.8 L200 918 L218.5 920 L225 923.3 L257.4 927.6 L259.6 924.4 L275 926.5 L276.9 932 L278 927 L300 929.5 L302.4 935 L304 930 L307.2 929.3 L320 932.5 L342.2 936.2 L389.8 940.1 L454.7 944.5 L519.6 949.2 L584.5 953.6 L631 956.8" fill="none" stroke="#4862A6" stroke-width="4.3" stroke-linejoin="round" stroke-linecap="round"/>
<g fill="none" stroke="#E8440C" stroke-width="1.4"><circle cx="119.9" cy="675.4" r="2.6"/><circle cx="121.4" cy="673.9" r="2.6"/><circle cx="122.8" cy="673" r="2.6"/><circle cx="124.2" cy="674.4" r="2.6"/><circle cx="125.6" cy="673.3" r="2.6"/><circle cx="127.1" cy="672.3" r="2.6"/><circle cx="128.5" cy="673.5" r="2.6"/><circle cx="129.9" cy="671.7" r="2.6"/><circle cx="131.3" cy="674.3" r="2.6"/><circle cx="132.8" cy="672.2" r="2.6"/><circle cx="134.2" cy="673.1" r="2.6"/><circle cx="135.6" cy="675.4" r="2.6"/><circle cx="137.1" cy="674.7" r="2.6"/><circle cx="138.5" cy="674.9" r="2.6"/><circle cx="139.9" cy="674.2" r="2.6"/><circle cx="141.3" cy="674.1" r="2.6"/><circle cx="142.8" cy="674.4" r="2.6"/><circle cx="144.2" cy="675.5" r="2.6"/><circle cx="145.6" cy="672.4" r="2.6"/><circle cx="147.1" cy="674.7" r="2.6"/><circle cx="148.5" cy="672.8" r="2.6"/><circle cx="149.9" cy="672.6" r="2.6"/><circle cx="151.3" cy="674.9" r="2.6"/><circle cx="152.8" cy="674" r="2.6"/><circle cx="154.2" cy="675" r="2.6"/><circle cx="155.6" cy="675.1" r="2.6"/><circle cx="157" cy="674" r="2.6"/><circle cx="158.5" cy="672.4" r="2.6"/><circle cx="159.9" cy="671.7" r="2.6"/><circle cx="161.3" cy="673.7" r="2.6"/><circle cx="162.8" cy="674.5" r="2.6"/><circle cx="164.2" cy="672.7" r="2.6"/><circle cx="165.6" cy="671.9" r="2.6"/><circle cx="167" cy="671.6" r="2.6"/><circle cx="168.5" cy="672.3" r="2.6"/><circle cx="169.9" cy="674.4" r="2.6"/><circle cx="171.3" cy="671.6" r="2.6"/><circle cx="172.7" cy="672.5" r="2.6"/><circle cx="174.2" cy="672.7" r="2.6"/><circle cx="175.6" cy="674.4" r="2.6"/><circle cx="177" cy="675.5" r="2.6"/><circle cx="178.5" cy="671.7" r="2.6"/><circle cx="179.9" cy="672.1" r="2.6"/><circle cx="181.3" cy="675.3" r="2.6"/><circle cx="182.7" cy="675.5" r="2.6"/><circle cx="184.2" cy="672.2" r="2.6"/><circle cx="185.6" cy="672.9" r="2.6"/><circle cx="187" cy="673.7" r="2.6"/><circle cx="188.4" cy="672.9" r="2.6"/><circle cx="189.9" cy="673.3" r="2.6"/><circle cx="191.3" cy="673.5" r="2.6"/><circle cx="192.7" cy="672.6" r="2.6"/><circle cx="194.2" cy="671.8" r="2.6"/><circle cx="195.6" cy="671.9" r="2.6"/><circle cx="197" cy="672.2" r="2.6"/><circle cx="198.4" cy="672" r="2.6"/><circle cx="199.9" cy="674.1" r="2.6"/><circle cx="201.3" cy="674.4" r="2.6"/><circle cx="202.7" cy="672.7" r="2.6"/><circle cx="204.2" cy="674.8" r="2.6"/><circle cx="205.6" cy="674.5" r="2.6"/><circle cx="207" cy="673" r="2.6"/><circle cx="208.4" cy="673.6" r="2.6"/><circle cx="209.9" cy="672.4" r="2.6"/><circle cx="211.3" cy="675.3" r="2.6"/><circle cx="212.7" cy="673.8" r="2.6"/><circle cx="214.1" cy="671.8" r="2.6"/><circle cx="215.6" cy="672.2" r="2.6"/><circle cx="217" cy="674.4" r="2.6"/><circle cx="218.4" cy="673.1" r="2.6"/><circle cx="219.9" cy="674.5" r="2.6"/><circle cx="221.3" cy="672.5" r="2.6"/><circle cx="222.7" cy="674.8" r="2.6"/><circle cx="224.1" cy="674.8" r="2.6"/><circle cx="225.6" cy="672" r="2.6"/><circle cx="227" cy="673.9" r="2.6"/><circle cx="228.4" cy="672.4" r="2.6"/><circle cx="229.8" cy="674.4" r="2.6"/><circle cx="231.3" cy="674.8" r="2.6"/><circle cx="232.7" cy="674.8" r="2.6"/><circle cx="234.1" cy="672.5" r="2.6"/><circle cx="235.6" cy="672" r="2.6"/><circle cx="237" cy="674.3" r="2.6"/><circle cx="238.4" cy="673.9" r="2.6"/><circle cx="239.8" cy="672.2" r="2.6"/><circle cx="241.3" cy="672.4" r="2.6"/><circle cx="242.7" cy="673.9" r="2.6"/><circle cx="244.1" cy="672" r="2.6"/><circle cx="245.5" cy="674.1" r="2.6"/><circle cx="247" cy="672.6" r="2.6"/><circle cx="248.4" cy="672.6" r="2.6"/><circle cx="249.8" cy="673.3" r="2.6"/><circle cx="251.3" cy="673.7" r="2.6"/><circle cx="252.7" cy="674.5" r="2.6"/><circle cx="254.1" cy="671.7" r="2.6"/><circle cx="255.5" cy="674.5" r="2.6"/><circle cx="257" cy="672.5" r="2.6"/><circle cx="258.4" cy="672.8" r="2.6"/><circle cx="259.8" cy="674.2" r="2.6"/><circle cx="261.2" cy="674.4" r="2.6"/><circle cx="262.7" cy="674.1" r="2.6"/><circle cx="264.1" cy="675.2" r="2.6"/><circle cx="265.5" cy="672.4" r="2.6"/><circle cx="267" cy="672.8" r="2.6"/><circle cx="268.4" cy="674.3" r="2.6"/><circle cx="269.8" cy="672.6" r="2.6"/><circle cx="271.2" cy="672.2" r="2.6"/><circle cx="272.7" cy="672.5" r="2.6"/><circle cx="274.1" cy="674.7" r="2.6"/><circle cx="275.5" cy="674.9" r="2.6"/><circle cx="277" cy="674.5" r="2.6"/><circle cx="278.4" cy="675.4" r="2.6"/><circle cx="279.8" cy="674.8" r="2.6"/><circle cx="281.2" cy="672.8" r="2.6"/><circle cx="282.7" cy="672.9" r="2.6"/><circle cx="284.1" cy="674.5" r="2.6"/><circle cx="285.5" cy="671.8" r="2.6"/><circle cx="286.9" cy="674" r="2.6"/><circle cx="288.4" cy="672" r="2.6"/><circle cx="289.8" cy="671.8" r="2.6"/><circle cx="291.2" cy="673.7" r="2.6"/><circle cx="292.7" cy="672.2" r="2.6"/><circle cx="294.1" cy="675.3" r="2.6"/><circle cx="295.5" cy="675.1" r="2.6"/><circle cx="296.9" cy="673.4" r="2.6"/><circle cx="298.4" cy="672.4" r="2.6"/><circle cx="299.8" cy="672.1" r="2.6"/><circle cx="301.2" cy="673.6" r="2.6"/><circle cx="302.6" cy="673.7" r="2.6"/><circle cx="304.1" cy="673.1" r="2.6"/><circle cx="305.5" cy="674.5" r="2.6"/><circle cx="306.9" cy="673.7" r="2.6"/><circle cx="308.4" cy="674.7" r="2.6"/><circle cx="309.8" cy="672" r="2.6"/><circle cx="311.2" cy="671.9" r="2.6"/><circle cx="312.6" cy="673.1" r="2.6"/><circle cx="314.1" cy="673.5" r="2.6"/><circle cx="315.5" cy="672.6" r="2.6"/><circle cx="316.9" cy="674.3" r="2.6"/><circle cx="318.4" cy="672.5" r="2.6"/><circle cx="319.8" cy="672.9" r="2.6"/><circle cx="321.2" cy="673.5" r="2.6"/><circle cx="322.6" cy="674.4" r="2.6"/><circle cx="324.1" cy="674.7" r="2.6"/><circle cx="325.5" cy="673.1" r="2.6"/><circle cx="326.9" cy="673.4" r="2.6"/><circle cx="328.3" cy="675.3" r="2.6"/><circle cx="329.8" cy="675.3" r="2.6"/><circle cx="331.2" cy="674.1" r="2.6"/><circle cx="332.6" cy="672" r="2.6"/><circle cx="334.1" cy="673.4" r="2.6"/><circle cx="335.5" cy="674.1" r="2.6"/><circle cx="336.9" cy="672.7" r="2.6"/><circle cx="338.3" cy="671.7" r="2.6"/><circle cx="339.8" cy="675.5" r="2.6"/><circle cx="341.2" cy="675.2" r="2.6"/><circle cx="342.6" cy="672.1" r="2.6"/><circle cx="344" cy="673.5" r="2.6"/><circle cx="345.5" cy="674.1" r="2.6"/><circle cx="346.9" cy="672.8" r="2.6"/><circle cx="348.3" cy="671.9" r="2.6"/><circle cx="349.8" cy="674.6" r="2.6"/><circle cx="351.2" cy="674.7" r="2.6"/><circle cx="352.6" cy="673.3" r="2.6"/><circle cx="354" cy="671.9" r="2.6"/><circle cx="355.5" cy="673.2" r="2.6"/><circle cx="356.9" cy="672" r="2.6"/><circle cx="358.3" cy="675.5" r="2.6"/><circle cx="359.7" cy="671.8" r="2.6"/><circle cx="361.2" cy="672.8" r="2.6"/><circle cx="362.6" cy="674.7" r="2.6"/><circle cx="364" cy="672.1" r="2.6"/><circle cx="365.5" cy="672" r="2.6"/><circle cx="366.9" cy="671.9" r="2.6"/><circle cx="368.3" cy="672.3" r="2.6"/><circle cx="369.7" cy="673.7" r="2.6"/><circle cx="371.2" cy="674.9" r="2.6"/><circle cx="372.6" cy="672.3" r="2.6"/><circle cx="374" cy="672.3" r="2.6"/><circle cx="375.4" cy="674.7" r="2.6"/><circle cx="376.9" cy="673.3" r="2.6"/><circle cx="378.3" cy="673" r="2.6"/><circle cx="379.7" cy="672.1" r="2.6"/><circle cx="381.2" cy="672.6" r="2.6"/><circle cx="382.6" cy="675.5" r="2.6"/><circle cx="384" cy="672.1" r="2.6"/><circle cx="385.4" cy="672.6" r="2.6"/><circle cx="386.9" cy="674.6" r="2.6"/><circle cx="388.3" cy="675.2" r="2.6"/><circle cx="389.7" cy="675.2" r="2.6"/><circle cx="391.2" cy="673.5" r="2.6"/><circle cx="392.6" cy="675.4" r="2.6"/><circle cx="394" cy="674" r="2.6"/><circle cx="395.4" cy="672.8" r="2.6"/><circle cx="396.9" cy="673.5" r="2.6"/><circle cx="398.3" cy="674.5" r="2.6"/><circle cx="399.7" cy="674.5" r="2.6"/><circle cx="401.1" cy="672.1" r="2.6"/><circle cx="402.6" cy="672.4" r="2.6"/><circle cx="404" cy="675.6" r="2.6"/><circle cx="405.4" cy="672.2" r="2.6"/><circle cx="406.9" cy="675.1" r="2.6"/><circle cx="408.3" cy="673.2" r="2.6"/><circle cx="409.7" cy="672.8" r="2.6"/><circle cx="411.1" cy="672.8" r="2.6"/><circle cx="412.6" cy="673.7" r="2.6"/><circle cx="414" cy="675.8" r="2.6"/><circle cx="415.4" cy="672.4" r="2.6"/><circle cx="416.8" cy="675.2" r="2.6"/><circle cx="418.3" cy="673.1" r="2.6"/><circle cx="419.7" cy="672.5" r="2.6"/><circle cx="421.1" cy="674.8" r="2.6"/><circle cx="422.6" cy="673.2" r="2.6"/><circle cx="424" cy="672.6" r="2.6"/><circle cx="425.4" cy="673.5" r="2.6"/><circle cx="426.8" cy="675.1" r="2.6"/><circle cx="428.3" cy="675.3" r="2.6"/><circle cx="429.7" cy="674.1" r="2.6"/><circle cx="431.1" cy="671.8" r="2.6"/><circle cx="432.6" cy="674.9" r="2.6"/><circle cx="434" cy="674.2" r="2.6"/><circle cx="435.4" cy="675.4" r="2.6"/><circle cx="436.8" cy="675.6" r="2.6"/><circle cx="438.3" cy="673.1" r="2.6"/><circle cx="439.7" cy="675.2" r="2.6"/><circle cx="441.1" cy="675.1" r="2.6"/><circle cx="442.5" cy="672.9" r="2.6"/><circle cx="444" cy="673.3" r="2.6"/><circle cx="445.4" cy="673.3" r="2.6"/><circle cx="446.8" cy="673.2" r="2.6"/><circle cx="448.3" cy="673.3" r="2.6"/><circle cx="449.7" cy="672.2" r="2.6"/><circle cx="451.1" cy="672.7" r="2.6"/><circle cx="452.5" cy="675.4" r="2.6"/><circle cx="454" cy="673.4" r="2.6"/><circle cx="455.4" cy="674.3" r="2.6"/><circle cx="456.8" cy="675.3" r="2.6"/><circle cx="458.2" cy="674.8" r="2.6"/><circle cx="459.7" cy="672.8" r="2.6"/><circle cx="461.1" cy="675.5" r="2.6"/><circle cx="462.5" cy="675" r="2.6"/><circle cx="464" cy="675.8" r="2.6"/><circle cx="465.4" cy="674.7" r="2.6"/><circle cx="466.8" cy="674.8" r="2.6"/><circle cx="468.2" cy="675.1" r="2.6"/><circle cx="469.7" cy="672.8" r="2.6"/><circle cx="471.1" cy="674.4" r="2.6"/><circle cx="472.5" cy="673.3" r="2.6"/><circle cx="473.9" cy="675.2" r="2.6"/><circle cx="475.4" cy="672.3" r="2.6"/><circle cx="476.8" cy="674" r="2.6"/><circle cx="478.2" cy="673.1" r="2.6"/><circle cx="479.7" cy="675.1" r="2.6"/><circle cx="481.1" cy="673.2" r="2.6"/><circle cx="482.5" cy="675.2" r="2.6"/><circle cx="483.9" cy="675.2" r="2.6"/><circle cx="485.4" cy="675.3" r="2.6"/><circle cx="486.8" cy="672.4" r="2.6"/><circle cx="488.2" cy="675.6" r="2.6"/><circle cx="489.6" cy="674.8" r="2.6"/><circle cx="491.1" cy="674.5" r="2.6"/><circle cx="492.5" cy="674.4" r="2.6"/><circle cx="493.9" cy="672" r="2.6"/><circle cx="495.4" cy="675.3" r="2.6"/><circle cx="496.8" cy="674" r="2.6"/><circle cx="498.2" cy="673.6" r="2.6"/><circle cx="499.6" cy="673.2" r="2.6"/><circle cx="501.1" cy="674.9" r="2.6"/><circle cx="502.5" cy="674.9" r="2.6"/><circle cx="503.9" cy="675.3" r="2.6"/><circle cx="505.4" cy="672.7" r="2.6"/><circle cx="506.8" cy="673.2" r="2.6"/><circle cx="508.2" cy="672.8" r="2.6"/><circle cx="509.6" cy="672.2" r="2.6"/><circle cx="511.1" cy="673.1" r="2.6"/><circle cx="512.5" cy="671.9" r="2.6"/><circle cx="513.9" cy="675" r="2.6"/><circle cx="515.3" cy="672.7" r="2.6"/><circle cx="516.8" cy="672.1" r="2.6"/><circle cx="518.2" cy="672.1" r="2.6"/><circle cx="519.6" cy="674.8" r="2.6"/><circle cx="521.1" cy="672.6" r="2.6"/><circle cx="522.5" cy="673.6" r="2.6"/><circle cx="523.9" cy="673.4" r="2.6"/><circle cx="525.3" cy="675" r="2.6"/><circle cx="526.8" cy="675.6" r="2.6"/><circle cx="528.2" cy="673" r="2.6"/><circle cx="529.6" cy="674.3" r="2.6"/><circle cx="531" cy="675.4" r="2.6"/><circle cx="532.5" cy="673.7" r="2.6"/><circle cx="533.9" cy="675.4" r="2.6"/><circle cx="535.3" cy="674.7" r="2.6"/><circle cx="536.8" cy="673" r="2.6"/><circle cx="538.2" cy="675.3" r="2.6"/><circle cx="539.6" cy="674.1" r="2.6"/><circle cx="541" cy="672.2" r="2.6"/><circle cx="542.5" cy="674.1" r="2.6"/><circle cx="543.9" cy="675.1" r="2.6"/><circle cx="545.3" cy="673.9" r="2.6"/><circle cx="546.8" cy="673.7" r="2.6"/><circle cx="548.2" cy="673.5" r="2.6"/><circle cx="549.6" cy="675.3" r="2.6"/><circle cx="551" cy="674.5" r="2.6"/><circle cx="552.5" cy="672.6" r="2.6"/><circle cx="553.9" cy="673.2" r="2.6"/><circle cx="555.3" cy="673.3" r="2.6"/><circle cx="556.7" cy="675.6" r="2.6"/><circle cx="558.2" cy="674.6" r="2.6"/><circle cx="559.6" cy="672.3" r="2.6"/><circle cx="561" cy="675.5" r="2.6"/><circle cx="562.5" cy="671.9" r="2.6"/><circle cx="563.9" cy="674.2" r="2.6"/><circle cx="565.3" cy="673.5" r="2.6"/><circle cx="566.7" cy="674.7" r="2.6"/><circle cx="568.2" cy="673.5" r="2.6"/><circle cx="569.6" cy="672.2" r="2.6"/><circle cx="571" cy="673.9" r="2.6"/><circle cx="572.4" cy="675.1" r="2.6"/><circle cx="573.9" cy="675" r="2.6"/><circle cx="575.3" cy="673.2" r="2.6"/><circle cx="576.7" cy="672.7" r="2.6"/><circle cx="578.2" cy="674.8" r="2.6"/><circle cx="579.6" cy="675" r="2.6"/><circle cx="581" cy="672.7" r="2.6"/><circle cx="582.4" cy="675.3" r="2.6"/><circle cx="583.9" cy="675.8" r="2.6"/><circle cx="585.3" cy="673.5" r="2.6"/><circle cx="586.7" cy="673.3" r="2.6"/><circle cx="588.1" cy="674.6" r="2.6"/><circle cx="589.6" cy="675.5" r="2.6"/><circle cx="591" cy="672.6" r="2.6"/><circle cx="592.4" cy="673" r="2.6"/><circle cx="593.9" cy="673.1" r="2.6"/><circle cx="595.3" cy="674.7" r="2.6"/><circle cx="596.7" cy="672.5" r="2.6"/><circle cx="598.1" cy="674" r="2.6"/><circle cx="599.6" cy="673.8" r="2.6"/><circle cx="601" cy="674.5" r="2.6"/><circle cx="602.4" cy="672.4" r="2.6"/><circle cx="603.9" cy="675.6" r="2.6"/><circle cx="605.3" cy="675.8" r="2.6"/><circle cx="606.7" cy="674" r="2.6"/><circle cx="608.1" cy="675" r="2.6"/><circle cx="609.6" cy="672.5" r="2.6"/><circle cx="611" cy="675.4" r="2.6"/><circle cx="612.4" cy="674" r="2.6"/><circle cx="613.8" cy="674.8" r="2.6"/><circle cx="615.3" cy="675.3" r="2.6"/><circle cx="616.7" cy="673.2" r="2.6"/><circle cx="618.1" cy="675.5" r="2.6"/><circle cx="619.6" cy="672.6" r="2.6"/><circle cx="621" cy="671.9" r="2.6"/><circle cx="622.4" cy="673.8" r="2.6"/><circle cx="623.8" cy="675.4" r="2.6"/><circle cx="625.3" cy="675.4" r="2.6"/><circle cx="626.7" cy="675.6" r="2.6"/><circle cx="628.1" cy="673.8" r="2.6"/><circle cx="629.5" cy="675.5" r="2.6"/><circle cx="631" cy="674" r="2.6"/><circle cx="632.4" cy="672.4" r="2.6"/><circle cx="121.4" cy="641.5" r="2.6"/><circle cx="121.6" cy="668" r="2.6"/><circle cx="159.9" cy="636.2" r="2.6"/><circle cx="143.3" cy="695.5" r="2.6"/><circle cx="144.6" cy="694.6" r="2.6"/><circle cx="150.3" cy="668" r="2.6"/><circle cx="281.2" cy="667.2" r="2.6"/><circle cx="282.3" cy="678.4" r="2.6"/><circle cx="310.8" cy="688.6" r="2.6"/><circle cx="312.1" cy="681.4" r="2.6"/><circle cx="356.1" cy="679.5" r="2.6"/><circle cx="366.4" cy="678.9" r="2.6"/><circle cx="373.5" cy="677.9" r="2.6"/><circle cx="390.6" cy="646.9" r="2.6"/><circle cx="392" cy="657.2" r="2.6"/><circle cx="393.5" cy="664.7" r="2.6"/><circle cx="414.9" cy="652.4" r="2.6"/><circle cx="413.4" cy="692.8" r="2.6"/><circle cx="389.2" cy="741.8" r="2.6"/><circle cx="459" cy="687.5" r="2.6"/><circle cx="460.4" cy="687.1" r="2.6"/><circle cx="571.3" cy="613.7" r="2.6"/><circle cx="573" cy="697" r="2.6"/><circle cx="574.1" cy="734" r="2.6"/><circle cx="582.9" cy="710.9" r="2.6"/><circle cx="584.9" cy="664.3" r="2.6"/><circle cx="590.5" cy="676" r="2.6"/><circle cx="596" cy="679" r="2.6"/><circle cx="601" cy="678.5" r="2.6"/><circle cx="612" cy="679" r="2.6"/><circle cx="616.5" cy="676.5" r="2.6"/><circle cx="535" cy="676.5" r="2.6"/><circle cx="520" cy="676" r="2.6"/></g>
<g fill="none" stroke="#4862A6" stroke-width="1.4"><circle cx="119.9" cy="678.5" r="2.6"/><circle cx="121.4" cy="679.2" r="2.6"/><circle cx="122.8" cy="677.7" r="2.6"/><circle cx="124.2" cy="678.4" r="2.6"/><circle cx="125.6" cy="677" r="2.6"/><circle cx="127.1" cy="683.1" r="2.6"/><circle cx="128.5" cy="681.1" r="2.6"/><circle cx="129.9" cy="678.8" r="2.6"/><circle cx="131.3" cy="676.1" r="2.6"/><circle cx="132.8" cy="671.9" r="2.6"/><circle cx="134.2" cy="669" r="2.6"/><circle cx="135.6" cy="667.7" r="2.6"/><circle cx="137.1" cy="666.6" r="2.6"/><circle cx="138.5" cy="664.1" r="2.6"/><circle cx="139.9" cy="659.5" r="2.6"/><circle cx="141.3" cy="657" r="2.6"/><circle cx="142.8" cy="655.4" r="2.6"/><circle cx="144.2" cy="651.4" r="2.6"/><circle cx="145.6" cy="650.5" r="2.6"/><circle cx="147.1" cy="649.1" r="2.6"/><circle cx="148.5" cy="648.3" r="2.6"/><circle cx="149.9" cy="651.8" r="2.6"/><circle cx="151.3" cy="654.4" r="2.6"/><circle cx="152.8" cy="656.5" r="2.6"/><circle cx="154.2" cy="658.3" r="2.6"/><circle cx="155.6" cy="659.8" r="2.6"/><circle cx="157" cy="659.4" r="2.6"/><circle cx="158.5" cy="663.1" r="2.6"/><circle cx="159.9" cy="664.8" r="2.6"/><circle cx="161.3" cy="662.8" r="2.6"/><circle cx="162.8" cy="667.7" r="2.6"/><circle cx="164.2" cy="667.1" r="2.6"/><circle cx="165.6" cy="667.1" r="2.6"/><circle cx="167" cy="668.5" r="2.6"/><circle cx="168.5" cy="672.8" r="2.6"/><circle cx="169.9" cy="673.7" r="2.6"/><circle cx="171.3" cy="671.6" r="2.6"/><circle cx="172.7" cy="672.8" r="2.6"/><circle cx="174.2" cy="673.6" r="2.6"/><circle cx="175.6" cy="675" r="2.6"/><circle cx="177" cy="672.3" r="2.6"/><circle cx="178.5" cy="674.1" r="2.6"/><circle cx="179.9" cy="672" r="2.6"/><circle cx="181.3" cy="671.8" r="2.6"/><circle cx="182.7" cy="671.6" r="2.6"/><circle cx="184.2" cy="672.6" r="2.6"/><circle cx="185.6" cy="673.5" r="2.6"/><circle cx="187" cy="672.2" r="2.6"/><circle cx="188.4" cy="671.6" r="2.6"/><circle cx="189.9" cy="671.9" r="2.6"/><circle cx="191.3" cy="671.3" r="2.6"/><circle cx="192.7" cy="671.8" r="2.6"/><circle cx="194.2" cy="672.3" r="2.6"/><circle cx="195.6" cy="673" r="2.6"/><circle cx="197" cy="671.7" r="2.6"/><circle cx="198.4" cy="672.9" r="2.6"/><circle cx="199.9" cy="672.8" r="2.6"/><circle cx="201.3" cy="674.9" r="2.6"/><circle cx="202.7" cy="672.9" r="2.6"/><circle cx="204.2" cy="674.8" r="2.6"/><circle cx="205.6" cy="672.9" r="2.6"/><circle cx="207" cy="671.8" r="2.6"/><circle cx="208.4" cy="673.4" r="2.6"/><circle cx="209.9" cy="671.6" r="2.6"/><circle cx="211.3" cy="671.7" r="2.6"/><circle cx="212.7" cy="671.3" r="2.6"/><circle cx="214.1" cy="673.8" r="2.6"/><circle cx="215.6" cy="674.9" r="2.6"/><circle cx="217" cy="672.6" r="2.6"/><circle cx="218.4" cy="672.4" r="2.6"/><circle cx="219.9" cy="672.7" r="2.6"/><circle cx="221.3" cy="672.4" r="2.6"/><circle cx="222.7" cy="673.8" r="2.6"/><circle cx="224.1" cy="672.6" r="2.6"/><circle cx="225.6" cy="671.6" r="2.6"/><circle cx="227" cy="674.5" r="2.6"/><circle cx="228.4" cy="673.3" r="2.6"/><circle cx="229.8" cy="671" r="2.6"/><circle cx="231.3" cy="674.4" r="2.6"/><circle cx="232.7" cy="673.9" r="2.6"/><circle cx="234.1" cy="672.4" r="2.6"/><circle cx="235.6" cy="673.5" r="2.6"/><circle cx="237" cy="674.7" r="2.6"/><circle cx="238.4" cy="672.6" r="2.6"/><circle cx="239.8" cy="672.7" r="2.6"/><circle cx="241.3" cy="672.2" r="2.6"/><circle cx="242.7" cy="673.2" r="2.6"/><circle cx="244.1" cy="673.7" r="2.6"/><circle cx="245.5" cy="673.9" r="2.6"/><circle cx="247" cy="674.8" r="2.6"/><circle cx="248.4" cy="671.6" r="2.6"/><circle cx="249.8" cy="672.5" r="2.6"/><circle cx="251.3" cy="674.4" r="2.6"/><circle cx="252.7" cy="674.2" r="2.6"/><circle cx="254.1" cy="673.4" r="2.6"/><circle cx="255.5" cy="673.7" r="2.6"/><circle cx="257" cy="672.4" r="2.6"/><circle cx="258.4" cy="674.8" r="2.6"/><circle cx="259.8" cy="673.2" r="2.6"/><circle cx="261.2" cy="672.6" r="2.6"/><circle cx="262.7" cy="671.7" r="2.6"/><circle cx="264.1" cy="671.5" r="2.6"/><circle cx="265.5" cy="674.6" r="2.6"/><circle cx="267" cy="674.2" r="2.6"/><circle cx="268.4" cy="671.1" r="2.6"/><circle cx="269.8" cy="672.3" r="2.6"/><circle cx="271.2" cy="672.9" r="2.6"/><circle cx="272.7" cy="673" r="2.6"/><circle cx="274.1" cy="672.5" r="2.6"/><circle cx="275.5" cy="674.6" r="2.6"/><circle cx="277" cy="672.4" r="2.6"/><circle cx="278.4" cy="673.1" r="2.6"/><circle cx="279.8" cy="674.7" r="2.6"/><circle cx="281.2" cy="673.6" r="2.6"/><circle cx="282.7" cy="672.9" r="2.6"/><circle cx="284.1" cy="672.3" r="2.6"/><circle cx="285.5" cy="672.5" r="2.6"/><circle cx="286.9" cy="673.4" r="2.6"/><circle cx="288.4" cy="674.1" r="2.6"/><circle cx="289.8" cy="672" r="2.6"/><circle cx="291.2" cy="672.5" r="2.6"/><circle cx="292.7" cy="672.6" r="2.6"/><circle cx="294.1" cy="672.5" r="2.6"/><circle cx="295.5" cy="674.7" r="2.6"/><circle cx="296.9" cy="673.2" r="2.6"/><circle cx="298.4" cy="672.1" r="2.6"/><circle cx="299.8" cy="672.3" r="2.6"/><circle cx="301.2" cy="674.3" r="2.6"/><circle cx="302.6" cy="671.6" r="2.6"/><circle cx="304.1" cy="673.8" r="2.6"/><circle cx="305.5" cy="671.1" r="2.6"/><circle cx="306.9" cy="671.8" r="2.6"/><circle cx="308.4" cy="671.2" r="2.6"/><circle cx="309.8" cy="674.2" r="2.6"/><circle cx="311.2" cy="673.6" r="2.6"/><circle cx="312.6" cy="673.9" r="2.6"/><circle cx="314.1" cy="673.2" r="2.6"/><circle cx="315.5" cy="674.1" r="2.6"/><circle cx="316.9" cy="675.9" r="2.6"/><circle cx="318.4" cy="675.9" r="2.6"/><circle cx="319.8" cy="676.6" r="2.6"/><circle cx="321.2" cy="676.8" r="2.6"/><circle cx="322.6" cy="675.2" r="2.6"/><circle cx="324.1" cy="676.7" r="2.6"/><circle cx="325.5" cy="673.4" r="2.6"/><circle cx="326.9" cy="676.7" r="2.6"/><circle cx="328.3" cy="674.7" r="2.6"/><circle cx="329.8" cy="673.8" r="2.6"/><circle cx="331.2" cy="676" r="2.6"/><circle cx="332.6" cy="674.4" r="2.6"/><circle cx="334.1" cy="672.5" r="2.6"/><circle cx="335.5" cy="671.3" r="2.6"/><circle cx="336.9" cy="674.3" r="2.6"/><circle cx="338.3" cy="673.8" r="2.6"/><circle cx="339.8" cy="673.1" r="2.6"/><circle cx="341.2" cy="674.6" r="2.6"/><circle cx="342.6" cy="670.8" r="2.6"/><circle cx="344" cy="670.8" r="2.6"/><circle cx="345.5" cy="671" r="2.6"/><circle cx="346.9" cy="670.6" r="2.6"/><circle cx="348.3" cy="673.3" r="2.6"/><circle cx="349.8" cy="672.9" r="2.6"/><circle cx="351.2" cy="670.8" r="2.6"/><circle cx="352.6" cy="670.9" r="2.6"/><circle cx="354" cy="671" r="2.6"/><circle cx="355.5" cy="672.6" r="2.6"/><circle cx="356.9" cy="672.8" r="2.6"/><circle cx="358.3" cy="674" r="2.6"/><circle cx="359.7" cy="671.5" r="2.6"/><circle cx="361.2" cy="673.9" r="2.6"/><circle cx="362.6" cy="671.7" r="2.6"/><circle cx="364" cy="671.5" r="2.6"/><circle cx="365.5" cy="670.9" r="2.6"/><circle cx="366.9" cy="670.7" r="2.6"/><circle cx="368.3" cy="673.6" r="2.6"/><circle cx="369.7" cy="673.7" r="2.6"/><circle cx="371.2" cy="672.5" r="2.6"/><circle cx="372.6" cy="670.3" r="2.6"/><circle cx="374" cy="670.3" r="2.6"/><circle cx="375.4" cy="670.1" r="2.6"/><circle cx="376.9" cy="670.9" r="2.6"/><circle cx="378.3" cy="672.3" r="2.6"/><circle cx="379.7" cy="669.6" r="2.6"/><circle cx="381.2" cy="671.4" r="2.6"/><circle cx="382.6" cy="672" r="2.6"/><circle cx="384" cy="669.3" r="2.6"/><circle cx="385.4" cy="670.9" r="2.6"/><circle cx="386.9" cy="672.3" r="2.6"/><circle cx="388.3" cy="671.4" r="2.6"/><circle cx="389.7" cy="670.8" r="2.6"/><circle cx="391.2" cy="672.5" r="2.6"/><circle cx="392.6" cy="671.3" r="2.6"/><circle cx="394" cy="670.2" r="2.6"/><circle cx="395.4" cy="670.4" r="2.6"/><circle cx="396.9" cy="672.5" r="2.6"/><circle cx="398.3" cy="672.1" r="2.6"/><circle cx="399.7" cy="672.3" r="2.6"/><circle cx="401.1" cy="670.8" r="2.6"/><circle cx="402.6" cy="669.1" r="2.6"/><circle cx="404" cy="669.3" r="2.6"/><circle cx="405.4" cy="670.1" r="2.6"/><circle cx="406.9" cy="671.4" r="2.6"/><circle cx="408.3" cy="668.6" r="2.6"/><circle cx="409.7" cy="671.8" r="2.6"/><circle cx="411.1" cy="671.7" r="2.6"/><circle cx="412.6" cy="670.7" r="2.6"/><circle cx="414" cy="668.6" r="2.6"/><circle cx="415.4" cy="671.8" r="2.6"/><circle cx="416.8" cy="670.3" r="2.6"/><circle cx="418.3" cy="671.3" r="2.6"/><circle cx="419.7" cy="670.9" r="2.6"/><circle cx="421.1" cy="671.5" r="2.6"/><circle cx="422.6" cy="670.2" r="2.6"/><circle cx="424" cy="672.4" r="2.6"/><circle cx="425.4" cy="672.4" r="2.6"/><circle cx="426.8" cy="672.3" r="2.6"/><circle cx="428.3" cy="671.1" r="2.6"/><circle cx="429.7" cy="669.9" r="2.6"/><circle cx="431.1" cy="670.1" r="2.6"/><circle cx="432.6" cy="669.7" r="2.6"/><circle cx="434" cy="672.2" r="2.6"/><circle cx="435.4" cy="671.8" r="2.6"/><circle cx="436.8" cy="671.8" r="2.6"/><circle cx="438.3" cy="671.9" r="2.6"/><circle cx="439.7" cy="672.6" r="2.6"/><circle cx="441.1" cy="671.4" r="2.6"/><circle cx="442.5" cy="669.9" r="2.6"/><circle cx="444" cy="671.6" r="2.6"/><circle cx="445.4" cy="669.6" r="2.6"/><circle cx="446.8" cy="671" r="2.6"/><circle cx="448.3" cy="669.2" r="2.6"/><circle cx="449.7" cy="672" r="2.6"/><circle cx="451.1" cy="670.6" r="2.6"/><circle cx="452.5" cy="669.7" r="2.6"/><circle cx="454" cy="672.3" r="2.6"/><circle cx="455.4" cy="668.9" r="2.6"/><circle cx="456.8" cy="672.3" r="2.6"/><circle cx="458.2" cy="671.6" r="2.6"/><circle cx="459.7" cy="669.2" r="2.6"/><circle cx="461.1" cy="671.6" r="2.6"/><circle cx="462.5" cy="670.9" r="2.6"/><circle cx="464" cy="672.2" r="2.6"/><circle cx="465.4" cy="670.9" r="2.6"/><circle cx="466.8" cy="670.3" r="2.6"/><circle cx="468.2" cy="672.3" r="2.6"/><circle cx="469.7" cy="668.9" r="2.6"/><circle cx="471.1" cy="671.7" r="2.6"/><circle cx="472.5" cy="669" r="2.6"/><circle cx="473.9" cy="669.7" r="2.6"/><circle cx="475.4" cy="669.1" r="2.6"/><circle cx="476.8" cy="672.1" r="2.6"/><circle cx="478.2" cy="670.4" r="2.6"/><circle cx="479.7" cy="671.5" r="2.6"/><circle cx="481.1" cy="669.6" r="2.6"/><circle cx="482.5" cy="671.5" r="2.6"/><circle cx="483.9" cy="671.2" r="2.6"/><circle cx="485.4" cy="669" r="2.6"/><circle cx="486.8" cy="670.6" r="2.6"/><circle cx="488.2" cy="671.5" r="2.6"/><circle cx="489.6" cy="669.5" r="2.6"/><circle cx="491.1" cy="671.2" r="2.6"/><circle cx="492.5" cy="669.7" r="2.6"/><circle cx="493.9" cy="670.1" r="2.6"/><circle cx="495.4" cy="672.3" r="2.6"/><circle cx="496.8" cy="672.4" r="2.6"/><circle cx="498.2" cy="672.6" r="2.6"/><circle cx="499.6" cy="670.3" r="2.6"/><circle cx="501.1" cy="670.9" r="2.6"/><circle cx="502.5" cy="671.8" r="2.6"/><circle cx="503.9" cy="671.6" r="2.6"/><circle cx="505.4" cy="670.4" r="2.6"/><circle cx="506.8" cy="672.1" r="2.6"/><circle cx="508.2" cy="670.2" r="2.6"/><circle cx="509.6" cy="672.4" r="2.6"/><circle cx="511.1" cy="670.5" r="2.6"/><circle cx="512.5" cy="669.1" r="2.6"/><circle cx="513.9" cy="671.6" r="2.6"/><circle cx="515.3" cy="669.2" r="2.6"/><circle cx="516.8" cy="671.3" r="2.6"/><circle cx="518.2" cy="668.8" r="2.6"/><circle cx="519.6" cy="672.6" r="2.6"/><circle cx="521.1" cy="670.8" r="2.6"/><circle cx="522.5" cy="671.6" r="2.6"/><circle cx="523.9" cy="669.1" r="2.6"/><circle cx="525.3" cy="671.1" r="2.6"/><circle cx="526.8" cy="670.1" r="2.6"/><circle cx="528.2" cy="669.6" r="2.6"/><circle cx="529.6" cy="671.9" r="2.6"/><circle cx="531" cy="668.7" r="2.6"/><circle cx="532.5" cy="670.5" r="2.6"/><circle cx="533.9" cy="668.9" r="2.6"/><circle cx="535.3" cy="672" r="2.6"/><circle cx="536.8" cy="672.2" r="2.6"/><circle cx="538.2" cy="668.7" r="2.6"/><circle cx="539.6" cy="670.5" r="2.6"/><circle cx="541" cy="670.5" r="2.6"/><circle cx="542.5" cy="671.5" r="2.6"/><circle cx="543.9" cy="671.5" r="2.6"/><circle cx="545.3" cy="670" r="2.6"/><circle cx="546.8" cy="672.3" r="2.6"/><circle cx="548.2" cy="669.3" r="2.6"/><circle cx="549.6" cy="669.1" r="2.6"/><circle cx="551" cy="671.9" r="2.6"/><circle cx="552.5" cy="669.1" r="2.6"/><circle cx="553.9" cy="669.3" r="2.6"/><circle cx="555.3" cy="670.6" r="2.6"/><circle cx="556.7" cy="669.9" r="2.6"/><circle cx="558.2" cy="669.3" r="2.6"/><circle cx="559.6" cy="672.3" r="2.6"/><circle cx="561" cy="670.5" r="2.6"/><circle cx="562.5" cy="671.7" r="2.6"/><circle cx="563.9" cy="669.6" r="2.6"/><circle cx="565.3" cy="672.3" r="2.6"/><circle cx="566.7" cy="669.5" r="2.6"/><circle cx="568.2" cy="672.2" r="2.6"/><circle cx="569.6" cy="671.1" r="2.6"/><circle cx="571" cy="672.5" r="2.6"/><circle cx="572.4" cy="671.7" r="2.6"/><circle cx="573.9" cy="671.1" r="2.6"/><circle cx="575.3" cy="670.7" r="2.6"/><circle cx="576.7" cy="672" r="2.6"/><circle cx="578.2" cy="670.4" r="2.6"/><circle cx="579.6" cy="669" r="2.6"/><circle cx="581" cy="672.3" r="2.6"/><circle cx="582.4" cy="671.8" r="2.6"/><circle cx="583.9" cy="671.3" r="2.6"/><circle cx="585.3" cy="671.6" r="2.6"/><circle cx="586.7" cy="669.5" r="2.6"/><circle cx="588.1" cy="670.5" r="2.6"/><circle cx="589.6" cy="671.9" r="2.6"/><circle cx="591" cy="672.4" r="2.6"/><circle cx="592.4" cy="672.3" r="2.6"/><circle cx="593.9" cy="669.2" r="2.6"/><circle cx="595.3" cy="671.3" r="2.6"/><circle cx="596.7" cy="670.8" r="2.6"/><circle cx="598.1" cy="670.2" r="2.6"/><circle cx="599.6" cy="669.3" r="2.6"/><circle cx="601" cy="669.1" r="2.6"/><circle cx="602.4" cy="670.5" r="2.6"/><circle cx="603.9" cy="670.6" r="2.6"/><circle cx="605.3" cy="669.7" r="2.6"/><circle cx="606.7" cy="670.1" r="2.6"/><circle cx="608.1" cy="670.8" r="2.6"/><circle cx="609.6" cy="671.6" r="2.6"/><circle cx="611" cy="671" r="2.6"/><circle cx="612.4" cy="669.2" r="2.6"/><circle cx="613.8" cy="672.1" r="2.6"/><circle cx="615.3" cy="670.1" r="2.6"/><circle cx="616.7" cy="672.4" r="2.6"/><circle cx="618.1" cy="672.5" r="2.6"/><circle cx="619.6" cy="669.2" r="2.6"/><circle cx="621" cy="670.9" r="2.6"/><circle cx="622.4" cy="672.5" r="2.6"/><circle cx="623.8" cy="670.1" r="2.6"/><circle cx="625.3" cy="670.8" r="2.6"/><circle cx="626.7" cy="669.9" r="2.6"/><circle cx="628.1" cy="668.7" r="2.6"/><circle cx="629.5" cy="669.4" r="2.6"/><circle cx="631" cy="669.1" r="2.6"/><circle cx="632.4" cy="669.7" r="2.6"/><circle cx="633.8" cy="671.1" r="2.6"/><circle cx="120" cy="736.9" r="2.6"/><circle cx="121.4" cy="678.4" r="2.6"/><circle cx="124.1" cy="689.6" r="2.6"/><circle cx="125.8" cy="689" r="2.6"/><circle cx="127.3" cy="683.7" r="2.6"/><circle cx="224" cy="692.3" r="2.6"/><circle cx="225.6" cy="667.7" r="2.6"/><circle cx="262.4" cy="666.1" r="2.6"/><circle cx="279.7" cy="655.1" r="2.6"/><circle cx="305.1" cy="626.9" r="2.6"/><circle cx="306.7" cy="664.5" r="2.6"/><circle cx="343.6" cy="668.3" r="2.6"/><circle cx="346.5" cy="650.1" r="2.6"/><circle cx="175.4" cy="662.4" r="2.6"/><circle cx="172.6" cy="807.8" r="2.6"/><circle cx="259.4" cy="757.5" r="2.6"/><circle cx="276" cy="873" r="2.6"/><circle cx="302" cy="861.2" r="2.6"/></g>
<rect x="118.5" y="611.2" width="513.5" height="425.4" fill="none" stroke="#000" stroke-width="2.6"/>
<line x1="110.3" y1="1035.9" x2="118.5" y2="1035.9" stroke="#000" stroke-width="2.6"/>
<text x="97" y="1046.2" font-size="29" text-anchor="end">0</text>
<line x1="110.3" y1="939.5" x2="118.5" y2="939.5" stroke="#000" stroke-width="2.6"/>
<text x="97" y="949.8" font-size="29" text-anchor="end">500</text>
<line x1="110.3" y1="843.1" x2="118.5" y2="843.1" stroke="#000" stroke-width="2.6"/>
<text x="97" y="853.4" font-size="29" text-anchor="end">1000</text>
<line x1="110.3" y1="746.8" x2="118.5" y2="746.8" stroke="#000" stroke-width="2.6"/>
<text x="97" y="757.1" font-size="29" text-anchor="end">1500</text>
<line x1="110.3" y1="650.4" x2="118.5" y2="650.4" stroke="#000" stroke-width="2.6"/>
<text x="97" y="660.7" font-size="29" text-anchor="end">2000</text>
<line x1="114.8" y1="987.7" x2="118.5" y2="987.7" stroke="#000" stroke-width="2.6"/>
<line x1="114.8" y1="891.3" x2="118.5" y2="891.3" stroke="#000" stroke-width="2.6"/>
<line x1="114.8" y1="795" x2="118.5" y2="795" stroke="#000" stroke-width="2.6"/>
<line x1="114.8" y1="698.6" x2="118.5" y2="698.6" stroke="#000" stroke-width="2.6"/>
<line x1="632" y1="671.7" x2="640.5" y2="671.7" stroke="#000" stroke-width="2.6"/>
<text x="641.3" y="682" font-size="29">100</text>
<line x1="632" y1="823.2" x2="640.5" y2="823.2" stroke="#000" stroke-width="2.6"/>
<text x="641.3" y="833.5" font-size="29">95</text>
<line x1="632" y1="974.7" x2="640.5" y2="974.7" stroke="#000" stroke-width="2.6"/>
<text x="641.3" y="985" font-size="29">90</text>
<line x1="632" y1="747.5" x2="636.3" y2="747.5" stroke="#000" stroke-width="2.6"/>
<line x1="632" y1="899" x2="636.3" y2="899" stroke="#000" stroke-width="2.6"/>
<line x1="118.5" y1="1036.6" x2="118.5" y2="1044.6" stroke="#000" stroke-width="2.6"/>
<text x="119" y="1076" font-size="29" text-anchor="middle">0</text>
<line x1="261.2" y1="1036.6" x2="261.2" y2="1044.6" stroke="#000" stroke-width="2.6"/>
<text x="258.6" y="1076" font-size="29" text-anchor="middle">100</text>
<line x1="404" y1="1036.6" x2="404" y2="1044.6" stroke="#000" stroke-width="2.6"/>
<text x="401.8" y="1076" font-size="29" text-anchor="middle">200</text>
<line x1="546.8" y1="1036.6" x2="546.8" y2="1044.6" stroke="#000" stroke-width="2.6"/>
<text x="543.2" y="1076" font-size="29" text-anchor="middle">300</text>
<line x1="189.9" y1="1036.6" x2="189.9" y2="1041.2" stroke="#000" stroke-width="2.6"/>
<line x1="332.6" y1="1036.6" x2="332.6" y2="1041.2" stroke="#000" stroke-width="2.6"/>
<line x1="475.4" y1="1036.6" x2="475.4" y2="1041.2" stroke="#000" stroke-width="2.6"/>
<line x1="618.1" y1="1036.6" x2="618.1" y2="1041.2" stroke="#000" stroke-width="2.6"/>
<text x="273.2" y="1115.8" font-size="29">Cycle Number</text>
<text x="34" y="860" font-size="29" text-anchor="middle" transform="rotate(-90 34 860)">Specific Capacity (mAh/g)</text>
<text x="705.3" y="842.2" font-size="29" text-anchor="middle" transform="rotate(-90 705.3 842.2)">Coloumbic Efficiency (%)</text>
<text x="130.8" y="972.6" font-size="29" fill="#4862A6">TEGDME</text>
<text x="567.5" y="783.6" font-size="29" fill="#E8440C">ES</text>
<text x="555.8" y="858.5" font-size="29" fill="#E8440C">70%</text>
<text x="737.5" y="572.7" font-size="28.5" font-weight="bold">d</text>
<path d="M898.1 1024.3 C899.4 1024.1 902.1 1024.8 905.7 1023.3 C909.4 1021.8 914.9 1017.9 920 1015 C925.1 1012.1 931.2 1008.6 936.2 1006.2 C941.2 1003.8 945.2 1002.1 950 1000.5 C954.8 998.9 959.9 997.7 964.7 996.6 C969.5 995.5 974.2 994.5 979 993.8 C983.8 993.1 989 992.8 993.3 992.4 C997.6 992 1001.2 991.7 1005 991.6 C1008.8 991.5 1012.4 991.6 1016.2 991.9 C1020 992.2 1023.9 992.7 1028 993.5 C1032.1 994.3 1036.4 995.3 1040.9 996.6 C1045.4 997.9 1050.2 999.6 1055 1001.5 C1059.8 1003.4 1064.7 1005.7 1069.5 1008.1 C1074.3 1010.5 1079.2 1013.1 1084 1016 C1088.8 1018.9 1093.7 1022.4 1098 1025.2 C1102.3 1028 1106.2 1030.5 1110 1033 C1113.8 1035.5 1118.6 1039.5 1120.9 1040.4 C1123.2 1041.3 1123 1039.3 1124 1038.5 C1125 1037.7 1126.5 1036.2 1127 1035.7" fill="none" stroke="#E8440C" stroke-width="4.0" stroke-linejoin="round" stroke-linecap="round"/>
<path d="M898.1 1026.2 C899.2 1025.9 901.8 1025.6 905 1024.5 C908.2 1023.4 912.9 1021.5 917.1 1019.5 C921.3 1017.5 925.2 1014.7 930 1012.5 C934.8 1010.3 940.7 1007.9 945.7 1006.2 C950.7 1004.5 955.2 1003.5 960 1002.5 C964.8 1001.5 969.6 1000.9 974.3 1000.4 C979 999.9 983.2 999.6 988 999.5 C992.8 999.4 998 999.3 1002.8 999.5 C1007.6 999.7 1012.2 1000 1017 1000.5 C1021.8 1001 1026.6 1001.7 1031.4 1002.4 C1036.2 1003.1 1041.2 1003.7 1046 1004.5 C1050.8 1005.3 1055.5 1006.2 1060 1007.1 C1064.5 1008 1068.9 1008.9 1073 1010 C1077.1 1011.1 1081 1012.3 1084.7 1013.8 C1088.4 1015.3 1091.8 1017.1 1095 1019 C1098.2 1020.9 1100.8 1023 1103.8 1025.2 C1106.8 1027.5 1109.8 1030 1113 1032.5 C1116.2 1035 1120.6 1039.4 1122.8 1040.4 C1125 1041.4 1125 1039.3 1126 1038.5 C1127 1037.7 1128.5 1036.2 1129 1035.7" fill="none" stroke="#4862A6" stroke-width="2.6" stroke-linejoin="round" stroke-linecap="round"/>
<line x1="949.5" y1="924.3" x2="987.5" y2="992.6" stroke="#4862A6" stroke-width="2.6"/>
<path d="M990.9 998.7 L981.2 991.5 L987.3 992.1 L989.9 986.7Z" fill="#4862A6"/>
<line x1="1021.9" y1="902.4" x2="1002.2" y2="980.8" stroke="#E8440C" stroke-width="2.6"/>
<path d="M1000.5 987.6 L998.3 975.7 L1002.3 980.3 L1008 978.1Z" fill="#E8440C"/>
<rect x="865.3" y="611.5" width="503.9" height="431.4" fill="none" stroke="#000" stroke-width="2.4"/>
<line x1="857.6" y1="1042.7" x2="865.3" y2="1042.7" stroke="#000" stroke-width="2.4"/>
<text x="844.5" y="1052.7" font-size="29" text-anchor="end">0</text>
<line x1="865.3" y1="1042.9" x2="865.3" y2="1051.2" stroke="#000" stroke-width="2.4"/>
<text x="864.3" y="1083.4" font-size="29" text-anchor="middle">0</text>
<line x1="857.6" y1="899" x2="865.3" y2="899" stroke="#000" stroke-width="2.4"/>
<text x="844.5" y="909" font-size="29" text-anchor="end">200</text>
<line x1="1033.2" y1="1042.9" x2="1033.2" y2="1051.2" stroke="#000" stroke-width="2.4"/>
<text x="1029.8" y="1083.4" font-size="29" text-anchor="middle">200</text>
<line x1="857.6" y1="755.2" x2="865.3" y2="755.2" stroke="#000" stroke-width="2.4"/>
<text x="844.5" y="765.2" font-size="29" text-anchor="end">400</text>
<line x1="1201" y1="1042.9" x2="1201" y2="1051.2" stroke="#000" stroke-width="2.4"/>
<text x="1197.6" y="1083.4" font-size="29" text-anchor="middle">400</text>
<line x1="857.6" y1="611.5" x2="865.3" y2="611.5" stroke="#000" stroke-width="2.4"/>
<text x="844.5" y="621.5" font-size="29" text-anchor="end">600</text>
<line x1="1368.9" y1="1042.9" x2="1368.9" y2="1051.2" stroke="#000" stroke-width="2.4"/>
<text x="1365.5" y="1083.4" font-size="29" text-anchor="middle">600</text>
<line x1="861.7" y1="970.8" x2="865.3" y2="970.8" stroke="#000" stroke-width="2.4"/>
<line x1="949.2" y1="1042.9" x2="949.2" y2="1047.8" stroke="#000" stroke-width="2.4"/>
<line x1="861.7" y1="827.1" x2="865.3" y2="827.1" stroke="#000" stroke-width="2.4"/>
<line x1="1117.1" y1="1042.9" x2="1117.1" y2="1047.8" stroke="#000" stroke-width="2.4"/>
<line x1="861.7" y1="683.4" x2="865.3" y2="683.4" stroke="#000" stroke-width="2.4"/>
<line x1="1285" y1="1042.9" x2="1285" y2="1047.8" stroke="#000" stroke-width="2.4"/>
<text x="1062.6" y="1115.4" font-size="29">Z’ (Ohm)</text>
<text x="785.5" y="829" font-size="29.2" text-anchor="middle" transform="rotate(-90 785.5 829)">-Z’’ (Ohm)</text>
<text x="887.3" y="658.3" font-size="29">Fully</text>
<text x="887.3" y="692.9" font-size="29">Charged</text>
<text x="1010" y="889" font-size="29" fill="#E8440C">20 kHz</text>
<text x="884.4" y="911.9" font-size="29" fill="#4862A6">20 kHz</text>
<text x="1024.4" y="982.4" font-size="29" fill="#E8440C">ES</text>
<text x="1107" y="1013.8" font-size="29" fill="#4862A6">TEGDME</text>
<text x="1384.8" y="569.5" font-size="28.5" font-weight="bold">e</text>
<path d="M1554 1025.7 C1556 1025 1561.8 1023 1566 1021.5 C1570.2 1020 1575.3 1018.1 1579.5 1016.5 C1583.7 1014.9 1587.2 1013.4 1591 1012 C1594.8 1010.6 1598.8 1009.4 1602.6 1008.4 C1606.4 1007.4 1610.1 1006.6 1614 1006 C1617.9 1005.4 1622 1005.1 1625.8 1004.9 C1629.6 1004.7 1633.2 1004.8 1637 1005 C1640.8 1005.2 1645.4 1005.6 1648.9 1006 C1652.4 1006.4 1654.9 1006.9 1658 1007.5 C1661.1 1008.1 1663.9 1008.3 1667.4 1009.5 C1670.9 1010.7 1675.1 1012.6 1679 1014.5 C1682.9 1016.4 1687.4 1019.3 1690.6 1021.1 C1693.8 1022.9 1695.3 1024.2 1698 1025.5 C1700.7 1026.8 1704 1028.3 1706.8 1029.2 C1709.6 1030.1 1712.3 1030.4 1715 1030.8 C1717.7 1031.2 1720.1 1030.8 1723 1031.5 C1725.9 1032.2 1730 1033.8 1732.2 1035 C1734.5 1036.2 1735.2 1038.2 1736.5 1039 C1737.8 1039.8 1738.6 1039.9 1740 1040 C1741.4 1040.1 1744.2 1039.7 1745 1039.6" fill="none" stroke="#E8440C" stroke-width="3.4" stroke-linejoin="round" stroke-linecap="round"/>
<path d="M1552.8 1024.6 C1554.5 1024.6 1559.5 1025.7 1563.2 1024.6 C1566.9 1023.5 1570.8 1020.3 1575 1018 C1579.2 1015.7 1584.4 1012.5 1588.7 1010.7 C1593 1008.9 1596.8 1008.2 1601 1007.2 C1605.2 1006.2 1610.1 1005.6 1614.2 1004.9 C1618.3 1004.2 1621.7 1003.6 1625.5 1003.2 C1629.3 1002.8 1633.4 1002.7 1637.3 1002.6 C1641.2 1002.5 1645.1 1002.5 1649 1002.6 C1652.9 1002.7 1655.7 1002.9 1660.5 1003.3 C1665.3 1003.7 1672.2 1004.4 1678 1005 C1683.8 1005.6 1688.5 1006.2 1695.2 1007.2 C1701.9 1008.2 1710.3 1009.6 1718 1011 C1725.7 1012.4 1734.7 1014 1741.5 1015.3 C1748.3 1016.6 1753.2 1017.6 1759 1018.8 C1764.8 1019.9 1771.4 1021.4 1776.2 1022.2 C1781 1023 1784.8 1023.5 1787.8 1023.4 C1790.8 1023.3 1792 1022.7 1794 1021.5 C1796 1020.3 1798.3 1017.8 1800 1016 C1801.7 1014.2 1802.7 1013.1 1804 1011 C1805.3 1008.9 1806.6 1006.3 1807.8 1003.6 C1809 1000.9 1810 998.3 1811 995 C1812 991.7 1812.8 988.3 1813.7 984 C1814.6 979.7 1815.5 974.2 1816.5 969 C1817.5 963.8 1817.9 962 1819.6 952.7 C1821.3 943.5 1824.1 926.6 1826.6 913.5 C1829.1 900.4 1832 887.4 1834.5 874.3 C1837 861.2 1839.3 848.2 1841.9 835.1 C1844.5 822 1847.4 809 1850.2 795.9 C1853 782.8 1855.7 769.8 1858.8 756.7 C1861.9 743.7 1865 730.7 1868.6 717.6 C1872.2 704.5 1876.1 691.5 1880.3 678.4 C1884.5 665.3 1889.8 650.9 1894 639.2 C1898.2 627.6 1903.8 613.6 1905.8 608.5" fill="none" stroke="#4862A6" stroke-width="4.0" stroke-linejoin="round" stroke-linecap="round"/>
<line x1="1602.6" y1="945.8" x2="1628.4" y2="998.6" stroke="#4862A6" stroke-width="2.6"/>
<path d="M1631.5 1004.9 L1622.2 997.2 L1628.2 998.2 L1631.2 992.8Z" fill="#4862A6"/>
<line x1="1651.7" y1="856.7" x2="1641.3" y2="996.7" stroke="#E8440C" stroke-width="2.6"/>
<path d="M1640.8 1003.7 L1636.6 992.4 L1641.4 996.2 L1646.6 993.1Z" fill="#E8440C"/>
<line x1="1736.9" y1="899.5" x2="1784.9" y2="1003.1" stroke="#4862A6" stroke-width="2.6"/>
<path d="M1787.8 1009.5 L1778.6 1001.6 L1784.7 1002.7 L1787.7 997.4Z" fill="#4862A6"/>
<rect x="1521.7" y="608.7" width="506.6" height="433.3" fill="none" stroke="#000" stroke-width="2.4"/>
<line x1="1513.9" y1="1042" x2="1521.7" y2="1042" stroke="#000" stroke-width="2.4"/>
<text x="1505" y="1052" font-size="29" text-anchor="end">0</text>
<line x1="1521.7" y1="1042" x2="1521.7" y2="1050.2" stroke="#000" stroke-width="2.4"/>
<text x="1520.8" y="1082.3" font-size="29" text-anchor="middle">0</text>
<line x1="1513.9" y1="897.5" x2="1521.7" y2="897.5" stroke="#000" stroke-width="2.4"/>
<text x="1505" y="907.5" font-size="29" text-anchor="end">200</text>
<line x1="1690.4" y1="1042" x2="1690.4" y2="1050.2" stroke="#000" stroke-width="2.4"/>
<text x="1687.1" y="1082.3" font-size="29" text-anchor="middle">200</text>
<line x1="1513.9" y1="753" x2="1521.7" y2="753" stroke="#000" stroke-width="2.4"/>
<text x="1505" y="763" font-size="29" text-anchor="end">400</text>
<line x1="1859.1" y1="1042" x2="1859.1" y2="1050.2" stroke="#000" stroke-width="2.4"/>
<text x="1855.4" y="1082.3" font-size="29" text-anchor="middle">400</text>
<line x1="1513.9" y1="608.6" x2="1521.7" y2="608.6" stroke="#000" stroke-width="2.4"/>
<text x="1505" y="618.6" font-size="29" text-anchor="end">600</text>
<line x1="2027.7" y1="1042" x2="2027.7" y2="1050.2" stroke="#000" stroke-width="2.4"/>
<text x="2023.5" y="1082.3" font-size="29" text-anchor="middle">600</text>
<line x1="1517.8" y1="969.8" x2="1521.7" y2="969.8" stroke="#000" stroke-width="2.4"/>
<line x1="1606" y1="1042" x2="1606" y2="1046.5" stroke="#000" stroke-width="2.4"/>
<line x1="1517.8" y1="825.3" x2="1521.7" y2="825.3" stroke="#000" stroke-width="2.4"/>
<line x1="1774.7" y1="1042" x2="1774.7" y2="1046.5" stroke="#000" stroke-width="2.4"/>
<line x1="1517.8" y1="680.8" x2="1521.7" y2="680.8" stroke="#000" stroke-width="2.4"/>
<line x1="1943.4" y1="1042" x2="1943.4" y2="1046.5" stroke="#000" stroke-width="2.4"/>
<text x="1722.7" y="1116" font-size="29">Z’ (Ohm)</text>
<text x="1448.3" y="838.3" font-size="29.2" text-anchor="middle" transform="rotate(-90 1448.3 838.3)">-Z’’ (Ohm)</text>
<text x="1547.8" y="655.8" font-size="29">598 mAh/g</text>
<text x="1547.8" y="691" font-size="29">Discharged</text>
<text x="1623.3" y="838.9" font-size="29" fill="#E8440C">20 kHz</text>
<text x="1688" y="896.1" font-size="29" fill="#4862A6">36 Hz</text>
<text x="1534.2" y="926.6" font-size="29" fill="#4862A6">20 kHz</text>
<text x="1662.4" y="991.7" font-size="29" fill="#E8440C">ES</text>
<text x="1830" y="1003.3" font-size="29" fill="#4862A6">TEGDME</text>
</svg>
</body></html>
